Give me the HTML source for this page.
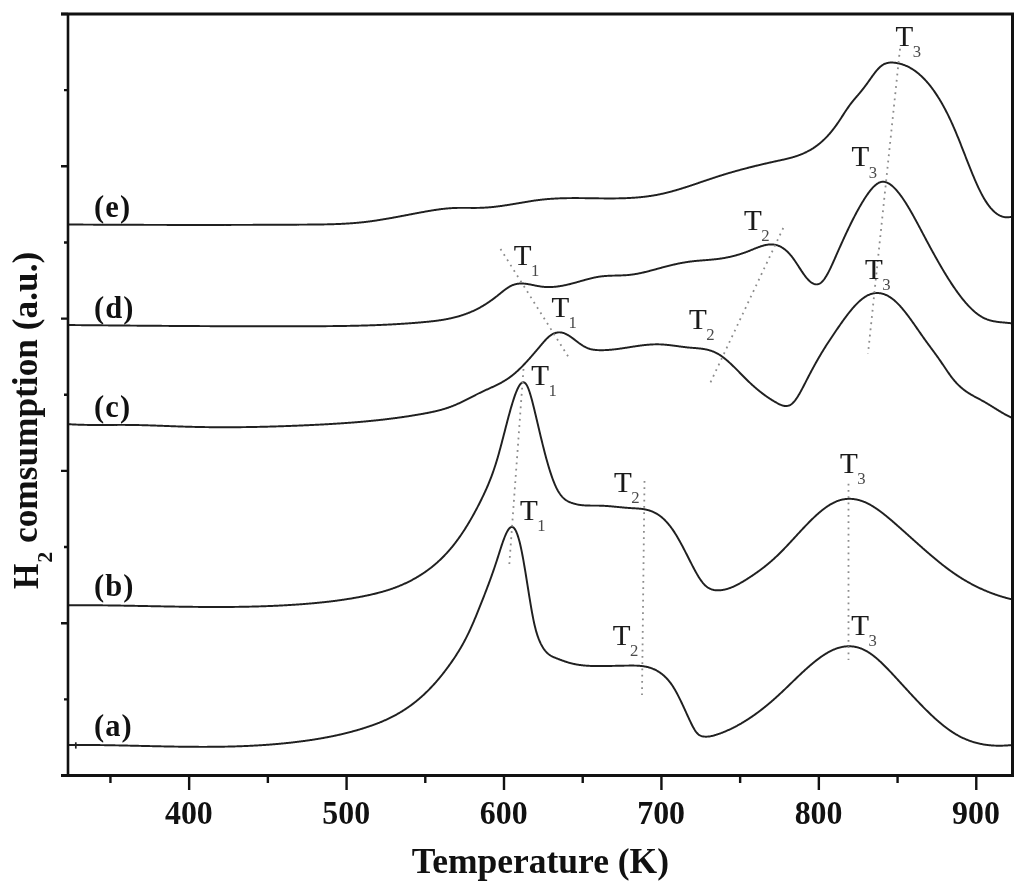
<!DOCTYPE html>
<html><head><meta charset="utf-8"><title>H2 TPR profiles</title>
<style>html,body{margin:0;padding:0;background:#fff;}body{width:1024px;height:892px;overflow:hidden;font-family:"Liberation Serif",serif;}svg{display:block;will-change:transform;}</style>
</head><body>
<svg width="1024" height="892" viewBox="0 0 1024 892">
<rect width="1024" height="892" fill="#fff"/>
<g fill="none" stroke="#202020" stroke-width="1.95" stroke-linejoin="round" stroke-linecap="round">
<path d="M69.00,744.99 L69.50,744.98 L70.00,744.98 L70.50,744.98 L71.00,744.97 L71.50,744.97 L72.00,744.97 L72.50,744.97 L73.00,744.96 L73.50,744.96 L74.00,744.96 L74.50,744.96 L75.00,744.96 L75.50,744.95 L76.00,744.95 L76.50,744.95 L77.00,744.95 L77.50,744.95 L78.00,744.95 L78.50,744.95 L79.00,744.95 L79.50,744.95 L80.00,744.95 L80.50,744.95 L81.00,744.95 L81.50,744.95 L82.00,744.95 L82.50,744.95 L83.00,744.95 L83.50,744.96 L84.00,744.96 L84.50,744.96 L85.00,744.96 L85.50,744.96 L86.00,744.97 L86.50,744.97 L87.00,744.97 L87.50,744.97 L88.00,744.98 L88.50,744.98 L89.00,744.98 L89.50,744.99 L90.00,744.99 L90.50,744.99 L91.00,745.00 L91.50,745.00 L92.00,745.01 L92.50,745.01 L93.00,745.02 L93.50,745.02 L94.00,745.03 L94.50,745.03 L95.00,745.04 L95.50,745.04 L96.00,745.05 L96.50,745.05 L97.00,745.06 L97.50,745.06 L98.00,745.07 L98.50,745.07 L99.00,745.08 L99.50,745.09 L100.00,745.09 L100.50,745.10 L101.00,745.11 L101.50,745.11 L102.00,745.12 L102.50,745.13 L103.00,745.13 L103.50,745.14 L104.00,745.15 L104.50,745.16 L105.00,745.16 L105.50,745.17 L106.00,745.18 L106.50,745.19 L107.00,745.20 L107.50,745.20 L108.00,745.21 L108.50,745.22 L109.00,745.23 L109.50,745.24 L110.00,745.25 L110.50,745.25 L111.00,745.26 L111.50,745.27 L112.00,745.28 L112.50,745.29 L113.00,745.30 L113.50,745.31 L114.00,745.32 L114.50,745.33 L115.00,745.34 L115.50,745.35 L116.00,745.36 L116.50,745.36 L117.00,745.37 L117.50,745.38 L118.00,745.39 L118.50,745.40 L119.00,745.41 L119.50,745.42 L120.00,745.43 L120.50,745.44 L121.00,745.45 L121.50,745.47 L122.00,745.48 L122.50,745.49 L123.00,745.50 L123.50,745.51 L124.00,745.52 L124.50,745.53 L125.00,745.54 L125.50,745.55 L126.00,745.56 L126.50,745.57 L127.00,745.58 L127.50,745.59 L128.00,745.60 L128.50,745.62 L129.00,745.63 L129.50,745.64 L130.00,745.65 L130.50,745.66 L131.00,745.67 L131.50,745.68 L132.00,745.69 L132.50,745.71 L133.00,745.72 L133.50,745.73 L134.00,745.74 L134.50,745.75 L135.00,745.76 L135.50,745.77 L136.00,745.78 L136.50,745.80 L137.00,745.81 L137.50,745.82 L138.00,745.83 L138.50,745.84 L139.00,745.85 L139.50,745.87 L140.00,745.88 L140.50,745.89 L141.00,745.90 L141.50,745.91 L142.00,745.92 L142.50,745.93 L143.00,745.95 L143.50,745.96 L144.00,745.97 L144.50,745.98 L145.00,745.99 L145.50,746.00 L146.00,746.01 L146.50,746.03 L147.00,746.04 L147.50,746.05 L148.00,746.06 L148.50,746.07 L149.00,746.08 L149.50,746.09 L150.00,746.11 L150.50,746.12 L151.00,746.13 L151.50,746.14 L152.00,746.15 L152.50,746.16 L153.00,746.17 L153.50,746.18 L154.00,746.19 L154.50,746.21 L155.00,746.22 L155.50,746.23 L156.00,746.24 L156.50,746.25 L157.00,746.26 L157.50,746.27 L158.00,746.28 L158.50,746.29 L159.00,746.30 L159.50,746.31 L160.00,746.32 L160.50,746.33 L161.00,746.34 L161.50,746.35 L162.00,746.36 L162.50,746.38 L163.00,746.39 L163.50,746.40 L164.00,746.41 L164.50,746.42 L165.00,746.42 L165.50,746.43 L166.00,746.44 L166.50,746.45 L167.00,746.46 L167.50,746.47 L168.00,746.48 L168.50,746.49 L169.00,746.50 L169.50,746.51 L170.00,746.52 L170.50,746.53 L171.00,746.54 L171.50,746.55 L172.00,746.55 L172.50,746.56 L173.00,746.57 L173.50,746.58 L174.00,746.59 L174.50,746.60 L175.00,746.60 L175.50,746.61 L176.00,746.62 L176.50,746.63 L177.00,746.64 L177.50,746.64 L178.00,746.65 L178.50,746.66 L179.00,746.67 L179.50,746.67 L180.00,746.68 L180.50,746.69 L181.00,746.69 L181.50,746.70 L182.00,746.71 L182.50,746.71 L183.00,746.72 L183.50,746.73 L184.00,746.73 L184.50,746.74 L185.00,746.74 L185.50,746.75 L186.00,746.75 L186.50,746.76 L187.00,746.76 L187.50,746.77 L188.00,746.78 L188.50,746.78 L189.00,746.78 L189.50,746.79 L190.00,746.79 L190.50,746.80 L191.00,746.80 L191.50,746.81 L192.00,746.81 L192.50,746.81 L193.00,746.82 L193.50,746.82 L194.00,746.82 L194.50,746.83 L195.00,746.83 L195.50,746.83 L196.00,746.83 L196.50,746.84 L197.00,746.84 L197.50,746.84 L198.00,746.84 L198.50,746.84 L199.00,746.85 L199.50,746.85 L200.00,746.85 L200.50,746.85 L201.00,746.85 L201.50,746.85 L202.00,746.85 L202.50,746.85 L203.00,746.85 L203.50,746.85 L204.00,746.85 L204.50,746.85 L205.00,746.85 L205.50,746.85 L206.00,746.85 L206.50,746.85 L207.00,746.85 L207.50,746.84 L208.00,746.84 L208.50,746.84 L209.00,746.84 L209.50,746.84 L210.00,746.83 L210.50,746.83 L211.00,746.83 L211.50,746.82 L212.00,746.82 L212.50,746.82 L213.00,746.81 L213.50,746.81 L214.00,746.80 L214.50,746.80 L215.00,746.79 L215.50,746.79 L216.00,746.78 L216.50,746.78 L217.00,746.77 L217.50,746.77 L218.00,746.76 L218.50,746.75 L219.00,746.75 L219.50,746.74 L220.00,746.73 L220.50,746.73 L221.00,746.72 L221.50,746.71 L222.00,746.70 L222.50,746.70 L223.00,746.69 L223.50,746.68 L224.00,746.67 L224.50,746.66 L225.00,746.65 L225.50,746.64 L226.00,746.63 L226.50,746.62 L227.00,746.61 L227.50,746.60 L228.00,746.59 L228.50,746.58 L229.00,746.56 L229.50,746.55 L230.00,746.54 L230.50,746.53 L231.00,746.52 L231.50,746.50 L232.00,746.49 L232.50,746.48 L233.00,746.46 L233.50,746.45 L234.00,746.43 L234.50,746.42 L235.00,746.41 L235.50,746.39 L236.00,746.37 L236.50,746.36 L237.00,746.34 L237.50,746.33 L238.00,746.31 L238.50,746.29 L239.00,746.28 L239.50,746.26 L240.00,746.24 L240.50,746.22 L241.00,746.20 L241.50,746.19 L242.00,746.17 L242.50,746.15 L243.00,746.13 L243.50,746.11 L244.00,746.09 L244.50,746.07 L245.00,746.05 L245.50,746.03 L246.00,746.00 L246.50,745.98 L247.00,745.96 L247.50,745.94 L248.00,745.92 L248.50,745.89 L249.00,745.87 L249.50,745.85 L250.00,745.82 L250.50,745.80 L251.00,745.77 L251.50,745.75 L252.00,745.72 L252.50,745.70 L253.00,745.67 L253.50,745.64 L254.00,745.62 L254.50,745.59 L255.00,745.56 L255.50,745.54 L256.00,745.51 L256.50,745.48 L257.00,745.45 L257.50,745.42 L258.00,745.39 L258.50,745.36 L259.00,745.33 L259.50,745.30 L260.00,745.27 L260.50,745.24 L261.00,745.21 L261.50,745.18 L262.00,745.15 L262.50,745.11 L263.00,745.08 L263.50,745.05 L264.00,745.01 L264.50,744.98 L265.00,744.94 L265.50,744.91 L266.00,744.87 L266.50,744.84 L267.00,744.80 L267.50,744.77 L268.00,744.73 L268.50,744.69 L269.00,744.66 L269.50,744.62 L270.00,744.58 L270.50,744.54 L271.00,744.50 L271.50,744.46 L272.00,744.42 L272.50,744.38 L273.00,744.34 L273.50,744.30 L274.00,744.26 L274.50,744.22 L275.00,744.18 L275.50,744.13 L276.00,744.09 L276.50,744.05 L277.00,744.00 L277.50,743.96 L278.00,743.91 L278.50,743.87 L279.00,743.82 L279.50,743.78 L280.00,743.73 L280.50,743.69 L281.00,743.64 L281.50,743.59 L282.00,743.54 L282.50,743.49 L283.00,743.45 L283.50,743.40 L284.00,743.35 L284.50,743.30 L285.00,743.25 L285.50,743.20 L286.00,743.14 L286.50,743.09 L287.00,743.04 L287.50,742.99 L288.00,742.93 L288.50,742.88 L289.00,742.83 L289.50,742.77 L290.00,742.72 L290.50,742.66 L291.00,742.61 L291.50,742.55 L292.00,742.49 L292.50,742.44 L293.00,742.38 L293.50,742.32 L294.00,742.26 L294.50,742.20 L295.00,742.14 L295.50,742.08 L296.00,742.02 L296.50,741.96 L297.00,741.90 L297.50,741.84 L298.00,741.78 L298.50,741.72 L299.00,741.65 L299.50,741.59 L300.00,741.52 L300.50,741.46 L301.00,741.40 L301.50,741.33 L302.00,741.26 L302.50,741.20 L303.00,741.13 L303.50,741.06 L304.00,740.99 L304.50,740.93 L305.00,740.86 L305.50,740.79 L306.00,740.72 L306.50,740.65 L307.00,740.58 L307.50,740.51 L308.00,740.43 L308.50,740.36 L309.00,740.29 L309.50,740.21 L310.00,740.14 L310.50,740.07 L311.00,739.99 L311.50,739.92 L312.00,739.84 L312.50,739.76 L313.00,739.68 L313.50,739.61 L314.00,739.53 L314.50,739.45 L315.00,739.37 L315.50,739.29 L316.00,739.21 L316.50,739.13 L317.00,739.05 L317.50,738.96 L318.00,738.88 L318.50,738.80 L319.00,738.71 L319.50,738.63 L320.00,738.54 L320.50,738.46 L321.00,738.37 L321.50,738.28 L322.00,738.19 L322.50,738.10 L323.00,738.01 L323.50,737.92 L324.00,737.83 L324.50,737.74 L325.00,737.65 L325.50,737.56 L326.00,737.46 L326.50,737.37 L327.00,737.28 L327.50,737.18 L328.00,737.08 L328.50,736.99 L329.00,736.89 L329.50,736.79 L330.00,736.69 L330.50,736.59 L331.00,736.49 L331.50,736.39 L332.00,736.29 L332.50,736.19 L333.00,736.09 L333.50,735.98 L334.00,735.88 L334.50,735.77 L335.00,735.67 L335.50,735.56 L336.00,735.45 L336.50,735.34 L337.00,735.23 L337.50,735.12 L338.00,735.01 L338.50,734.90 L339.00,734.79 L339.50,734.68 L340.00,734.56 L340.50,734.45 L341.00,734.33 L341.50,734.22 L342.00,734.10 L342.50,733.98 L343.00,733.86 L343.50,733.74 L344.00,733.62 L344.50,733.50 L345.00,733.38 L345.50,733.26 L346.00,733.13 L346.50,733.01 L347.00,732.88 L347.50,732.76 L348.00,732.63 L348.50,732.50 L349.00,732.37 L349.50,732.24 L350.00,732.11 L350.50,731.98 L351.00,731.85 L351.50,731.72 L352.00,731.58 L352.50,731.45 L353.00,731.31 L353.50,731.17 L354.00,731.04 L354.50,730.90 L355.00,730.76 L355.50,730.62 L356.00,730.48 L356.50,730.33 L357.00,730.19 L357.50,730.05 L358.00,729.90 L358.50,729.75 L359.00,729.61 L359.50,729.46 L360.00,729.31 L360.50,729.16 L361.00,729.01 L361.50,728.86 L362.00,728.70 L362.50,728.55 L363.00,728.39 L363.50,728.24 L364.00,728.08 L364.50,727.92 L365.00,727.76 L365.50,727.60 L366.00,727.44 L366.50,727.28 L367.00,727.12 L367.50,726.95 L368.00,726.79 L368.50,726.62 L369.00,726.45 L369.50,726.28 L370.00,726.11 L370.50,725.94 L371.00,725.77 L371.50,725.59 L372.00,725.42 L372.50,725.24 L373.00,725.06 L373.50,724.88 L374.00,724.70 L374.50,724.51 L375.00,724.33 L375.50,724.14 L376.00,723.95 L376.50,723.76 L377.00,723.57 L377.50,723.38 L378.00,723.18 L378.50,722.99 L379.00,722.79 L379.50,722.59 L380.00,722.39 L380.50,722.18 L381.00,721.98 L381.50,721.77 L382.00,721.56 L382.50,721.35 L383.00,721.14 L383.50,720.92 L384.00,720.70 L384.50,720.48 L385.00,720.26 L385.50,720.04 L386.00,719.81 L386.50,719.58 L387.00,719.35 L387.50,719.12 L388.00,718.89 L388.50,718.65 L389.00,718.41 L389.50,718.17 L390.00,717.93 L390.50,717.68 L391.00,717.43 L391.50,717.18 L392.00,716.93 L392.50,716.67 L393.00,716.41 L393.50,716.15 L394.00,715.89 L394.50,715.62 L395.00,715.35 L395.50,715.08 L396.00,714.81 L396.50,714.53 L397.00,714.25 L397.50,713.97 L398.00,713.69 L398.50,713.40 L399.00,713.11 L399.50,712.82 L400.00,712.52 L400.50,712.22 L401.00,711.92 L401.50,711.62 L402.00,711.31 L402.50,711.00 L403.00,710.68 L403.50,710.37 L404.00,710.05 L404.50,709.72 L405.00,709.40 L405.50,709.07 L406.00,708.74 L406.50,708.40 L407.00,708.06 L407.50,707.72 L408.00,707.38 L408.50,707.03 L409.00,706.68 L409.50,706.32 L410.00,705.96 L410.50,705.60 L411.00,705.23 L411.50,704.87 L412.00,704.49 L412.50,704.12 L413.00,703.74 L413.50,703.36 L414.00,702.97 L414.50,702.58 L415.00,702.18 L415.50,701.79 L416.00,701.39 L416.50,700.98 L417.00,700.57 L417.50,700.16 L418.00,699.74 L418.50,699.32 L419.00,698.90 L419.50,698.47 L420.00,698.04 L420.50,697.61 L421.00,697.17 L421.50,696.72 L422.00,696.28 L422.50,695.82 L423.00,695.37 L423.50,694.91 L424.00,694.44 L424.50,693.98 L425.00,693.50 L425.50,693.03 L426.00,692.55 L426.50,692.06 L427.00,691.58 L427.50,691.08 L428.00,690.59 L428.50,690.08 L429.00,689.58 L429.50,689.07 L430.00,688.55 L430.50,688.03 L431.00,687.51 L431.50,686.98 L432.00,686.45 L432.50,685.92 L433.00,685.38 L433.50,684.83 L434.00,684.28 L434.50,683.73 L435.00,683.17 L435.50,682.61 L436.00,682.04 L436.50,681.47 L437.00,680.89 L437.50,680.31 L438.00,679.72 L438.50,679.13 L439.00,678.54 L439.50,677.94 L440.00,677.33 L440.50,676.72 L441.00,676.11 L441.50,675.49 L442.00,674.87 L442.50,674.24 L443.00,673.61 L443.50,672.97 L444.00,672.33 L444.50,671.68 L445.00,671.03 L445.50,670.37 L446.00,669.71 L446.50,669.04 L447.00,668.37 L447.50,667.70 L448.00,667.01 L448.50,666.33 L449.00,665.64 L449.50,664.94 L450.00,664.24 L450.50,663.53 L451.00,662.82 L451.50,662.10 L452.00,661.38 L452.50,660.65 L453.00,659.92 L453.50,659.18 L454.00,658.44 L454.50,657.69 L455.00,656.94 L455.50,656.18 L456.00,655.41 L456.50,654.64 L457.00,653.85 L457.50,653.06 L458.00,652.27 L458.50,651.46 L459.00,650.64 L459.50,649.82 L460.00,648.99 L460.50,648.15 L461.00,647.29 L461.50,646.43 L462.00,645.56 L462.50,644.67 L463.00,643.78 L463.50,642.87 L464.00,641.95 L464.50,641.02 L465.00,640.08 L465.50,639.13 L466.00,638.16 L466.50,637.17 L467.00,636.18 L467.50,635.17 L468.00,634.15 L468.50,633.11 L469.00,632.06 L469.50,630.99 L470.00,629.91 L470.50,628.82 L471.00,627.71 L471.50,626.60 L472.00,625.47 L472.50,624.33 L473.00,623.18 L473.50,622.02 L474.00,620.85 L474.50,619.67 L475.00,618.48 L475.50,617.28 L476.00,616.08 L476.50,614.86 L477.00,613.64 L477.50,612.42 L478.00,611.19 L478.50,609.95 L479.00,608.70 L479.50,607.45 L480.00,606.20 L480.50,604.94 L481.00,603.68 L481.50,602.42 L482.00,601.15 L482.50,599.88 L483.00,598.61 L483.50,597.33 L484.00,596.05 L484.50,594.77 L485.00,593.48 L485.50,592.19 L486.00,590.89 L486.50,589.58 L487.00,588.27 L487.50,586.95 L488.00,585.62 L488.50,584.29 L489.00,582.95 L489.50,581.60 L490.00,580.24 L490.50,578.87 L491.00,577.48 L491.50,576.09 L492.00,574.69 L492.50,573.28 L493.00,571.85 L493.50,570.41 L494.00,568.96 L494.50,567.50 L495.00,566.02 L495.50,564.52 L496.00,563.01 L496.50,561.49 L497.00,559.95 L497.50,558.40 L498.00,556.83 L498.50,555.26 L499.00,553.68 L499.50,552.11 L500.00,550.54 L500.50,548.98 L501.00,547.44 L501.50,545.92 L502.00,544.43 L502.50,542.97 L503.00,541.54 L503.50,540.15 L504.00,538.80 L504.50,537.50 L505.00,536.25 L505.50,535.06 L506.00,533.94 L506.50,532.88 L507.00,531.89 L507.50,530.97 L508.00,530.14 L508.50,529.39 L509.00,528.73 L509.50,528.17 L510.00,527.70 L510.50,527.34 L511.00,527.09 L511.50,526.95 L512.00,526.92 L512.50,527.02 L513.00,527.24 L513.50,527.58 L514.00,528.05 L514.50,528.64 L515.00,529.36 L515.50,530.20 L516.00,531.17 L516.50,532.27 L517.00,533.50 L517.50,534.85 L518.00,536.34 L518.50,537.96 L519.00,539.70 L519.50,541.58 L520.00,543.60 L520.50,545.74 L521.00,548.01 L521.50,550.40 L522.00,552.90 L522.50,555.49 L523.00,558.18 L523.50,560.95 L524.00,563.80 L524.50,566.71 L525.00,569.69 L525.50,572.71 L526.00,575.77 L526.50,578.87 L527.00,581.99 L527.50,585.12 L528.00,588.27 L528.50,591.40 L529.00,594.53 L529.50,597.62 L530.00,600.68 L530.50,603.68 L531.00,606.63 L531.50,609.51 L532.00,612.31 L532.50,615.01 L533.00,617.62 L533.50,620.10 L534.00,622.47 L534.50,624.70 L535.00,626.80 L535.50,628.78 L536.00,630.64 L536.50,632.39 L537.00,634.04 L537.50,635.58 L538.00,637.03 L538.50,638.40 L539.00,639.68 L539.50,640.88 L540.00,642.02 L540.50,643.09 L541.00,644.11 L541.50,645.07 L542.00,645.98 L542.50,646.85 L543.00,647.66 L543.50,648.44 L544.00,649.17 L544.50,649.85 L545.00,650.50 L545.50,651.11 L546.00,651.68 L546.50,652.22 L547.00,652.73 L547.50,653.20 L548.00,653.65 L548.50,654.06 L549.00,654.45 L549.50,654.82 L550.00,655.16 L550.50,655.48 L551.00,655.78 L551.50,656.06 L552.00,656.33 L552.50,656.59 L553.00,656.83 L553.50,657.06 L554.00,657.28 L554.50,657.49 L555.00,657.70 L555.50,657.90 L556.00,658.10 L556.50,658.30 L557.00,658.49 L557.50,658.69 L558.00,658.89 L558.50,659.08 L559.00,659.28 L559.50,659.47 L560.00,659.66 L560.50,659.85 L561.00,660.03 L561.50,660.22 L562.00,660.40 L562.50,660.58 L563.00,660.76 L563.50,660.94 L564.00,661.12 L564.50,661.29 L565.00,661.46 L565.50,661.62 L566.00,661.79 L566.50,661.95 L567.00,662.11 L567.50,662.26 L568.00,662.42 L568.50,662.57 L569.00,662.71 L569.50,662.85 L570.00,662.99 L570.50,663.13 L571.00,663.26 L571.50,663.39 L572.00,663.51 L572.50,663.63 L573.00,663.75 L573.50,663.86 L574.00,663.97 L574.50,664.07 L575.00,664.17 L575.50,664.27 L576.00,664.37 L576.50,664.46 L577.00,664.55 L577.50,664.63 L578.00,664.72 L578.50,664.80 L579.00,664.87 L579.50,664.94 L580.00,665.01 L580.50,665.08 L581.00,665.15 L581.50,665.21 L582.00,665.27 L582.50,665.32 L583.00,665.38 L583.50,665.43 L584.00,665.48 L584.50,665.52 L585.00,665.57 L585.50,665.61 L586.00,665.65 L586.50,665.69 L587.00,665.72 L587.50,665.76 L588.00,665.79 L588.50,665.82 L589.00,665.84 L589.50,665.87 L590.00,665.89 L590.50,665.91 L591.00,665.93 L591.50,665.95 L592.00,665.97 L592.50,665.98 L593.00,666.00 L593.50,666.01 L594.00,666.02 L594.50,666.03 L595.00,666.04 L595.50,666.05 L596.00,666.05 L596.50,666.06 L597.00,666.06 L597.50,666.07 L598.00,666.07 L598.50,666.07 L599.00,666.07 L599.50,666.07 L600.00,666.07 L600.50,666.07 L601.00,666.07 L601.50,666.07 L602.00,666.06 L602.50,666.06 L603.00,666.05 L603.50,666.05 L604.00,666.04 L604.50,666.04 L605.00,666.03 L605.50,666.03 L606.00,666.02 L606.50,666.01 L607.00,666.00 L607.50,666.00 L608.00,665.99 L608.50,665.98 L609.00,665.97 L609.50,665.96 L610.00,665.95 L610.50,665.94 L611.00,665.93 L611.50,665.92 L612.00,665.91 L612.50,665.90 L613.00,665.89 L613.50,665.88 L614.00,665.87 L614.50,665.86 L615.00,665.85 L615.50,665.84 L616.00,665.82 L616.50,665.81 L617.00,665.80 L617.50,665.79 L618.00,665.78 L618.50,665.77 L619.00,665.76 L619.50,665.75 L620.00,665.74 L620.50,665.73 L621.00,665.72 L621.50,665.71 L622.00,665.70 L622.50,665.69 L623.00,665.68 L623.50,665.67 L624.00,665.66 L624.50,665.65 L625.00,665.64 L625.50,665.64 L626.00,665.63 L626.50,665.62 L627.00,665.62 L627.50,665.61 L628.00,665.60 L628.50,665.60 L629.00,665.59 L629.50,665.59 L630.00,665.59 L630.50,665.58 L631.00,665.58 L631.50,665.58 L632.00,665.58 L632.50,665.58 L633.00,665.58 L633.50,665.59 L634.00,665.59 L634.50,665.60 L635.00,665.61 L635.50,665.62 L636.00,665.64 L636.50,665.65 L637.00,665.67 L637.50,665.70 L638.00,665.72 L638.50,665.75 L639.00,665.78 L639.50,665.82 L640.00,665.86 L640.50,665.91 L641.00,665.95 L641.50,666.01 L642.00,666.06 L642.50,666.13 L643.00,666.19 L643.50,666.27 L644.00,666.34 L644.50,666.43 L645.00,666.52 L645.50,666.61 L646.00,666.71 L646.50,666.82 L647.00,666.93 L647.50,667.05 L648.00,667.17 L648.50,667.31 L649.00,667.44 L649.50,667.59 L650.00,667.75 L650.50,667.91 L651.00,668.08 L651.50,668.25 L652.00,668.44 L652.50,668.63 L653.00,668.83 L653.50,669.04 L654.00,669.26 L654.50,669.49 L655.00,669.73 L655.50,669.97 L656.00,670.23 L656.50,670.49 L657.00,670.77 L657.50,671.05 L658.00,671.35 L658.50,671.65 L659.00,671.97 L659.50,672.29 L660.00,672.63 L660.50,672.98 L661.00,673.34 L661.50,673.71 L662.00,674.10 L662.50,674.49 L663.00,674.91 L663.50,675.33 L664.00,675.77 L664.50,676.23 L665.00,676.69 L665.50,677.18 L666.00,677.68 L666.50,678.20 L667.00,678.73 L667.50,679.28 L668.00,679.85 L668.50,680.43 L669.00,681.04 L669.50,681.66 L670.00,682.30 L670.50,682.96 L671.00,683.64 L671.50,684.34 L672.00,685.06 L672.50,685.81 L673.00,686.57 L673.50,687.36 L674.00,688.16 L674.50,688.99 L675.00,689.85 L675.50,690.72 L676.00,691.61 L676.50,692.52 L677.00,693.45 L677.50,694.40 L678.00,695.36 L678.50,696.34 L679.00,697.33 L679.50,698.34 L680.00,699.35 L680.50,700.38 L681.00,701.42 L681.50,702.47 L682.00,703.53 L682.50,704.60 L683.00,705.67 L683.50,706.75 L684.00,707.83 L684.50,708.92 L685.00,710.01 L685.50,711.10 L686.00,712.20 L686.50,713.29 L687.00,714.39 L687.50,715.48 L688.00,716.57 L688.50,717.66 L689.00,718.74 L689.50,719.82 L690.00,720.89 L690.50,721.94 L691.00,722.99 L691.50,724.01 L692.00,725.01 L692.50,725.98 L693.00,726.93 L693.50,727.84 L694.00,728.72 L694.50,729.56 L695.00,730.35 L695.50,731.10 L696.00,731.80 L696.50,732.45 L697.00,733.04 L697.50,733.57 L698.00,734.05 L698.50,734.47 L699.00,734.85 L699.50,735.17 L700.00,735.46 L700.50,735.70 L701.00,735.91 L701.50,736.08 L702.00,736.23 L702.50,736.34 L703.00,736.44 L703.50,736.51 L704.00,736.57 L704.50,736.62 L705.00,736.65 L705.50,736.67 L706.00,736.67 L706.50,736.67 L707.00,736.65 L707.50,736.63 L708.00,736.59 L708.50,736.54 L709.00,736.48 L709.50,736.42 L710.00,736.34 L710.50,736.26 L711.00,736.16 L711.50,736.06 L712.00,735.95 L712.50,735.84 L713.00,735.71 L713.50,735.58 L714.00,735.45 L714.50,735.31 L715.00,735.16 L715.50,735.01 L716.00,734.85 L716.50,734.69 L717.00,734.53 L717.50,734.36 L718.00,734.19 L718.50,734.02 L719.00,733.84 L719.50,733.67 L720.00,733.48 L720.50,733.30 L721.00,733.11 L721.50,732.93 L722.00,732.73 L722.50,732.54 L723.00,732.34 L723.50,732.14 L724.00,731.94 L724.50,731.74 L725.00,731.53 L725.50,731.32 L726.00,731.11 L726.50,730.89 L727.00,730.67 L727.50,730.45 L728.00,730.23 L728.50,730.00 L729.00,729.77 L729.50,729.54 L730.00,729.31 L730.50,729.07 L731.00,728.84 L731.50,728.59 L732.00,728.35 L732.50,728.10 L733.00,727.86 L733.50,727.60 L734.00,727.35 L734.50,727.09 L735.00,726.84 L735.50,726.57 L736.00,726.31 L736.50,726.04 L737.00,725.78 L737.50,725.50 L738.00,725.23 L738.50,724.95 L739.00,724.68 L739.50,724.39 L740.00,724.11 L740.50,723.82 L741.00,723.54 L741.50,723.24 L742.00,722.95 L742.50,722.65 L743.00,722.36 L743.50,722.06 L744.00,721.75 L744.50,721.45 L745.00,721.14 L745.50,720.83 L746.00,720.51 L746.50,720.20 L747.00,719.88 L747.50,719.56 L748.00,719.24 L748.50,718.91 L749.00,718.59 L749.50,718.26 L750.00,717.92 L750.50,717.59 L751.00,717.25 L751.50,716.91 L752.00,716.57 L752.50,716.23 L753.00,715.88 L753.50,715.53 L754.00,715.18 L754.50,714.83 L755.00,714.47 L755.50,714.11 L756.00,713.75 L756.50,713.39 L757.00,713.03 L757.50,712.66 L758.00,712.29 L758.50,711.92 L759.00,711.54 L759.50,711.17 L760.00,710.79 L760.50,710.41 L761.00,710.02 L761.50,709.64 L762.00,709.25 L762.50,708.86 L763.00,708.47 L763.50,708.07 L764.00,707.68 L764.50,707.28 L765.00,706.88 L765.50,706.47 L766.00,706.07 L766.50,705.66 L767.00,705.25 L767.50,704.84 L768.00,704.42 L768.50,704.01 L769.00,703.59 L769.50,703.17 L770.00,702.74 L770.50,702.32 L771.00,701.89 L771.50,701.46 L772.00,701.03 L772.50,700.60 L773.00,700.16 L773.50,699.72 L774.00,699.28 L774.50,698.84 L775.00,698.39 L775.50,697.95 L776.00,697.50 L776.50,697.05 L777.00,696.59 L777.50,696.14 L778.00,695.68 L778.50,695.22 L779.00,694.76 L779.50,694.30 L780.00,693.83 L780.50,693.37 L781.00,692.90 L781.50,692.43 L782.00,691.96 L782.50,691.49 L783.00,691.01 L783.50,690.54 L784.00,690.06 L784.50,689.58 L785.00,689.11 L785.50,688.63 L786.00,688.15 L786.50,687.67 L787.00,687.19 L787.50,686.70 L788.00,686.22 L788.50,685.74 L789.00,685.26 L789.50,684.77 L790.00,684.29 L790.50,683.80 L791.00,683.32 L791.50,682.84 L792.00,682.35 L792.50,681.87 L793.00,681.38 L793.50,680.90 L794.00,680.42 L794.50,679.94 L795.00,679.45 L795.50,678.97 L796.00,678.49 L796.50,678.01 L797.00,677.53 L797.50,677.05 L798.00,676.57 L798.50,676.10 L799.00,675.62 L799.50,675.15 L800.00,674.68 L800.50,674.20 L801.00,673.73 L801.50,673.26 L802.00,672.80 L802.50,672.33 L803.00,671.87 L803.50,671.41 L804.00,670.94 L804.50,670.49 L805.00,670.03 L805.50,669.58 L806.00,669.12 L806.50,668.67 L807.00,668.22 L807.50,667.78 L808.00,667.34 L808.50,666.90 L809.00,666.46 L809.50,666.02 L810.00,665.59 L810.50,665.16 L811.00,664.73 L811.50,664.31 L812.00,663.89 L812.50,663.47 L813.00,663.06 L813.50,662.65 L814.00,662.24 L814.50,661.83 L815.00,661.43 L815.50,661.03 L816.00,660.64 L816.50,660.25 L817.00,659.86 L817.50,659.48 L818.00,659.10 L818.50,658.73 L819.00,658.36 L819.50,657.99 L820.00,657.63 L820.50,657.27 L821.00,656.92 L821.50,656.57 L822.00,656.22 L822.50,655.88 L823.00,655.55 L823.50,655.22 L824.00,654.89 L824.50,654.57 L825.00,654.26 L825.50,653.94 L826.00,653.64 L826.50,653.34 L827.00,653.04 L827.50,652.75 L828.00,652.47 L828.50,652.19 L829.00,651.92 L829.50,651.65 L830.00,651.39 L830.50,651.13 L831.00,650.88 L831.50,650.64 L832.00,650.40 L832.50,650.16 L833.00,649.94 L833.50,649.72 L834.00,649.50 L834.50,649.30 L835.00,649.10 L835.50,648.90 L836.00,648.71 L836.50,648.53 L837.00,648.36 L837.50,648.19 L838.00,648.03 L838.50,647.88 L839.00,647.73 L839.50,647.59 L840.00,647.46 L840.50,647.33 L841.00,647.21 L841.50,647.10 L842.00,646.99 L842.50,646.89 L843.00,646.80 L843.50,646.72 L844.00,646.64 L844.50,646.57 L845.00,646.51 L845.50,646.45 L846.00,646.41 L846.50,646.37 L847.00,646.33 L847.50,646.31 L848.00,646.29 L848.50,646.28 L849.00,646.27 L849.50,646.28 L850.00,646.29 L850.50,646.31 L851.00,646.33 L851.50,646.37 L852.00,646.41 L852.50,646.46 L853.00,646.52 L853.50,646.58 L854.00,646.66 L854.50,646.74 L855.00,646.83 L855.50,646.92 L856.00,647.03 L856.50,647.14 L857.00,647.26 L857.50,647.39 L858.00,647.52 L858.50,647.67 L859.00,647.82 L859.50,647.98 L860.00,648.15 L860.50,648.33 L861.00,648.51 L861.50,648.71 L862.00,648.91 L862.50,649.12 L863.00,649.34 L863.50,649.57 L864.00,649.80 L864.50,650.05 L865.00,650.30 L865.50,650.56 L866.00,650.83 L866.50,651.11 L867.00,651.40 L867.50,651.69 L868.00,651.99 L868.50,652.30 L869.00,652.62 L869.50,652.95 L870.00,653.29 L870.50,653.63 L871.00,653.98 L871.50,654.33 L872.00,654.70 L872.50,655.07 L873.00,655.45 L873.50,655.83 L874.00,656.22 L874.50,656.62 L875.00,657.02 L875.50,657.43 L876.00,657.85 L876.50,658.27 L877.00,658.70 L877.50,659.13 L878.00,659.57 L878.50,660.01 L879.00,660.46 L879.50,660.91 L880.00,661.37 L880.50,661.83 L881.00,662.30 L881.50,662.77 L882.00,663.25 L882.50,663.73 L883.00,664.22 L883.50,664.71 L884.00,665.20 L884.50,665.70 L885.00,666.20 L885.50,666.70 L886.00,667.21 L886.50,667.72 L887.00,668.23 L887.50,668.74 L888.00,669.26 L888.50,669.78 L889.00,670.31 L889.50,670.83 L890.00,671.36 L890.50,671.89 L891.00,672.42 L891.50,672.95 L892.00,673.49 L892.50,674.03 L893.00,674.56 L893.50,675.10 L894.00,675.64 L894.50,676.18 L895.00,676.72 L895.50,677.27 L896.00,677.81 L896.50,678.35 L897.00,678.90 L897.50,679.44 L898.00,679.99 L898.50,680.53 L899.00,681.08 L899.50,681.62 L900.00,682.17 L900.50,682.72 L901.00,683.26 L901.50,683.81 L902.00,684.36 L902.50,684.90 L903.00,685.45 L903.50,686.00 L904.00,686.55 L904.50,687.09 L905.00,687.64 L905.50,688.18 L906.00,688.73 L906.50,689.28 L907.00,689.82 L907.50,690.37 L908.00,690.91 L908.50,691.45 L909.00,692.00 L909.50,692.54 L910.00,693.08 L910.50,693.62 L911.00,694.16 L911.50,694.70 L912.00,695.24 L912.50,695.78 L913.00,696.32 L913.50,696.86 L914.00,697.39 L914.50,697.92 L915.00,698.46 L915.50,698.99 L916.00,699.52 L916.50,700.05 L917.00,700.58 L917.50,701.11 L918.00,701.63 L918.50,702.16 L919.00,702.68 L919.50,703.20 L920.00,703.72 L920.50,704.24 L921.00,704.76 L921.50,705.27 L922.00,705.79 L922.50,706.30 L923.00,706.81 L923.50,707.32 L924.00,707.82 L924.50,708.33 L925.00,708.83 L925.50,709.33 L926.00,709.83 L926.50,710.33 L927.00,710.82 L927.50,711.31 L928.00,711.80 L928.50,712.29 L929.00,712.78 L929.50,713.26 L930.00,713.74 L930.50,714.22 L931.00,714.70 L931.50,715.17 L932.00,715.64 L932.50,716.11 L933.00,716.57 L933.50,717.03 L934.00,717.49 L934.50,717.95 L935.00,718.41 L935.50,718.86 L936.00,719.31 L936.50,719.75 L937.00,720.19 L937.50,720.63 L938.00,721.07 L938.50,721.50 L939.00,721.93 L939.50,722.36 L940.00,722.78 L940.50,723.20 L941.00,723.62 L941.50,724.03 L942.00,724.44 L942.50,724.85 L943.00,725.25 L943.50,725.65 L944.00,726.05 L944.50,726.44 L945.00,726.83 L945.50,727.21 L946.00,727.59 L946.50,727.97 L947.00,728.34 L947.50,728.71 L948.00,729.08 L948.50,729.44 L949.00,729.80 L949.50,730.15 L950.00,730.50 L950.50,730.84 L951.00,731.18 L951.50,731.52 L952.00,731.85 L952.50,732.18 L953.00,732.50 L953.50,732.82 L954.00,733.13 L954.50,733.44 L955.00,733.74 L955.50,734.05 L956.00,734.34 L956.50,734.63 L957.00,734.92 L957.50,735.20 L958.00,735.48 L958.50,735.75 L959.00,736.02 L959.50,736.29 L960.00,736.55 L960.50,736.80 L961.00,737.06 L961.50,737.30 L962.00,737.55 L962.50,737.79 L963.00,738.02 L963.50,738.26 L964.00,738.48 L964.50,738.71 L965.00,738.92 L965.50,739.14 L966.00,739.35 L966.50,739.56 L967.00,739.76 L967.50,739.96 L968.00,740.16 L968.50,740.35 L969.00,740.54 L969.50,740.72 L970.00,740.90 L970.50,741.08 L971.00,741.25 L971.50,741.42 L972.00,741.58 L972.50,741.75 L973.00,741.90 L973.50,742.06 L974.00,742.21 L974.50,742.36 L975.00,742.50 L975.50,742.64 L976.00,742.78 L976.50,742.91 L977.00,743.04 L977.50,743.16 L978.00,743.29 L978.50,743.41 L979.00,743.52 L979.50,743.64 L980.00,743.75 L980.50,743.85 L981.00,743.96 L981.50,744.05 L982.00,744.15 L982.50,744.24 L983.00,744.34 L983.50,744.42 L984.00,744.51 L984.50,744.59 L985.00,744.67 L985.50,744.74 L986.00,744.81 L986.50,744.88 L987.00,744.95 L987.50,745.01 L988.00,745.07 L988.50,745.13 L989.00,745.18 L989.50,745.23 L990.00,745.28 L990.50,745.33 L991.00,745.37 L991.50,745.41 L992.00,745.45 L992.50,745.48 L993.00,745.52 L993.50,745.55 L994.00,745.57 L994.50,745.60 L995.00,745.62 L995.50,745.64 L996.00,745.66 L996.50,745.67 L997.00,745.68 L997.50,745.69 L998.00,745.70 L998.50,745.71 L999.00,745.71 L999.50,745.71 L1000.00,745.71 L1000.50,745.70 L1001.00,745.69 L1001.50,745.69 L1002.00,745.67 L1002.50,745.66 L1003.00,745.65 L1003.50,745.63 L1004.00,745.61 L1004.50,745.59 L1005.00,745.56 L1005.50,745.54 L1006.00,745.51 L1006.50,745.48 L1007.00,745.45 L1007.50,745.41 L1008.00,745.38 L1008.50,745.34 L1009.00,745.30 L1009.50,745.26 L1010.00,745.22 L1010.50,745.17 L1011.00,745.12 L1011.40,745.09"/>
<path d="M69.00,605.21 L69.50,605.20 L70.00,605.20 L70.50,605.20 L71.00,605.20 L71.50,605.20 L72.00,605.19 L72.50,605.19 L73.00,605.19 L73.50,605.19 L74.00,605.19 L74.50,605.19 L75.00,605.19 L75.50,605.19 L76.00,605.19 L76.50,605.19 L77.00,605.19 L77.50,605.19 L78.00,605.19 L78.50,605.19 L79.00,605.19 L79.50,605.19 L80.00,605.19 L80.50,605.19 L81.00,605.19 L81.50,605.19 L82.00,605.19 L82.50,605.19 L83.00,605.19 L83.50,605.20 L84.00,605.20 L84.50,605.20 L85.00,605.20 L85.50,605.20 L86.00,605.21 L86.50,605.21 L87.00,605.21 L87.50,605.21 L88.00,605.22 L88.50,605.22 L89.00,605.22 L89.50,605.22 L90.00,605.23 L90.50,605.23 L91.00,605.23 L91.50,605.24 L92.00,605.24 L92.50,605.24 L93.00,605.25 L93.50,605.25 L94.00,605.26 L94.50,605.26 L95.00,605.26 L95.50,605.27 L96.00,605.27 L96.50,605.28 L97.00,605.28 L97.50,605.29 L98.00,605.29 L98.50,605.30 L99.00,605.30 L99.50,605.31 L100.00,605.31 L100.50,605.32 L101.00,605.32 L101.50,605.33 L102.00,605.33 L102.50,605.34 L103.00,605.35 L103.50,605.35 L104.00,605.36 L104.50,605.36 L105.00,605.37 L105.50,605.38 L106.00,605.38 L106.50,605.39 L107.00,605.39 L107.50,605.40 L108.00,605.41 L108.50,605.41 L109.00,605.42 L109.50,605.43 L110.00,605.43 L110.50,605.44 L111.00,605.45 L111.50,605.46 L112.00,605.46 L112.50,605.47 L113.00,605.48 L113.50,605.48 L114.00,605.49 L114.50,605.50 L115.00,605.51 L115.50,605.52 L116.00,605.52 L116.50,605.53 L117.00,605.54 L117.50,605.55 L118.00,605.55 L118.50,605.56 L119.00,605.57 L119.50,605.58 L120.00,605.59 L120.50,605.59 L121.00,605.60 L121.50,605.61 L122.00,605.62 L122.50,605.63 L123.00,605.64 L123.50,605.65 L124.00,605.65 L124.50,605.66 L125.00,605.67 L125.50,605.68 L126.00,605.69 L126.50,605.70 L127.00,605.71 L127.50,605.72 L128.00,605.72 L128.50,605.73 L129.00,605.74 L129.50,605.75 L130.00,605.76 L130.50,605.77 L131.00,605.78 L131.50,605.79 L132.00,605.80 L132.50,605.81 L133.00,605.82 L133.50,605.82 L134.00,605.83 L134.50,605.84 L135.00,605.85 L135.50,605.86 L136.00,605.87 L136.50,605.88 L137.00,605.89 L137.50,605.90 L138.00,605.91 L138.50,605.92 L139.00,605.93 L139.50,605.94 L140.00,605.95 L140.50,605.96 L141.00,605.97 L141.50,605.98 L142.00,605.99 L142.50,606.00 L143.00,606.01 L143.50,606.02 L144.00,606.02 L144.50,606.03 L145.00,606.04 L145.50,606.05 L146.00,606.06 L146.50,606.07 L147.00,606.08 L147.50,606.09 L148.00,606.10 L148.50,606.11 L149.00,606.12 L149.50,606.13 L150.00,606.14 L150.50,606.15 L151.00,606.16 L151.50,606.17 L152.00,606.18 L152.50,606.19 L153.00,606.20 L153.50,606.21 L154.00,606.22 L154.50,606.23 L155.00,606.24 L155.50,606.25 L156.00,606.26 L156.50,606.27 L157.00,606.28 L157.50,606.28 L158.00,606.29 L158.50,606.30 L159.00,606.31 L159.50,606.32 L160.00,606.33 L160.50,606.34 L161.00,606.35 L161.50,606.36 L162.00,606.37 L162.50,606.38 L163.00,606.39 L163.50,606.40 L164.00,606.41 L164.50,606.42 L165.00,606.42 L165.50,606.43 L166.00,606.44 L166.50,606.45 L167.00,606.46 L167.50,606.47 L168.00,606.48 L168.50,606.49 L169.00,606.50 L169.50,606.50 L170.00,606.51 L170.50,606.52 L171.00,606.53 L171.50,606.54 L172.00,606.55 L172.50,606.56 L173.00,606.56 L173.50,606.57 L174.00,606.58 L174.50,606.59 L175.00,606.60 L175.50,606.61 L176.00,606.61 L176.50,606.62 L177.00,606.63 L177.50,606.64 L178.00,606.64 L178.50,606.65 L179.00,606.66 L179.50,606.67 L180.00,606.68 L180.50,606.68 L181.00,606.69 L181.50,606.70 L182.00,606.71 L182.50,606.71 L183.00,606.72 L183.50,606.73 L184.00,606.73 L184.50,606.74 L185.00,606.75 L185.50,606.75 L186.00,606.76 L186.50,606.77 L187.00,606.77 L187.50,606.78 L188.00,606.79 L188.50,606.79 L189.00,606.80 L189.50,606.81 L190.00,606.81 L190.50,606.82 L191.00,606.82 L191.50,606.83 L192.00,606.84 L192.50,606.84 L193.00,606.85 L193.50,606.85 L194.00,606.86 L194.50,606.86 L195.00,606.87 L195.50,606.87 L196.00,606.88 L196.50,606.88 L197.00,606.89 L197.50,606.89 L198.00,606.90 L198.50,606.90 L199.00,606.91 L199.50,606.91 L200.00,606.91 L200.50,606.92 L201.00,606.92 L201.50,606.93 L202.00,606.93 L202.50,606.93 L203.00,606.94 L203.50,606.94 L204.00,606.94 L204.50,606.95 L205.00,606.95 L205.50,606.95 L206.00,606.96 L206.50,606.96 L207.00,606.96 L207.50,606.96 L208.00,606.97 L208.50,606.97 L209.00,606.97 L209.50,606.97 L210.00,606.98 L210.50,606.98 L211.00,606.98 L211.50,606.98 L212.00,606.98 L212.50,606.98 L213.00,606.98 L213.50,606.99 L214.00,606.99 L214.50,606.99 L215.00,606.99 L215.50,606.99 L216.00,606.99 L216.50,606.99 L217.00,606.99 L217.50,606.99 L218.00,606.99 L218.50,606.99 L219.00,606.99 L219.50,606.99 L220.00,606.99 L220.50,606.99 L221.00,606.98 L221.50,606.98 L222.00,606.98 L222.50,606.98 L223.00,606.98 L223.50,606.98 L224.00,606.98 L224.50,606.97 L225.00,606.97 L225.50,606.97 L226.00,606.97 L226.50,606.96 L227.00,606.96 L227.50,606.96 L228.00,606.95 L228.50,606.95 L229.00,606.95 L229.50,606.94 L230.00,606.94 L230.50,606.94 L231.00,606.93 L231.50,606.93 L232.00,606.92 L232.50,606.92 L233.00,606.91 L233.50,606.91 L234.00,606.90 L234.50,606.90 L235.00,606.89 L235.50,606.89 L236.00,606.88 L236.50,606.87 L237.00,606.87 L237.50,606.86 L238.00,606.85 L238.50,606.85 L239.00,606.84 L239.50,606.83 L240.00,606.83 L240.50,606.82 L241.00,606.81 L241.50,606.80 L242.00,606.80 L242.50,606.79 L243.00,606.78 L243.50,606.77 L244.00,606.76 L244.50,606.75 L245.00,606.74 L245.50,606.73 L246.00,606.72 L246.50,606.71 L247.00,606.70 L247.50,606.69 L248.00,606.68 L248.50,606.67 L249.00,606.66 L249.50,606.65 L250.00,606.64 L250.50,606.63 L251.00,606.62 L251.50,606.61 L252.00,606.59 L252.50,606.58 L253.00,606.57 L253.50,606.56 L254.00,606.54 L254.50,606.53 L255.00,606.52 L255.50,606.50 L256.00,606.49 L256.50,606.48 L257.00,606.46 L257.50,606.45 L258.00,606.43 L258.50,606.42 L259.00,606.40 L259.50,606.39 L260.00,606.37 L260.50,606.36 L261.00,606.34 L261.50,606.32 L262.00,606.31 L262.50,606.29 L263.00,606.27 L263.50,606.26 L264.00,606.24 L264.50,606.22 L265.00,606.20 L265.50,606.19 L266.00,606.17 L266.50,606.15 L267.00,606.13 L267.50,606.11 L268.00,606.09 L268.50,606.07 L269.00,606.05 L269.50,606.03 L270.00,606.01 L270.50,605.99 L271.00,605.97 L271.50,605.95 L272.00,605.93 L272.50,605.91 L273.00,605.89 L273.50,605.87 L274.00,605.84 L274.50,605.82 L275.00,605.80 L275.50,605.78 L276.00,605.75 L276.50,605.73 L277.00,605.71 L277.50,605.68 L278.00,605.66 L278.50,605.63 L279.00,605.61 L279.50,605.58 L280.00,605.56 L280.50,605.53 L281.00,605.51 L281.50,605.48 L282.00,605.45 L282.50,605.43 L283.00,605.40 L283.50,605.37 L284.00,605.35 L284.50,605.32 L285.00,605.29 L285.50,605.26 L286.00,605.23 L286.50,605.21 L287.00,605.18 L287.50,605.15 L288.00,605.12 L288.50,605.09 L289.00,605.06 L289.50,605.03 L290.00,605.00 L290.50,604.97 L291.00,604.93 L291.50,604.90 L292.00,604.87 L292.50,604.84 L293.00,604.81 L293.50,604.77 L294.00,604.74 L294.50,604.71 L295.00,604.67 L295.50,604.64 L296.00,604.61 L296.50,604.57 L297.00,604.54 L297.50,604.50 L298.00,604.47 L298.50,604.43 L299.00,604.40 L299.50,604.36 L300.00,604.32 L300.50,604.29 L301.00,604.25 L301.50,604.21 L302.00,604.17 L302.50,604.13 L303.00,604.10 L303.50,604.06 L304.00,604.02 L304.50,603.98 L305.00,603.94 L305.50,603.90 L306.00,603.86 L306.50,603.82 L307.00,603.78 L307.50,603.74 L308.00,603.70 L308.50,603.65 L309.00,603.61 L309.50,603.57 L310.00,603.53 L310.50,603.48 L311.00,603.44 L311.50,603.39 L312.00,603.35 L312.50,603.31 L313.00,603.26 L313.50,603.22 L314.00,603.17 L314.50,603.12 L315.00,603.08 L315.50,603.03 L316.00,602.98 L316.50,602.93 L317.00,602.89 L317.50,602.84 L318.00,602.79 L318.50,602.74 L319.00,602.69 L319.50,602.64 L320.00,602.59 L320.50,602.54 L321.00,602.49 L321.50,602.44 L322.00,602.38 L322.50,602.33 L323.00,602.28 L323.50,602.22 L324.00,602.17 L324.50,602.12 L325.00,602.06 L325.50,602.01 L326.00,601.95 L326.50,601.89 L327.00,601.84 L327.50,601.78 L328.00,601.72 L328.50,601.66 L329.00,601.60 L329.50,601.55 L330.00,601.49 L330.50,601.43 L331.00,601.37 L331.50,601.30 L332.00,601.24 L332.50,601.18 L333.00,601.12 L333.50,601.06 L334.00,600.99 L334.50,600.93 L335.00,600.86 L335.50,600.80 L336.00,600.73 L336.50,600.67 L337.00,600.60 L337.50,600.53 L338.00,600.47 L338.50,600.40 L339.00,600.33 L339.50,600.26 L340.00,600.19 L340.50,600.12 L341.00,600.05 L341.50,599.98 L342.00,599.90 L342.50,599.83 L343.00,599.76 L343.50,599.68 L344.00,599.61 L344.50,599.53 L345.00,599.46 L345.50,599.38 L346.00,599.31 L346.50,599.23 L347.00,599.15 L347.50,599.07 L348.00,598.99 L348.50,598.91 L349.00,598.83 L349.50,598.75 L350.00,598.67 L350.50,598.59 L351.00,598.50 L351.50,598.42 L352.00,598.34 L352.50,598.25 L353.00,598.17 L353.50,598.08 L354.00,597.99 L354.50,597.91 L355.00,597.82 L355.50,597.73 L356.00,597.64 L356.50,597.55 L357.00,597.46 L357.50,597.37 L358.00,597.27 L358.50,597.18 L359.00,597.09 L359.50,596.99 L360.00,596.90 L360.50,596.80 L361.00,596.71 L361.50,596.61 L362.00,596.51 L362.50,596.42 L363.00,596.32 L363.50,596.22 L364.00,596.12 L364.50,596.01 L365.00,595.91 L365.50,595.81 L366.00,595.71 L366.50,595.60 L367.00,595.50 L367.50,595.39 L368.00,595.28 L368.50,595.18 L369.00,595.07 L369.50,594.96 L370.00,594.85 L370.50,594.74 L371.00,594.62 L371.50,594.51 L372.00,594.40 L372.50,594.28 L373.00,594.16 L373.50,594.05 L374.00,593.93 L374.50,593.81 L375.00,593.69 L375.50,593.56 L376.00,593.44 L376.50,593.32 L377.00,593.19 L377.50,593.06 L378.00,592.93 L378.50,592.80 L379.00,592.67 L379.50,592.54 L380.00,592.41 L380.50,592.27 L381.00,592.13 L381.50,592.00 L382.00,591.86 L382.50,591.71 L383.00,591.57 L383.50,591.43 L384.00,591.28 L384.50,591.13 L385.00,590.99 L385.50,590.84 L386.00,590.68 L386.50,590.53 L387.00,590.37 L387.50,590.22 L388.00,590.06 L388.50,589.90 L389.00,589.74 L389.50,589.57 L390.00,589.41 L390.50,589.24 L391.00,589.07 L391.50,588.90 L392.00,588.72 L392.50,588.55 L393.00,588.37 L393.50,588.19 L394.00,588.01 L394.50,587.83 L395.00,587.64 L395.50,587.46 L396.00,587.27 L396.50,587.08 L397.00,586.88 L397.50,586.69 L398.00,586.49 L398.50,586.29 L399.00,586.09 L399.50,585.89 L400.00,585.68 L400.50,585.47 L401.00,585.26 L401.50,585.05 L402.00,584.83 L402.50,584.62 L403.00,584.40 L403.50,584.17 L404.00,583.95 L404.50,583.72 L405.00,583.49 L405.50,583.26 L406.00,583.03 L406.50,582.79 L407.00,582.55 L407.50,582.31 L408.00,582.07 L408.50,581.82 L409.00,581.57 L409.50,581.32 L410.00,581.06 L410.50,580.81 L411.00,580.54 L411.50,580.28 L412.00,580.02 L412.50,579.75 L413.00,579.48 L413.50,579.20 L414.00,578.93 L414.50,578.65 L415.00,578.37 L415.50,578.08 L416.00,577.79 L416.50,577.50 L417.00,577.21 L417.50,576.91 L418.00,576.61 L418.50,576.31 L419.00,576.00 L419.50,575.69 L420.00,575.38 L420.50,575.07 L421.00,574.75 L421.50,574.43 L422.00,574.10 L422.50,573.78 L423.00,573.45 L423.50,573.11 L424.00,572.78 L424.50,572.44 L425.00,572.09 L425.50,571.74 L426.00,571.39 L426.50,571.04 L427.00,570.68 L427.50,570.32 L428.00,569.96 L428.50,569.59 L429.00,569.21 L429.50,568.84 L430.00,568.46 L430.50,568.07 L431.00,567.69 L431.50,567.29 L432.00,566.90 L432.50,566.50 L433.00,566.09 L433.50,565.68 L434.00,565.27 L434.50,564.85 L435.00,564.43 L435.50,564.00 L436.00,563.57 L436.50,563.13 L437.00,562.69 L437.50,562.25 L438.00,561.79 L438.50,561.34 L439.00,560.88 L439.50,560.41 L440.00,559.94 L440.50,559.47 L441.00,558.99 L441.50,558.50 L442.00,558.01 L442.50,557.52 L443.00,557.01 L443.50,556.51 L444.00,555.99 L444.50,555.48 L445.00,554.95 L445.50,554.42 L446.00,553.89 L446.50,553.35 L447.00,552.80 L447.50,552.25 L448.00,551.69 L448.50,551.13 L449.00,550.56 L449.50,549.98 L450.00,549.40 L450.50,548.81 L451.00,548.22 L451.50,547.62 L452.00,547.01 L452.50,546.40 L453.00,545.78 L453.50,545.15 L454.00,544.52 L454.50,543.88 L455.00,543.23 L455.50,542.58 L456.00,541.92 L456.50,541.25 L457.00,540.58 L457.50,539.90 L458.00,539.22 L458.50,538.52 L459.00,537.82 L459.50,537.12 L460.00,536.41 L460.50,535.69 L461.00,534.96 L461.50,534.23 L462.00,533.49 L462.50,532.74 L463.00,531.99 L463.50,531.23 L464.00,530.46 L464.50,529.69 L465.00,528.91 L465.50,528.12 L466.00,527.33 L466.50,526.53 L467.00,525.72 L467.50,524.90 L468.00,524.08 L468.50,523.25 L469.00,522.42 L469.50,521.57 L470.00,520.72 L470.50,519.87 L471.00,519.00 L471.50,518.13 L472.00,517.26 L472.50,516.37 L473.00,515.48 L473.50,514.58 L474.00,513.67 L474.50,512.76 L475.00,511.84 L475.50,510.91 L476.00,509.97 L476.50,509.03 L477.00,508.08 L477.50,507.13 L478.00,506.16 L478.50,505.19 L479.00,504.21 L479.50,503.23 L480.00,502.23 L480.50,501.23 L481.00,500.22 L481.50,499.21 L482.00,498.19 L482.50,497.15 L483.00,496.12 L483.50,495.07 L484.00,494.01 L484.50,492.94 L485.00,491.86 L485.50,490.77 L486.00,489.66 L486.50,488.53 L487.00,487.39 L487.50,486.24 L488.00,485.07 L488.50,483.87 L489.00,482.66 L489.50,481.43 L490.00,480.18 L490.50,478.90 L491.00,477.60 L491.50,476.28 L492.00,474.93 L492.50,473.55 L493.00,472.15 L493.50,470.72 L494.00,469.26 L494.50,467.77 L495.00,466.25 L495.50,464.70 L496.00,463.12 L496.50,461.50 L497.00,459.85 L497.50,458.16 L498.00,456.44 L498.50,454.69 L499.00,452.91 L499.50,451.11 L500.00,449.28 L500.50,447.43 L501.00,445.56 L501.50,443.67 L502.00,441.77 L502.50,439.86 L503.00,437.94 L503.50,436.01 L504.00,434.08 L504.50,432.15 L505.00,430.21 L505.50,428.28 L506.00,426.35 L506.50,424.43 L507.00,422.52 L507.50,420.62 L508.00,418.73 L508.50,416.86 L509.00,415.01 L509.50,413.19 L510.00,411.38 L510.50,409.60 L511.00,407.85 L511.50,406.13 L512.00,404.44 L512.50,402.79 L513.00,401.18 L513.50,399.61 L514.00,398.09 L514.50,396.61 L515.00,395.19 L515.50,393.82 L516.00,392.52 L516.50,391.27 L517.00,390.09 L517.50,388.98 L518.00,387.95 L518.50,386.99 L519.00,386.11 L519.50,385.31 L520.00,384.60 L520.50,383.98 L521.00,383.45 L521.50,383.02 L522.00,382.69 L522.50,382.46 L523.00,382.34 L523.50,382.33 L524.00,382.43 L524.50,382.65 L525.00,382.99 L525.50,383.46 L526.00,384.05 L526.50,384.77 L527.00,385.63 L527.50,386.62 L528.00,387.74 L528.50,388.98 L529.00,390.33 L529.50,391.79 L530.00,393.35 L530.50,394.99 L531.00,396.71 L531.50,398.51 L532.00,400.37 L532.50,402.28 L533.00,404.24 L533.50,406.24 L534.00,408.27 L534.50,410.32 L535.00,412.40 L535.50,414.49 L536.00,416.59 L536.50,418.70 L537.00,420.83 L537.50,422.95 L538.00,425.08 L538.50,427.21 L539.00,429.34 L539.50,431.45 L540.00,433.56 L540.50,435.66 L541.00,437.74 L541.50,439.80 L542.00,441.85 L542.50,443.87 L543.00,445.88 L543.50,447.86 L544.00,449.81 L544.50,451.75 L545.00,453.65 L545.50,455.53 L546.00,457.39 L546.50,459.21 L547.00,461.00 L547.50,462.77 L548.00,464.50 L548.50,466.20 L549.00,467.87 L549.50,469.50 L550.00,471.09 L550.50,472.65 L551.00,474.17 L551.50,475.65 L552.00,477.09 L552.50,478.49 L553.00,479.85 L553.50,481.16 L554.00,482.43 L554.50,483.65 L555.00,484.83 L555.50,485.96 L556.00,487.04 L556.50,488.07 L557.00,489.06 L557.50,489.99 L558.00,490.89 L558.50,491.73 L559.00,492.54 L559.50,493.30 L560.00,494.03 L560.50,494.71 L561.00,495.36 L561.50,495.97 L562.00,496.55 L562.50,497.10 L563.00,497.61 L563.50,498.09 L564.00,498.55 L564.50,498.97 L565.00,499.37 L565.50,499.75 L566.00,500.10 L566.50,500.43 L567.00,500.74 L567.50,501.03 L568.00,501.31 L568.50,501.56 L569.00,501.80 L569.50,502.03 L570.00,502.25 L570.50,502.45 L571.00,502.65 L571.50,502.83 L572.00,503.01 L572.50,503.18 L573.00,503.35 L573.50,503.50 L574.00,503.65 L574.50,503.79 L575.00,503.92 L575.50,504.05 L576.00,504.17 L576.50,504.29 L577.00,504.39 L577.50,504.50 L578.00,504.59 L578.50,504.68 L579.00,504.77 L579.50,504.85 L580.00,504.92 L580.50,504.99 L581.00,505.05 L581.50,505.11 L582.00,505.17 L582.50,505.22 L583.00,505.27 L583.50,505.31 L584.00,505.35 L584.50,505.39 L585.00,505.42 L585.50,505.45 L586.00,505.47 L586.50,505.50 L587.00,505.52 L587.50,505.53 L588.00,505.55 L588.50,505.56 L589.00,505.57 L589.50,505.58 L590.00,505.59 L590.50,505.60 L591.00,505.60 L591.50,505.61 L592.00,505.61 L592.50,505.61 L593.00,505.61 L593.50,505.61 L594.00,505.61 L594.50,505.61 L595.00,505.61 L595.50,505.62 L596.00,505.62 L596.50,505.62 L597.00,505.62 L597.50,505.63 L598.00,505.63 L598.50,505.64 L599.00,505.65 L599.50,505.66 L600.00,505.67 L600.50,505.68 L601.00,505.70 L601.50,505.71 L602.00,505.73 L602.50,505.76 L603.00,505.78 L603.50,505.80 L604.00,505.83 L604.50,505.86 L605.00,505.89 L605.50,505.92 L606.00,505.95 L606.50,505.98 L607.00,506.02 L607.50,506.06 L608.00,506.09 L608.50,506.13 L609.00,506.17 L609.50,506.21 L610.00,506.25 L610.50,506.30 L611.00,506.34 L611.50,506.38 L612.00,506.43 L612.50,506.47 L613.00,506.52 L613.50,506.57 L614.00,506.61 L614.50,506.66 L615.00,506.71 L615.50,506.76 L616.00,506.81 L616.50,506.86 L617.00,506.90 L617.50,506.95 L618.00,507.00 L618.50,507.05 L619.00,507.10 L619.50,507.15 L620.00,507.20 L620.50,507.25 L621.00,507.29 L621.50,507.34 L622.00,507.39 L622.50,507.44 L623.00,507.48 L623.50,507.53 L624.00,507.57 L624.50,507.62 L625.00,507.66 L625.50,507.70 L626.00,507.74 L626.50,507.79 L627.00,507.83 L627.50,507.86 L628.00,507.90 L628.50,507.94 L629.00,507.97 L629.50,508.01 L630.00,508.04 L630.50,508.07 L631.00,508.10 L631.50,508.13 L632.00,508.16 L632.50,508.19 L633.00,508.21 L633.50,508.24 L634.00,508.27 L634.50,508.30 L635.00,508.33 L635.50,508.36 L636.00,508.39 L636.50,508.42 L637.00,508.45 L637.50,508.49 L638.00,508.53 L638.50,508.57 L639.00,508.61 L639.50,508.66 L640.00,508.71 L640.50,508.76 L641.00,508.82 L641.50,508.88 L642.00,508.94 L642.50,509.01 L643.00,509.08 L643.50,509.16 L644.00,509.24 L644.50,509.33 L645.00,509.42 L645.50,509.52 L646.00,509.63 L646.50,509.74 L647.00,509.86 L647.50,509.98 L648.00,510.11 L648.50,510.25 L649.00,510.39 L649.50,510.55 L650.00,510.71 L650.50,510.88 L651.00,511.05 L651.50,511.24 L652.00,511.43 L652.50,511.64 L653.00,511.85 L653.50,512.07 L654.00,512.30 L654.50,512.55 L655.00,512.80 L655.50,513.06 L656.00,513.33 L656.50,513.62 L657.00,513.91 L657.50,514.22 L658.00,514.54 L658.50,514.87 L659.00,515.21 L659.50,515.56 L660.00,515.93 L660.50,516.31 L661.00,516.70 L661.50,517.11 L662.00,517.52 L662.50,517.95 L663.00,518.40 L663.50,518.85 L664.00,519.32 L664.50,519.80 L665.00,520.30 L665.50,520.81 L666.00,521.33 L666.50,521.87 L667.00,522.42 L667.50,522.98 L668.00,523.56 L668.50,524.15 L669.00,524.76 L669.50,525.38 L670.00,526.02 L670.50,526.67 L671.00,527.33 L671.50,528.01 L672.00,528.70 L672.50,529.41 L673.00,530.13 L673.50,530.87 L674.00,531.62 L674.50,532.39 L675.00,533.17 L675.50,533.97 L676.00,534.78 L676.50,535.60 L677.00,536.44 L677.50,537.28 L678.00,538.14 L678.50,539.01 L679.00,539.90 L679.50,540.79 L680.00,541.69 L680.50,542.60 L681.00,543.52 L681.50,544.44 L682.00,545.38 L682.50,546.32 L683.00,547.27 L683.50,548.22 L684.00,549.18 L684.50,550.15 L685.00,551.12 L685.50,552.09 L686.00,553.07 L686.50,554.05 L687.00,555.03 L687.50,556.02 L688.00,557.00 L688.50,557.99 L689.00,558.98 L689.50,559.97 L690.00,560.96 L690.50,561.94 L691.00,562.93 L691.50,563.90 L692.00,564.88 L692.50,565.85 L693.00,566.81 L693.50,567.76 L694.00,568.71 L694.50,569.64 L695.00,570.56 L695.50,571.47 L696.00,572.37 L696.50,573.26 L697.00,574.13 L697.50,574.98 L698.00,575.82 L698.50,576.64 L699.00,577.44 L699.50,578.22 L700.00,578.98 L700.50,579.72 L701.00,580.43 L701.50,581.12 L702.00,581.79 L702.50,582.43 L703.00,583.04 L703.50,583.62 L704.00,584.18 L704.50,584.71 L705.00,585.20 L705.50,585.67 L706.00,586.11 L706.50,586.53 L707.00,586.91 L707.50,587.28 L708.00,587.62 L708.50,587.93 L709.00,588.22 L709.50,588.49 L710.00,588.74 L710.50,588.96 L711.00,589.17 L711.50,589.35 L712.00,589.52 L712.50,589.67 L713.00,589.80 L713.50,589.92 L714.00,590.02 L714.50,590.10 L715.00,590.17 L715.50,590.23 L716.00,590.28 L716.50,590.31 L717.00,590.33 L717.50,590.34 L718.00,590.34 L718.50,590.34 L719.00,590.32 L719.50,590.29 L720.00,590.26 L720.50,590.22 L721.00,590.17 L721.50,590.11 L722.00,590.04 L722.50,589.97 L723.00,589.89 L723.50,589.80 L724.00,589.70 L724.50,589.59 L725.00,589.48 L725.50,589.36 L726.00,589.23 L726.50,589.10 L727.00,588.96 L727.50,588.81 L728.00,588.65 L728.50,588.49 L729.00,588.33 L729.50,588.15 L730.00,587.97 L730.50,587.79 L731.00,587.59 L731.50,587.40 L732.00,587.19 L732.50,586.99 L733.00,586.77 L733.50,586.55 L734.00,586.33 L734.50,586.10 L735.00,585.86 L735.50,585.62 L736.00,585.38 L736.50,585.13 L737.00,584.88 L737.50,584.62 L738.00,584.36 L738.50,584.09 L739.00,583.82 L739.50,583.55 L740.00,583.27 L740.50,582.99 L741.00,582.71 L741.50,582.42 L742.00,582.13 L742.50,581.84 L743.00,581.54 L743.50,581.24 L744.00,580.94 L744.50,580.63 L745.00,580.33 L745.50,580.02 L746.00,579.70 L746.50,579.39 L747.00,579.07 L747.50,578.76 L748.00,578.44 L748.50,578.11 L749.00,577.79 L749.50,577.47 L750.00,577.14 L750.50,576.81 L751.00,576.48 L751.50,576.15 L752.00,575.82 L752.50,575.48 L753.00,575.14 L753.50,574.80 L754.00,574.46 L754.50,574.12 L755.00,573.77 L755.50,573.42 L756.00,573.07 L756.50,572.72 L757.00,572.37 L757.50,572.01 L758.00,571.65 L758.50,571.29 L759.00,570.92 L759.50,570.56 L760.00,570.19 L760.50,569.82 L761.00,569.44 L761.50,569.07 L762.00,568.69 L762.50,568.31 L763.00,567.92 L763.50,567.54 L764.00,567.15 L764.50,566.75 L765.00,566.36 L765.50,565.96 L766.00,565.56 L766.50,565.16 L767.00,564.75 L767.50,564.34 L768.00,563.93 L768.50,563.51 L769.00,563.09 L769.50,562.67 L770.00,562.24 L770.50,561.81 L771.00,561.38 L771.50,560.95 L772.00,560.51 L772.50,560.07 L773.00,559.62 L773.50,559.17 L774.00,558.72 L774.50,558.26 L775.00,557.80 L775.50,557.34 L776.00,556.87 L776.50,556.40 L777.00,555.93 L777.50,555.45 L778.00,554.97 L778.50,554.49 L779.00,554.00 L779.50,553.51 L780.00,553.01 L780.50,552.52 L781.00,552.01 L781.50,551.51 L782.00,551.00 L782.50,550.50 L783.00,549.98 L783.50,549.47 L784.00,548.95 L784.50,548.43 L785.00,547.91 L785.50,547.39 L786.00,546.86 L786.50,546.34 L787.00,545.81 L787.50,545.28 L788.00,544.74 L788.50,544.21 L789.00,543.68 L789.50,543.14 L790.00,542.60 L790.50,542.06 L791.00,541.52 L791.50,540.98 L792.00,540.44 L792.50,539.90 L793.00,539.36 L793.50,538.81 L794.00,538.27 L794.50,537.73 L795.00,537.18 L795.50,536.64 L796.00,536.09 L796.50,535.55 L797.00,535.01 L797.50,534.46 L798.00,533.92 L798.50,533.38 L799.00,532.84 L799.50,532.29 L800.00,531.75 L800.50,531.22 L801.00,530.68 L801.50,530.14 L802.00,529.60 L802.50,529.07 L803.00,528.54 L803.50,528.00 L804.00,527.47 L804.50,526.95 L805.00,526.42 L805.50,525.90 L806.00,525.37 L806.50,524.85 L807.00,524.34 L807.50,523.82 L808.00,523.31 L808.50,522.80 L809.00,522.29 L809.50,521.78 L810.00,521.28 L810.50,520.78 L811.00,520.28 L811.50,519.79 L812.00,519.30 L812.50,518.82 L813.00,518.33 L813.50,517.85 L814.00,517.38 L814.50,516.90 L815.00,516.44 L815.50,515.97 L816.00,515.51 L816.50,515.06 L817.00,514.60 L817.50,514.16 L818.00,513.71 L818.50,513.28 L819.00,512.84 L819.50,512.41 L820.00,511.99 L820.50,511.57 L821.00,511.16 L821.50,510.75 L822.00,510.34 L822.50,509.95 L823.00,509.55 L823.50,509.17 L824.00,508.78 L824.50,508.41 L825.00,508.04 L825.50,507.68 L826.00,507.32 L826.50,506.97 L827.00,506.62 L827.50,506.28 L828.00,505.95 L828.50,505.63 L829.00,505.31 L829.50,504.99 L830.00,504.69 L830.50,504.39 L831.00,504.10 L831.50,503.82 L832.00,503.54 L832.50,503.27 L833.00,503.01 L833.50,502.75 L834.00,502.51 L834.50,502.27 L835.00,502.04 L835.50,501.82 L836.00,501.60 L836.50,501.40 L837.00,501.20 L837.50,501.01 L838.00,500.83 L838.50,500.65 L839.00,500.49 L839.50,500.33 L840.00,500.18 L840.50,500.04 L841.00,499.90 L841.50,499.78 L842.00,499.66 L842.50,499.55 L843.00,499.45 L843.50,499.35 L844.00,499.27 L844.50,499.19 L845.00,499.12 L845.50,499.05 L846.00,499.00 L846.50,498.95 L847.00,498.91 L847.50,498.87 L848.00,498.85 L848.50,498.83 L849.00,498.82 L849.50,498.82 L850.00,498.82 L850.50,498.83 L851.00,498.85 L851.50,498.88 L852.00,498.91 L852.50,498.95 L853.00,499.00 L853.50,499.05 L854.00,499.11 L854.50,499.18 L855.00,499.26 L855.50,499.34 L856.00,499.43 L856.50,499.53 L857.00,499.63 L857.50,499.75 L858.00,499.86 L858.50,499.99 L859.00,500.12 L859.50,500.26 L860.00,500.40 L860.50,500.56 L861.00,500.72 L861.50,500.88 L862.00,501.05 L862.50,501.23 L863.00,501.42 L863.50,501.61 L864.00,501.81 L864.50,502.01 L865.00,502.22 L865.50,502.44 L866.00,502.67 L866.50,502.90 L867.00,503.13 L867.50,503.38 L868.00,503.63 L868.50,503.88 L869.00,504.14 L869.50,504.41 L870.00,504.68 L870.50,504.96 L871.00,505.24 L871.50,505.53 L872.00,505.83 L872.50,506.13 L873.00,506.43 L873.50,506.74 L874.00,507.06 L874.50,507.38 L875.00,507.70 L875.50,508.03 L876.00,508.36 L876.50,508.70 L877.00,509.04 L877.50,509.39 L878.00,509.74 L878.50,510.10 L879.00,510.46 L879.50,510.82 L880.00,511.19 L880.50,511.56 L881.00,511.93 L881.50,512.31 L882.00,512.69 L882.50,513.07 L883.00,513.46 L883.50,513.85 L884.00,514.24 L884.50,514.64 L885.00,515.04 L885.50,515.44 L886.00,515.85 L886.50,516.25 L887.00,516.66 L887.50,517.08 L888.00,517.49 L888.50,517.91 L889.00,518.33 L889.50,518.75 L890.00,519.17 L890.50,519.59 L891.00,520.02 L891.50,520.45 L892.00,520.87 L892.50,521.30 L893.00,521.74 L893.50,522.17 L894.00,522.60 L894.50,523.04 L895.00,523.47 L895.50,523.91 L896.00,524.35 L896.50,524.79 L897.00,525.23 L897.50,525.67 L898.00,526.11 L898.50,526.55 L899.00,526.99 L899.50,527.43 L900.00,527.87 L900.50,528.32 L901.00,528.76 L901.50,529.21 L902.00,529.65 L902.50,530.10 L903.00,530.54 L903.50,530.99 L904.00,531.43 L904.50,531.88 L905.00,532.33 L905.50,532.78 L906.00,533.22 L906.50,533.67 L907.00,534.12 L907.50,534.57 L908.00,535.02 L908.50,535.46 L909.00,535.91 L909.50,536.36 L910.00,536.81 L910.50,537.26 L911.00,537.71 L911.50,538.16 L912.00,538.61 L912.50,539.05 L913.00,539.50 L913.50,539.95 L914.00,540.40 L914.50,540.85 L915.00,541.29 L915.50,541.74 L916.00,542.19 L916.50,542.64 L917.00,543.08 L917.50,543.53 L918.00,543.97 L918.50,544.42 L919.00,544.86 L919.50,545.31 L920.00,545.75 L920.50,546.20 L921.00,546.64 L921.50,547.08 L922.00,547.52 L922.50,547.96 L923.00,548.41 L923.50,548.84 L924.00,549.28 L924.50,549.72 L925.00,550.16 L925.50,550.60 L926.00,551.03 L926.50,551.47 L927.00,551.90 L927.50,552.34 L928.00,552.77 L928.50,553.20 L929.00,553.63 L929.50,554.06 L930.00,554.49 L930.50,554.91 L931.00,555.34 L931.50,555.77 L932.00,556.19 L932.50,556.61 L933.00,557.03 L933.50,557.45 L934.00,557.87 L934.50,558.29 L935.00,558.71 L935.50,559.12 L936.00,559.54 L936.50,559.95 L937.00,560.36 L937.50,560.77 L938.00,561.18 L938.50,561.59 L939.00,561.99 L939.50,562.39 L940.00,562.80 L940.50,563.20 L941.00,563.60 L941.50,563.99 L942.00,564.39 L942.50,564.78 L943.00,565.17 L943.50,565.57 L944.00,565.95 L944.50,566.34 L945.00,566.73 L945.50,567.11 L946.00,567.49 L946.50,567.87 L947.00,568.25 L947.50,568.62 L948.00,568.99 L948.50,569.37 L949.00,569.74 L949.50,570.10 L950.00,570.47 L950.50,570.83 L951.00,571.19 L951.50,571.55 L952.00,571.91 L952.50,572.26 L953.00,572.61 L953.50,572.96 L954.00,573.31 L954.50,573.65 L955.00,574.00 L955.50,574.34 L956.00,574.67 L956.50,575.01 L957.00,575.34 L957.50,575.67 L958.00,576.00 L958.50,576.33 L959.00,576.65 L959.50,576.97 L960.00,577.29 L960.50,577.61 L961.00,577.93 L961.50,578.24 L962.00,578.55 L962.50,578.86 L963.00,579.16 L963.50,579.47 L964.00,579.77 L964.50,580.07 L965.00,580.37 L965.50,580.66 L966.00,580.95 L966.50,581.24 L967.00,581.53 L967.50,581.82 L968.00,582.10 L968.50,582.38 L969.00,582.66 L969.50,582.94 L970.00,583.22 L970.50,583.49 L971.00,583.76 L971.50,584.03 L972.00,584.30 L972.50,584.56 L973.00,584.82 L973.50,585.08 L974.00,585.34 L974.50,585.60 L975.00,585.85 L975.50,586.10 L976.00,586.35 L976.50,586.60 L977.00,586.85 L977.50,587.09 L978.00,587.33 L978.50,587.57 L979.00,587.81 L979.50,588.05 L980.00,588.28 L980.50,588.51 L981.00,588.74 L981.50,588.97 L982.00,589.20 L982.50,589.42 L983.00,589.64 L983.50,589.86 L984.00,590.08 L984.50,590.30 L985.00,590.51 L985.50,590.72 L986.00,590.93 L986.50,591.14 L987.00,591.35 L987.50,591.55 L988.00,591.75 L988.50,591.96 L989.00,592.15 L989.50,592.35 L990.00,592.55 L990.50,592.74 L991.00,592.93 L991.50,593.12 L992.00,593.31 L992.50,593.49 L993.00,593.68 L993.50,593.86 L994.00,594.04 L994.50,594.22 L995.00,594.39 L995.50,594.57 L996.00,594.74 L996.50,594.91 L997.00,595.08 L997.50,595.25 L998.00,595.41 L998.50,595.58 L999.00,595.74 L999.50,595.90 L1000.00,596.06 L1000.50,596.22 L1001.00,596.37 L1001.50,596.53 L1002.00,596.68 L1002.50,596.83 L1003.00,596.98 L1003.50,597.12 L1004.00,597.27 L1004.50,597.41 L1005.00,597.55 L1005.50,597.69 L1006.00,597.83 L1006.50,597.97 L1007.00,598.10 L1007.50,598.24 L1008.00,598.37 L1008.50,598.50 L1009.00,598.63 L1009.50,598.75 L1010.00,598.88 L1010.50,599.00 L1011.00,599.12 L1011.40,599.22"/>
<path d="M69.00,424.22 L69.50,424.25 L70.00,424.28 L70.50,424.31 L71.00,424.34 L71.50,424.37 L72.00,424.40 L72.50,424.42 L73.00,424.45 L73.50,424.47 L74.00,424.50 L74.50,424.52 L75.00,424.54 L75.50,424.57 L76.00,424.59 L76.50,424.61 L77.00,424.63 L77.50,424.65 L78.00,424.67 L78.50,424.68 L79.00,424.70 L79.50,424.72 L80.00,424.73 L80.50,424.75 L81.00,424.76 L81.50,424.78 L82.00,424.79 L82.50,424.80 L83.00,424.82 L83.50,424.83 L84.00,424.84 L84.50,424.85 L85.00,424.86 L85.50,424.87 L86.00,424.88 L86.50,424.89 L87.00,424.90 L87.50,424.90 L88.00,424.91 L88.50,424.92 L89.00,424.92 L89.50,424.93 L90.00,424.93 L90.50,424.94 L91.00,424.94 L91.50,424.95 L92.00,424.95 L92.50,424.96 L93.00,424.96 L93.50,424.96 L94.00,424.96 L94.50,424.97 L95.00,424.97 L95.50,424.97 L96.00,424.97 L96.50,424.97 L97.00,424.97 L97.50,424.97 L98.00,424.97 L98.50,424.97 L99.00,424.97 L99.50,424.97 L100.00,424.97 L100.50,424.97 L101.00,424.97 L101.50,424.97 L102.00,424.97 L102.50,424.97 L103.00,424.96 L103.50,424.96 L104.00,424.96 L104.50,424.96 L105.00,424.96 L105.50,424.95 L106.00,424.95 L106.50,424.95 L107.00,424.95 L107.50,424.94 L108.00,424.94 L108.50,424.94 L109.00,424.94 L109.50,424.93 L110.00,424.93 L110.50,424.93 L111.00,424.92 L111.50,424.92 L112.00,424.92 L112.50,424.92 L113.00,424.91 L113.50,424.91 L114.00,424.91 L114.50,424.91 L115.00,424.90 L115.50,424.90 L116.00,424.90 L116.50,424.90 L117.00,424.90 L117.50,424.89 L118.00,424.89 L118.50,424.89 L119.00,424.89 L119.50,424.89 L120.00,424.89 L120.50,424.89 L121.00,424.89 L121.50,424.89 L122.00,424.89 L122.50,424.89 L123.00,424.89 L123.50,424.89 L124.00,424.89 L124.50,424.89 L125.00,424.90 L125.50,424.90 L126.00,424.90 L126.50,424.90 L127.00,424.91 L127.50,424.91 L128.00,424.92 L128.50,424.92 L129.00,424.93 L129.50,424.93 L130.00,424.94 L130.50,424.94 L131.00,424.95 L131.50,424.95 L132.00,424.96 L132.50,424.97 L133.00,424.98 L133.50,424.98 L134.00,424.99 L134.50,425.00 L135.00,425.01 L135.50,425.02 L136.00,425.03 L136.50,425.04 L137.00,425.05 L137.50,425.06 L138.00,425.07 L138.50,425.08 L139.00,425.09 L139.50,425.10 L140.00,425.12 L140.50,425.13 L141.00,425.14 L141.50,425.15 L142.00,425.17 L142.50,425.18 L143.00,425.19 L143.50,425.21 L144.00,425.22 L144.50,425.23 L145.00,425.25 L145.50,425.26 L146.00,425.28 L146.50,425.29 L147.00,425.31 L147.50,425.32 L148.00,425.34 L148.50,425.35 L149.00,425.37 L149.50,425.39 L150.00,425.40 L150.50,425.42 L151.00,425.43 L151.50,425.45 L152.00,425.47 L152.50,425.48 L153.00,425.50 L153.50,425.52 L154.00,425.54 L154.50,425.55 L155.00,425.57 L155.50,425.59 L156.00,425.61 L156.50,425.62 L157.00,425.64 L157.50,425.66 L158.00,425.68 L158.50,425.70 L159.00,425.71 L159.50,425.73 L160.00,425.75 L160.50,425.77 L161.00,425.79 L161.50,425.81 L162.00,425.83 L162.50,425.84 L163.00,425.86 L163.50,425.88 L164.00,425.90 L164.50,425.92 L165.00,425.94 L165.50,425.96 L166.00,425.98 L166.50,425.99 L167.00,426.01 L167.50,426.03 L168.00,426.05 L168.50,426.07 L169.00,426.09 L169.50,426.11 L170.00,426.13 L170.50,426.14 L171.00,426.16 L171.50,426.18 L172.00,426.20 L172.50,426.22 L173.00,426.24 L173.50,426.26 L174.00,426.27 L174.50,426.29 L175.00,426.31 L175.50,426.33 L176.00,426.35 L176.50,426.36 L177.00,426.38 L177.50,426.40 L178.00,426.42 L178.50,426.43 L179.00,426.45 L179.50,426.47 L180.00,426.49 L180.50,426.50 L181.00,426.52 L181.50,426.54 L182.00,426.55 L182.50,426.57 L183.00,426.58 L183.50,426.60 L184.00,426.62 L184.50,426.63 L185.00,426.65 L185.50,426.66 L186.00,426.68 L186.50,426.69 L187.00,426.71 L187.50,426.72 L188.00,426.74 L188.50,426.75 L189.00,426.76 L189.50,426.78 L190.00,426.79 L190.50,426.80 L191.00,426.82 L191.50,426.83 L192.00,426.84 L192.50,426.85 L193.00,426.87 L193.50,426.88 L194.00,426.89 L194.50,426.90 L195.00,426.91 L195.50,426.92 L196.00,426.94 L196.50,426.95 L197.00,426.96 L197.50,426.97 L198.00,426.98 L198.50,426.99 L199.00,427.00 L199.50,427.01 L200.00,427.02 L200.50,427.03 L201.00,427.03 L201.50,427.04 L202.00,427.05 L202.50,427.06 L203.00,427.07 L203.50,427.08 L204.00,427.08 L204.50,427.09 L205.00,427.10 L205.50,427.11 L206.00,427.11 L206.50,427.12 L207.00,427.13 L207.50,427.13 L208.00,427.14 L208.50,427.15 L209.00,427.15 L209.50,427.16 L210.00,427.16 L210.50,427.17 L211.00,427.17 L211.50,427.18 L212.00,427.18 L212.50,427.19 L213.00,427.19 L213.50,427.20 L214.00,427.20 L214.50,427.20 L215.00,427.21 L215.50,427.21 L216.00,427.21 L216.50,427.22 L217.00,427.22 L217.50,427.22 L218.00,427.23 L218.50,427.23 L219.00,427.23 L219.50,427.23 L220.00,427.23 L220.50,427.24 L221.00,427.24 L221.50,427.24 L222.00,427.24 L222.50,427.24 L223.00,427.24 L223.50,427.24 L224.00,427.24 L224.50,427.24 L225.00,427.24 L225.50,427.24 L226.00,427.24 L226.50,427.24 L227.00,427.24 L227.50,427.24 L228.00,427.24 L228.50,427.24 L229.00,427.24 L229.50,427.24 L230.00,427.23 L230.50,427.23 L231.00,427.23 L231.50,427.23 L232.00,427.23 L232.50,427.22 L233.00,427.22 L233.50,427.22 L234.00,427.22 L234.50,427.21 L235.00,427.21 L235.50,427.21 L236.00,427.20 L236.50,427.20 L237.00,427.19 L237.50,427.19 L238.00,427.19 L238.50,427.18 L239.00,427.18 L239.50,427.17 L240.00,427.17 L240.50,427.16 L241.00,427.16 L241.50,427.15 L242.00,427.15 L242.50,427.14 L243.00,427.13 L243.50,427.13 L244.00,427.12 L244.50,427.12 L245.00,427.11 L245.50,427.10 L246.00,427.10 L246.50,427.09 L247.00,427.08 L247.50,427.07 L248.00,427.07 L248.50,427.06 L249.00,427.05 L249.50,427.04 L250.00,427.03 L250.50,427.03 L251.00,427.02 L251.50,427.01 L252.00,427.00 L252.50,426.99 L253.00,426.98 L253.50,426.97 L254.00,426.97 L254.50,426.96 L255.00,426.95 L255.50,426.94 L256.00,426.93 L256.50,426.92 L257.00,426.91 L257.50,426.90 L258.00,426.89 L258.50,426.87 L259.00,426.86 L259.50,426.85 L260.00,426.84 L260.50,426.83 L261.00,426.82 L261.50,426.81 L262.00,426.80 L262.50,426.79 L263.00,426.77 L263.50,426.76 L264.00,426.75 L264.50,426.74 L265.00,426.72 L265.50,426.71 L266.00,426.70 L266.50,426.69 L267.00,426.67 L267.50,426.66 L268.00,426.65 L268.50,426.63 L269.00,426.62 L269.50,426.61 L270.00,426.59 L270.50,426.58 L271.00,426.56 L271.50,426.55 L272.00,426.54 L272.50,426.52 L273.00,426.51 L273.50,426.49 L274.00,426.48 L274.50,426.46 L275.00,426.45 L275.50,426.43 L276.00,426.42 L276.50,426.40 L277.00,426.39 L277.50,426.37 L278.00,426.35 L278.50,426.34 L279.00,426.32 L279.50,426.31 L280.00,426.29 L280.50,426.27 L281.00,426.26 L281.50,426.24 L282.00,426.22 L282.50,426.21 L283.00,426.19 L283.50,426.17 L284.00,426.15 L284.50,426.14 L285.00,426.12 L285.50,426.10 L286.00,426.08 L286.50,426.06 L287.00,426.05 L287.50,426.03 L288.00,426.01 L288.50,425.99 L289.00,425.97 L289.50,425.95 L290.00,425.94 L290.50,425.92 L291.00,425.90 L291.50,425.88 L292.00,425.86 L292.50,425.84 L293.00,425.82 L293.50,425.80 L294.00,425.78 L294.50,425.76 L295.00,425.74 L295.50,425.72 L296.00,425.70 L296.50,425.68 L297.00,425.66 L297.50,425.64 L298.00,425.62 L298.50,425.60 L299.00,425.58 L299.50,425.56 L300.00,425.54 L300.50,425.51 L301.00,425.49 L301.50,425.47 L302.00,425.45 L302.50,425.43 L303.00,425.41 L303.50,425.39 L304.00,425.36 L304.50,425.34 L305.00,425.32 L305.50,425.30 L306.00,425.28 L306.50,425.25 L307.00,425.23 L307.50,425.21 L308.00,425.18 L308.50,425.16 L309.00,425.14 L309.50,425.12 L310.00,425.09 L310.50,425.07 L311.00,425.05 L311.50,425.02 L312.00,425.00 L312.50,424.97 L313.00,424.95 L313.50,424.93 L314.00,424.90 L314.50,424.88 L315.00,424.85 L315.50,424.83 L316.00,424.80 L316.50,424.78 L317.00,424.75 L317.50,424.73 L318.00,424.70 L318.50,424.68 L319.00,424.65 L319.50,424.63 L320.00,424.60 L320.50,424.58 L321.00,424.55 L321.50,424.52 L322.00,424.50 L322.50,424.47 L323.00,424.44 L323.50,424.42 L324.00,424.39 L324.50,424.36 L325.00,424.33 L325.50,424.31 L326.00,424.28 L326.50,424.25 L327.00,424.22 L327.50,424.19 L328.00,424.17 L328.50,424.14 L329.00,424.11 L329.50,424.08 L330.00,424.05 L330.50,424.02 L331.00,423.99 L331.50,423.96 L332.00,423.93 L332.50,423.90 L333.00,423.87 L333.50,423.84 L334.00,423.81 L334.50,423.78 L335.00,423.75 L335.50,423.72 L336.00,423.69 L336.50,423.65 L337.00,423.62 L337.50,423.59 L338.00,423.56 L338.50,423.53 L339.00,423.49 L339.50,423.46 L340.00,423.43 L340.50,423.39 L341.00,423.36 L341.50,423.33 L342.00,423.29 L342.50,423.26 L343.00,423.22 L343.50,423.19 L344.00,423.15 L344.50,423.12 L345.00,423.08 L345.50,423.05 L346.00,423.01 L346.50,422.98 L347.00,422.94 L347.50,422.90 L348.00,422.87 L348.50,422.83 L349.00,422.79 L349.50,422.75 L350.00,422.72 L350.50,422.68 L351.00,422.64 L351.50,422.60 L352.00,422.56 L352.50,422.53 L353.00,422.49 L353.50,422.45 L354.00,422.41 L354.50,422.37 L355.00,422.33 L355.50,422.29 L356.00,422.25 L356.50,422.20 L357.00,422.16 L357.50,422.12 L358.00,422.08 L358.50,422.04 L359.00,422.00 L359.50,421.95 L360.00,421.91 L360.50,421.87 L361.00,421.82 L361.50,421.78 L362.00,421.74 L362.50,421.69 L363.00,421.65 L363.50,421.60 L364.00,421.56 L364.50,421.51 L365.00,421.47 L365.50,421.42 L366.00,421.37 L366.50,421.33 L367.00,421.28 L367.50,421.23 L368.00,421.18 L368.50,421.14 L369.00,421.09 L369.50,421.04 L370.00,420.99 L370.50,420.94 L371.00,420.89 L371.50,420.84 L372.00,420.79 L372.50,420.74 L373.00,420.69 L373.50,420.64 L374.00,420.59 L374.50,420.54 L375.00,420.49 L375.50,420.43 L376.00,420.38 L376.50,420.33 L377.00,420.28 L377.50,420.22 L378.00,420.17 L378.50,420.11 L379.00,420.06 L379.50,420.00 L380.00,419.95 L380.50,419.89 L381.00,419.84 L381.50,419.78 L382.00,419.73 L382.50,419.67 L383.00,419.61 L383.50,419.55 L384.00,419.50 L384.50,419.44 L385.00,419.38 L385.50,419.32 L386.00,419.26 L386.50,419.20 L387.00,419.14 L387.50,419.08 L388.00,419.02 L388.50,418.96 L389.00,418.90 L389.50,418.83 L390.00,418.77 L390.50,418.71 L391.00,418.65 L391.50,418.58 L392.00,418.52 L392.50,418.45 L393.00,418.39 L393.50,418.32 L394.00,418.26 L394.50,418.19 L395.00,418.13 L395.50,418.06 L396.00,417.99 L396.50,417.93 L397.00,417.86 L397.50,417.79 L398.00,417.72 L398.50,417.65 L399.00,417.58 L399.50,417.51 L400.00,417.44 L400.50,417.37 L401.00,417.30 L401.50,417.23 L402.00,417.16 L402.50,417.09 L403.00,417.02 L403.50,416.94 L404.00,416.87 L404.50,416.80 L405.00,416.72 L405.50,416.65 L406.00,416.57 L406.50,416.50 L407.00,416.42 L407.50,416.34 L408.00,416.27 L408.50,416.19 L409.00,416.11 L409.50,416.03 L410.00,415.96 L410.50,415.88 L411.00,415.80 L411.50,415.72 L412.00,415.64 L412.50,415.56 L413.00,415.48 L413.50,415.40 L414.00,415.31 L414.50,415.23 L415.00,415.15 L415.50,415.06 L416.00,414.98 L416.50,414.90 L417.00,414.81 L417.50,414.73 L418.00,414.64 L418.50,414.56 L419.00,414.47 L419.50,414.38 L420.00,414.29 L420.50,414.21 L421.00,414.12 L421.50,414.03 L422.00,413.94 L422.50,413.85 L423.00,413.76 L423.50,413.67 L424.00,413.58 L424.50,413.49 L425.00,413.39 L425.50,413.30 L426.00,413.21 L426.50,413.11 L427.00,413.02 L427.50,412.92 L428.00,412.82 L428.50,412.73 L429.00,412.63 L429.50,412.53 L430.00,412.43 L430.50,412.32 L431.00,412.22 L431.50,412.12 L432.00,412.01 L432.50,411.90 L433.00,411.79 L433.50,411.68 L434.00,411.57 L434.50,411.46 L435.00,411.35 L435.50,411.23 L436.00,411.11 L436.50,411.00 L437.00,410.88 L437.50,410.75 L438.00,410.63 L438.50,410.50 L439.00,410.38 L439.50,410.25 L440.00,410.11 L440.50,409.98 L441.00,409.85 L441.50,409.71 L442.00,409.57 L442.50,409.43 L443.00,409.28 L443.50,409.14 L444.00,408.99 L444.50,408.84 L445.00,408.68 L445.50,408.53 L446.00,408.37 L446.50,408.21 L447.00,408.04 L447.50,407.88 L448.00,407.71 L448.50,407.54 L449.00,407.36 L449.50,407.19 L450.00,407.01 L450.50,406.82 L451.00,406.64 L451.50,406.45 L452.00,406.26 L452.50,406.06 L453.00,405.86 L453.50,405.66 L454.00,405.46 L454.50,405.25 L455.00,405.04 L455.50,404.83 L456.00,404.61 L456.50,404.40 L457.00,404.17 L457.50,403.95 L458.00,403.73 L458.50,403.50 L459.00,403.27 L459.50,403.04 L460.00,402.80 L460.50,402.57 L461.00,402.33 L461.50,402.09 L462.00,401.85 L462.50,401.60 L463.00,401.36 L463.50,401.11 L464.00,400.87 L464.50,400.62 L465.00,400.37 L465.50,400.12 L466.00,399.87 L466.50,399.61 L467.00,399.36 L467.50,399.10 L468.00,398.85 L468.50,398.59 L469.00,398.34 L469.50,398.08 L470.00,397.83 L470.50,397.57 L471.00,397.31 L471.50,397.05 L472.00,396.80 L472.50,396.54 L473.00,396.28 L473.50,396.03 L474.00,395.77 L474.50,395.52 L475.00,395.26 L475.50,395.01 L476.00,394.75 L476.50,394.50 L477.00,394.25 L477.50,394.00 L478.00,393.75 L478.50,393.50 L479.00,393.25 L479.50,393.01 L480.00,392.76 L480.50,392.52 L481.00,392.28 L481.50,392.04 L482.00,391.80 L482.50,391.56 L483.00,391.33 L483.50,391.10 L484.00,390.87 L484.50,390.64 L485.00,390.41 L485.50,390.18 L486.00,389.95 L486.50,389.73 L487.00,389.50 L487.50,389.27 L488.00,389.05 L488.50,388.82 L489.00,388.60 L489.50,388.37 L490.00,388.15 L490.50,387.92 L491.00,387.69 L491.50,387.47 L492.00,387.24 L492.50,387.01 L493.00,386.78 L493.50,386.54 L494.00,386.31 L494.50,386.07 L495.00,385.84 L495.50,385.60 L496.00,385.36 L496.50,385.11 L497.00,384.87 L497.50,384.62 L498.00,384.37 L498.50,384.11 L499.00,383.85 L499.50,383.59 L500.00,383.33 L500.50,383.06 L501.00,382.79 L501.50,382.52 L502.00,382.24 L502.50,381.96 L503.00,381.67 L503.50,381.38 L504.00,381.08 L504.50,380.78 L505.00,380.48 L505.50,380.17 L506.00,379.85 L506.50,379.53 L507.00,379.21 L507.50,378.88 L508.00,378.54 L508.50,378.20 L509.00,377.85 L509.50,377.50 L510.00,377.14 L510.50,376.77 L511.00,376.39 L511.50,376.01 L512.00,375.63 L512.50,375.23 L513.00,374.83 L513.50,374.42 L514.00,374.01 L514.50,373.59 L515.00,373.16 L515.50,372.73 L516.00,372.29 L516.50,371.84 L517.00,371.39 L517.50,370.94 L518.00,370.47 L518.50,370.00 L519.00,369.53 L519.50,369.05 L520.00,368.57 L520.50,368.08 L521.00,367.58 L521.50,367.08 L522.00,366.58 L522.50,366.07 L523.00,365.56 L523.50,365.04 L524.00,364.52 L524.50,364.00 L525.00,363.47 L525.50,362.93 L526.00,362.40 L526.50,361.86 L527.00,361.31 L527.50,360.76 L528.00,360.21 L528.50,359.66 L529.00,359.10 L529.50,358.54 L530.00,357.98 L530.50,357.41 L531.00,356.85 L531.50,356.28 L532.00,355.70 L532.50,355.13 L533.00,354.55 L533.50,353.97 L534.00,353.39 L534.50,352.81 L535.00,352.23 L535.50,351.64 L536.00,351.06 L536.50,350.47 L537.00,349.88 L537.50,349.29 L538.00,348.70 L538.50,348.11 L539.00,347.52 L539.50,346.92 L540.00,346.33 L540.50,345.74 L541.00,345.14 L541.50,344.55 L542.00,343.96 L542.50,343.37 L543.00,342.79 L543.50,342.21 L544.00,341.63 L544.50,341.07 L545.00,340.52 L545.50,339.97 L546.00,339.44 L546.50,338.92 L547.00,338.42 L547.50,337.93 L548.00,337.47 L548.50,337.02 L549.00,336.59 L549.50,336.18 L550.00,335.80 L550.50,335.44 L551.00,335.09 L551.50,334.77 L552.00,334.47 L552.50,334.20 L553.00,333.94 L553.50,333.70 L554.00,333.48 L554.50,333.28 L555.00,333.11 L555.50,332.95 L556.00,332.81 L556.50,332.69 L557.00,332.59 L557.50,332.50 L558.00,332.44 L558.50,332.40 L559.00,332.37 L559.50,332.36 L560.00,332.38 L560.50,332.41 L561.00,332.46 L561.50,332.53 L562.00,332.62 L562.50,332.73 L563.00,332.86 L563.50,333.00 L564.00,333.17 L564.50,333.35 L565.00,333.56 L565.50,333.78 L566.00,334.01 L566.50,334.26 L567.00,334.53 L567.50,334.81 L568.00,335.10 L568.50,335.41 L569.00,335.72 L569.50,336.05 L570.00,336.38 L570.50,336.72 L571.00,337.07 L571.50,337.42 L572.00,337.79 L572.50,338.15 L573.00,338.52 L573.50,338.89 L574.00,339.27 L574.50,339.65 L575.00,340.03 L575.50,340.41 L576.00,340.79 L576.50,341.17 L577.00,341.55 L577.50,341.93 L578.00,342.30 L578.50,342.68 L579.00,343.04 L579.50,343.41 L580.00,343.77 L580.50,344.12 L581.00,344.47 L581.50,344.81 L582.00,345.14 L582.50,345.46 L583.00,345.78 L583.50,346.08 L584.00,346.38 L584.50,346.66 L585.00,346.93 L585.50,347.19 L586.00,347.44 L586.50,347.67 L587.00,347.89 L587.50,348.10 L588.00,348.29 L588.50,348.47 L589.00,348.64 L589.50,348.80 L590.00,348.95 L590.50,349.08 L591.00,349.21 L591.50,349.33 L592.00,349.44 L592.50,349.53 L593.00,349.62 L593.50,349.71 L594.00,349.78 L594.50,349.84 L595.00,349.90 L595.50,349.96 L596.00,350.00 L596.50,350.04 L597.00,350.07 L597.50,350.10 L598.00,350.13 L598.50,350.15 L599.00,350.16 L599.50,350.17 L600.00,350.18 L600.50,350.19 L601.00,350.19 L601.50,350.19 L602.00,350.18 L602.50,350.18 L603.00,350.17 L603.50,350.16 L604.00,350.14 L604.50,350.13 L605.00,350.11 L605.50,350.09 L606.00,350.06 L606.50,350.04 L607.00,350.01 L607.50,349.98 L608.00,349.95 L608.50,349.91 L609.00,349.88 L609.50,349.84 L610.00,349.80 L610.50,349.75 L611.00,349.71 L611.50,349.66 L612.00,349.61 L612.50,349.56 L613.00,349.51 L613.50,349.46 L614.00,349.40 L614.50,349.35 L615.00,349.29 L615.50,349.23 L616.00,349.17 L616.50,349.11 L617.00,349.04 L617.50,348.98 L618.00,348.91 L618.50,348.85 L619.00,348.78 L619.50,348.71 L620.00,348.64 L620.50,348.57 L621.00,348.50 L621.50,348.43 L622.00,348.35 L622.50,348.28 L623.00,348.20 L623.50,348.13 L624.00,348.05 L624.50,347.98 L625.00,347.90 L625.50,347.82 L626.00,347.75 L626.50,347.67 L627.00,347.59 L627.50,347.51 L628.00,347.43 L628.50,347.36 L629.00,347.28 L629.50,347.20 L630.00,347.12 L630.50,347.04 L631.00,346.96 L631.50,346.88 L632.00,346.81 L632.50,346.73 L633.00,346.65 L633.50,346.57 L634.00,346.50 L634.50,346.42 L635.00,346.35 L635.50,346.27 L636.00,346.20 L636.50,346.12 L637.00,346.05 L637.50,345.98 L638.00,345.91 L638.50,345.84 L639.00,345.77 L639.50,345.70 L640.00,345.63 L640.50,345.57 L641.00,345.50 L641.50,345.44 L642.00,345.38 L642.50,345.31 L643.00,345.25 L643.50,345.20 L644.00,345.14 L644.50,345.08 L645.00,345.03 L645.50,344.98 L646.00,344.93 L646.50,344.88 L647.00,344.83 L647.50,344.78 L648.00,344.74 L648.50,344.70 L649.00,344.66 L649.50,344.62 L650.00,344.59 L650.50,344.55 L651.00,344.52 L651.50,344.49 L652.00,344.46 L652.50,344.44 L653.00,344.42 L653.50,344.40 L654.00,344.38 L654.50,344.37 L655.00,344.35 L655.50,344.34 L656.00,344.34 L656.50,344.33 L657.00,344.33 L657.50,344.33 L658.00,344.33 L658.50,344.34 L659.00,344.35 L659.50,344.36 L660.00,344.38 L660.50,344.40 L661.00,344.42 L661.50,344.44 L662.00,344.47 L662.50,344.50 L663.00,344.53 L663.50,344.56 L664.00,344.60 L664.50,344.64 L665.00,344.68 L665.50,344.72 L666.00,344.77 L666.50,344.81 L667.00,344.86 L667.50,344.91 L668.00,344.96 L668.50,345.02 L669.00,345.07 L669.50,345.13 L670.00,345.19 L670.50,345.24 L671.00,345.30 L671.50,345.36 L672.00,345.43 L672.50,345.49 L673.00,345.55 L673.50,345.62 L674.00,345.68 L674.50,345.75 L675.00,345.81 L675.50,345.88 L676.00,345.95 L676.50,346.02 L677.00,346.08 L677.50,346.15 L678.00,346.22 L678.50,346.29 L679.00,346.35 L679.50,346.42 L680.00,346.49 L680.50,346.55 L681.00,346.62 L681.50,346.69 L682.00,346.75 L682.50,346.82 L683.00,346.88 L683.50,346.94 L684.00,347.00 L684.50,347.07 L685.00,347.13 L685.50,347.18 L686.00,347.24 L686.50,347.30 L687.00,347.35 L687.50,347.41 L688.00,347.46 L688.50,347.51 L689.00,347.55 L689.50,347.60 L690.00,347.65 L690.50,347.69 L691.00,347.73 L691.50,347.77 L692.00,347.81 L692.50,347.85 L693.00,347.89 L693.50,347.93 L694.00,347.97 L694.50,348.01 L695.00,348.05 L695.50,348.09 L696.00,348.13 L696.50,348.18 L697.00,348.22 L697.50,348.26 L698.00,348.31 L698.50,348.36 L699.00,348.41 L699.50,348.46 L700.00,348.52 L700.50,348.58 L701.00,348.64 L701.50,348.70 L702.00,348.77 L702.50,348.84 L703.00,348.92 L703.50,348.99 L704.00,349.08 L704.50,349.16 L705.00,349.26 L705.50,349.35 L706.00,349.45 L706.50,349.56 L707.00,349.67 L707.50,349.79 L708.00,349.91 L708.50,350.04 L709.00,350.17 L709.50,350.32 L710.00,350.46 L710.50,350.62 L711.00,350.78 L711.50,350.95 L712.00,351.12 L712.50,351.31 L713.00,351.50 L713.50,351.70 L714.00,351.91 L714.50,352.12 L715.00,352.35 L715.50,352.58 L716.00,352.82 L716.50,353.07 L717.00,353.33 L717.50,353.61 L718.00,353.89 L718.50,354.18 L719.00,354.48 L719.50,354.79 L720.00,355.10 L720.50,355.43 L721.00,355.77 L721.50,356.12 L722.00,356.47 L722.50,356.83 L723.00,357.20 L723.50,357.58 L724.00,357.97 L724.50,358.36 L725.00,358.76 L725.50,359.17 L726.00,359.58 L726.50,360.00 L727.00,360.43 L727.50,360.86 L728.00,361.30 L728.50,361.74 L729.00,362.19 L729.50,362.64 L730.00,363.10 L730.50,363.57 L731.00,364.03 L731.50,364.51 L732.00,364.98 L732.50,365.46 L733.00,365.94 L733.50,366.43 L734.00,366.92 L734.50,367.41 L735.00,367.91 L735.50,368.41 L736.00,368.91 L736.50,369.41 L737.00,369.91 L737.50,370.42 L738.00,370.92 L738.50,371.43 L739.00,371.94 L739.50,372.45 L740.00,372.95 L740.50,373.46 L741.00,373.97 L741.50,374.48 L742.00,374.99 L742.50,375.50 L743.00,376.00 L743.50,376.51 L744.00,377.01 L744.50,377.52 L745.00,378.02 L745.50,378.51 L746.00,379.01 L746.50,379.50 L747.00,379.99 L747.50,380.48 L748.00,380.97 L748.50,381.45 L749.00,381.93 L749.50,382.40 L750.00,382.87 L750.50,383.34 L751.00,383.80 L751.50,384.26 L752.00,384.72 L752.50,385.17 L753.00,385.62 L753.50,386.07 L754.00,386.51 L754.50,386.95 L755.00,387.39 L755.50,387.82 L756.00,388.25 L756.50,388.67 L757.00,389.10 L757.50,389.51 L758.00,389.93 L758.50,390.34 L759.00,390.75 L759.50,391.15 L760.00,391.55 L760.50,391.95 L761.00,392.34 L761.50,392.73 L762.00,393.12 L762.50,393.50 L763.00,393.88 L763.50,394.25 L764.00,394.62 L764.50,394.99 L765.00,395.36 L765.50,395.72 L766.00,396.07 L766.50,396.43 L767.00,396.78 L767.50,397.12 L768.00,397.46 L768.50,397.80 L769.00,398.14 L769.50,398.47 L770.00,398.79 L770.50,399.12 L771.00,399.44 L771.50,399.75 L772.00,400.06 L772.50,400.37 L773.00,400.68 L773.50,400.98 L774.00,401.27 L774.50,401.57 L775.00,401.86 L775.50,402.14 L776.00,402.42 L776.50,402.70 L777.00,402.98 L777.50,403.25 L778.00,403.51 L778.50,403.77 L779.00,404.02 L779.50,404.26 L780.00,404.50 L780.50,404.72 L781.00,404.92 L781.50,405.12 L782.00,405.30 L782.50,405.46 L783.00,405.60 L783.50,405.73 L784.00,405.83 L784.50,405.92 L785.00,405.98 L785.50,406.01 L786.00,406.02 L786.50,406.01 L787.00,405.96 L787.50,405.89 L788.00,405.79 L788.50,405.65 L789.00,405.48 L789.50,405.28 L790.00,405.04 L790.50,404.77 L791.00,404.46 L791.50,404.10 L792.00,403.71 L792.50,403.28 L793.00,402.80 L793.50,402.29 L794.00,401.74 L794.50,401.15 L795.00,400.53 L795.50,399.88 L796.00,399.19 L796.50,398.48 L797.00,397.74 L797.50,396.97 L798.00,396.18 L798.50,395.36 L799.00,394.52 L799.50,393.66 L800.00,392.79 L800.50,391.89 L801.00,390.98 L801.50,390.06 L802.00,389.12 L802.50,388.17 L803.00,387.21 L803.50,386.25 L804.00,385.28 L804.50,384.30 L805.00,383.32 L805.50,382.34 L806.00,381.36 L806.50,380.38 L807.00,379.40 L807.50,378.43 L808.00,377.46 L808.50,376.49 L809.00,375.53 L809.50,374.58 L810.00,373.63 L810.50,372.68 L811.00,371.74 L811.50,370.80 L812.00,369.87 L812.50,368.94 L813.00,368.02 L813.50,367.10 L814.00,366.19 L814.50,365.28 L815.00,364.38 L815.50,363.48 L816.00,362.59 L816.50,361.70 L817.00,360.82 L817.50,359.94 L818.00,359.07 L818.50,358.21 L819.00,357.34 L819.50,356.49 L820.00,355.64 L820.50,354.79 L821.00,353.95 L821.50,353.12 L822.00,352.29 L822.50,351.47 L823.00,350.65 L823.50,349.84 L824.00,349.03 L824.50,348.23 L825.00,347.43 L825.50,346.64 L826.00,345.85 L826.50,345.06 L827.00,344.28 L827.50,343.51 L828.00,342.74 L828.50,341.97 L829.00,341.20 L829.50,340.44 L830.00,339.68 L830.50,338.93 L831.00,338.17 L831.50,337.42 L832.00,336.68 L832.50,335.93 L833.00,335.19 L833.50,334.45 L834.00,333.71 L834.50,332.97 L835.00,332.24 L835.50,331.50 L836.00,330.77 L836.50,330.04 L837.00,329.31 L837.50,328.58 L838.00,327.86 L838.50,327.13 L839.00,326.41 L839.50,325.69 L840.00,324.97 L840.50,324.26 L841.00,323.55 L841.50,322.84 L842.00,322.13 L842.50,321.43 L843.00,320.74 L843.50,320.04 L844.00,319.35 L844.50,318.67 L845.00,317.99 L845.50,317.31 L846.00,316.64 L846.50,315.98 L847.00,315.32 L847.50,314.66 L848.00,314.02 L848.50,313.37 L849.00,312.74 L849.50,312.11 L850.00,311.49 L850.50,310.87 L851.00,310.26 L851.50,309.66 L852.00,309.07 L852.50,308.48 L853.00,307.90 L853.50,307.33 L854.00,306.77 L854.50,306.22 L855.00,305.67 L855.50,305.14 L856.00,304.61 L856.50,304.09 L857.00,303.58 L857.50,303.09 L858.00,302.60 L858.50,302.12 L859.00,301.65 L859.50,301.19 L860.00,300.75 L860.50,300.31 L861.00,299.89 L861.50,299.48 L862.00,299.07 L862.50,298.69 L863.00,298.31 L863.50,297.94 L864.00,297.59 L864.50,297.25 L865.00,296.92 L865.50,296.61 L866.00,296.31 L866.50,296.02 L867.00,295.74 L867.50,295.48 L868.00,295.23 L868.50,295.00 L869.00,294.78 L869.50,294.57 L870.00,294.38 L870.50,294.19 L871.00,294.03 L871.50,293.87 L872.00,293.73 L872.50,293.60 L873.00,293.48 L873.50,293.38 L874.00,293.29 L874.50,293.21 L875.00,293.15 L875.50,293.10 L876.00,293.06 L876.50,293.04 L877.00,293.02 L877.50,293.03 L878.00,293.04 L878.50,293.07 L879.00,293.10 L879.50,293.16 L880.00,293.22 L880.50,293.30 L881.00,293.39 L881.50,293.49 L882.00,293.61 L882.50,293.74 L883.00,293.88 L883.50,294.03 L884.00,294.20 L884.50,294.37 L885.00,294.57 L885.50,294.77 L886.00,294.99 L886.50,295.21 L887.00,295.45 L887.50,295.71 L888.00,295.97 L888.50,296.25 L889.00,296.54 L889.50,296.84 L890.00,297.16 L890.50,297.48 L891.00,297.82 L891.50,298.17 L892.00,298.54 L892.50,298.91 L893.00,299.30 L893.50,299.70 L894.00,300.11 L894.50,300.54 L895.00,300.97 L895.50,301.42 L896.00,301.88 L896.50,302.35 L897.00,302.83 L897.50,303.33 L898.00,303.83 L898.50,304.34 L899.00,304.87 L899.50,305.40 L900.00,305.95 L900.50,306.50 L901.00,307.06 L901.50,307.64 L902.00,308.22 L902.50,308.80 L903.00,309.40 L903.50,310.01 L904.00,310.62 L904.50,311.24 L905.00,311.86 L905.50,312.50 L906.00,313.14 L906.50,313.78 L907.00,314.44 L907.50,315.09 L908.00,315.76 L908.50,316.43 L909.00,317.10 L909.50,317.78 L910.00,318.46 L910.50,319.15 L911.00,319.84 L911.50,320.54 L912.00,321.23 L912.50,321.94 L913.00,322.64 L913.50,323.35 L914.00,324.06 L914.50,324.77 L915.00,325.48 L915.50,326.20 L916.00,326.92 L916.50,327.64 L917.00,328.35 L917.50,329.07 L918.00,329.79 L918.50,330.51 L919.00,331.23 L919.50,331.95 L920.00,332.67 L920.50,333.39 L921.00,334.11 L921.50,334.82 L922.00,335.54 L922.50,336.25 L923.00,336.96 L923.50,337.67 L924.00,338.37 L924.50,339.07 L925.00,339.77 L925.50,340.47 L926.00,341.16 L926.50,341.85 L927.00,342.53 L927.50,343.22 L928.00,343.90 L928.50,344.58 L929.00,345.26 L929.50,345.93 L930.00,346.61 L930.50,347.29 L931.00,347.96 L931.50,348.64 L932.00,349.31 L932.50,349.99 L933.00,350.67 L933.50,351.35 L934.00,352.03 L934.50,352.71 L935.00,353.39 L935.50,354.08 L936.00,354.77 L936.50,355.46 L937.00,356.16 L937.50,356.85 L938.00,357.56 L938.50,358.26 L939.00,358.97 L939.50,359.69 L940.00,360.41 L940.50,361.14 L941.00,361.87 L941.50,362.60 L942.00,363.34 L942.50,364.08 L943.00,364.82 L943.50,365.57 L944.00,366.31 L944.50,367.05 L945.00,367.80 L945.50,368.54 L946.00,369.28 L946.50,370.01 L947.00,370.75 L947.50,371.47 L948.00,372.20 L948.50,372.91 L949.00,373.62 L949.50,374.33 L950.00,375.02 L950.50,375.71 L951.00,376.39 L951.50,377.06 L952.00,377.72 L952.50,378.36 L953.00,379.00 L953.50,379.62 L954.00,380.23 L954.50,380.83 L955.00,381.41 L955.50,381.98 L956.00,382.53 L956.50,383.08 L957.00,383.61 L957.50,384.12 L958.00,384.63 L958.50,385.12 L959.00,385.61 L959.50,386.08 L960.00,386.54 L960.50,386.99 L961.00,387.43 L961.50,387.86 L962.00,388.28 L962.50,388.69 L963.00,389.10 L963.50,389.49 L964.00,389.88 L964.50,390.25 L965.00,390.62 L965.50,390.98 L966.00,391.34 L966.50,391.69 L967.00,392.03 L967.50,392.36 L968.00,392.69 L968.50,393.01 L969.00,393.33 L969.50,393.64 L970.00,393.95 L970.50,394.25 L971.00,394.55 L971.50,394.84 L972.00,395.13 L972.50,395.41 L973.00,395.70 L973.50,395.98 L974.00,396.25 L974.50,396.53 L975.00,396.80 L975.50,397.07 L976.00,397.34 L976.50,397.61 L977.00,397.87 L977.50,398.14 L978.00,398.41 L978.50,398.67 L979.00,398.94 L979.50,399.20 L980.00,399.47 L980.50,399.74 L981.00,400.01 L981.50,400.28 L982.00,400.55 L982.50,400.83 L983.00,401.11 L983.50,401.39 L984.00,401.67 L984.50,401.96 L985.00,402.24 L985.50,402.53 L986.00,402.83 L986.50,403.12 L987.00,403.42 L987.50,403.72 L988.00,404.02 L988.50,404.32 L989.00,404.62 L989.50,404.93 L990.00,405.23 L990.50,405.54 L991.00,405.85 L991.50,406.16 L992.00,406.47 L992.50,406.77 L993.00,407.09 L993.50,407.40 L994.00,407.71 L994.50,408.02 L995.00,408.33 L995.50,408.64 L996.00,408.95 L996.50,409.26 L997.00,409.57 L997.50,409.87 L998.00,410.18 L998.50,410.49 L999.00,410.79 L999.50,411.10 L1000.00,411.40 L1000.50,411.70 L1001.00,412.00 L1001.50,412.30 L1002.00,412.60 L1002.50,412.89 L1003.00,413.18 L1003.50,413.47 L1004.00,413.76 L1004.50,414.05 L1005.00,414.33 L1005.50,414.61 L1006.00,414.89 L1006.50,415.16 L1007.00,415.43 L1007.50,415.70 L1008.00,415.97 L1008.50,416.23 L1009.00,416.49 L1009.50,416.74 L1010.00,416.99 L1010.50,417.24 L1011.00,417.48 L1011.50,417.72 L1011.70,417.81"/>
<path d="M69.00,325.04 L69.50,325.04 L70.00,325.05 L70.50,325.05 L71.00,325.05 L71.50,325.06 L72.00,325.06 L72.50,325.07 L73.00,325.07 L73.50,325.08 L74.00,325.08 L74.50,325.09 L75.00,325.09 L75.50,325.10 L76.00,325.10 L76.50,325.11 L77.00,325.11 L77.50,325.12 L78.00,325.12 L78.50,325.13 L79.00,325.13 L79.50,325.13 L80.00,325.14 L80.50,325.14 L81.00,325.15 L81.50,325.15 L82.00,325.16 L82.50,325.16 L83.00,325.17 L83.50,325.17 L84.00,325.18 L84.50,325.18 L85.00,325.19 L85.50,325.19 L86.00,325.20 L86.50,325.20 L87.00,325.20 L87.50,325.21 L88.00,325.21 L88.50,325.22 L89.00,325.22 L89.50,325.23 L90.00,325.23 L90.50,325.24 L91.00,325.24 L91.50,325.25 L92.00,325.25 L92.50,325.26 L93.00,325.26 L93.50,325.27 L94.00,325.27 L94.50,325.27 L95.00,325.28 L95.50,325.28 L96.00,325.29 L96.50,325.29 L97.00,325.30 L97.50,325.30 L98.00,325.31 L98.50,325.31 L99.00,325.32 L99.50,325.32 L100.00,325.33 L100.50,325.33 L101.00,325.33 L101.50,325.34 L102.00,325.34 L102.50,325.35 L103.00,325.35 L103.50,325.36 L104.00,325.36 L104.50,325.37 L105.00,325.37 L105.50,325.38 L106.00,325.38 L106.50,325.38 L107.00,325.39 L107.50,325.39 L108.00,325.40 L108.50,325.40 L109.00,325.41 L109.50,325.41 L110.00,325.42 L110.50,325.42 L111.00,325.43 L111.50,325.43 L112.00,325.43 L112.50,325.44 L113.00,325.44 L113.50,325.45 L114.00,325.45 L114.50,325.46 L115.00,325.46 L115.50,325.47 L116.00,325.47 L116.50,325.47 L117.00,325.48 L117.50,325.48 L118.00,325.49 L118.50,325.49 L119.00,325.50 L119.50,325.50 L120.00,325.51 L120.50,325.51 L121.00,325.51 L121.50,325.52 L122.00,325.52 L122.50,325.53 L123.00,325.53 L123.50,325.54 L124.00,325.54 L124.50,325.54 L125.00,325.55 L125.50,325.55 L126.00,325.56 L126.50,325.56 L127.00,325.57 L127.50,325.57 L128.00,325.57 L128.50,325.58 L129.00,325.58 L129.50,325.59 L130.00,325.59 L130.50,325.60 L131.00,325.60 L131.50,325.60 L132.00,325.61 L132.50,325.61 L133.00,325.62 L133.50,325.62 L134.00,325.63 L134.50,325.63 L135.00,325.63 L135.50,325.64 L136.00,325.64 L136.50,325.65 L137.00,325.65 L137.50,325.66 L138.00,325.66 L138.50,325.66 L139.00,325.67 L139.50,325.67 L140.00,325.68 L140.50,325.68 L141.00,325.68 L141.50,325.69 L142.00,325.69 L142.50,325.70 L143.00,325.70 L143.50,325.70 L144.00,325.71 L144.50,325.71 L145.00,325.72 L145.50,325.72 L146.00,325.72 L146.50,325.73 L147.00,325.73 L147.50,325.74 L148.00,325.74 L148.50,325.74 L149.00,325.75 L149.50,325.75 L150.00,325.76 L150.50,325.76 L151.00,325.76 L151.50,325.77 L152.00,325.77 L152.50,325.78 L153.00,325.78 L153.50,325.78 L154.00,325.79 L154.50,325.79 L155.00,325.80 L155.50,325.80 L156.00,325.80 L156.50,325.81 L157.00,325.81 L157.50,325.81 L158.00,325.82 L158.50,325.82 L159.00,325.83 L159.50,325.83 L160.00,325.83 L160.50,325.84 L161.00,325.84 L161.50,325.84 L162.00,325.85 L162.50,325.85 L163.00,325.86 L163.50,325.86 L164.00,325.86 L164.50,325.87 L165.00,325.87 L165.50,325.87 L166.00,325.88 L166.50,325.88 L167.00,325.89 L167.50,325.89 L168.00,325.89 L168.50,325.90 L169.00,325.90 L169.50,325.90 L170.00,325.91 L170.50,325.91 L171.00,325.91 L171.50,325.92 L172.00,325.92 L172.50,325.92 L173.00,325.93 L173.50,325.93 L174.00,325.93 L174.50,325.94 L175.00,325.94 L175.50,325.94 L176.00,325.95 L176.50,325.95 L177.00,325.95 L177.50,325.96 L178.00,325.96 L178.50,325.96 L179.00,325.97 L179.50,325.97 L180.00,325.97 L180.50,325.98 L181.00,325.98 L181.50,325.98 L182.00,325.99 L182.50,325.99 L183.00,325.99 L183.50,326.00 L184.00,326.00 L184.50,326.00 L185.00,326.01 L185.50,326.01 L186.00,326.01 L186.50,326.02 L187.00,326.02 L187.50,326.02 L188.00,326.03 L188.50,326.03 L189.00,326.03 L189.50,326.04 L190.00,326.04 L190.50,326.04 L191.00,326.04 L191.50,326.05 L192.00,326.05 L192.50,326.05 L193.00,326.06 L193.50,326.06 L194.00,326.06 L194.50,326.07 L195.00,326.07 L195.50,326.07 L196.00,326.07 L196.50,326.08 L197.00,326.08 L197.50,326.08 L198.00,326.09 L198.50,326.09 L199.00,326.09 L199.50,326.09 L200.00,326.10 L200.50,326.10 L201.00,326.10 L201.50,326.10 L202.00,326.11 L202.50,326.11 L203.00,326.11 L203.50,326.12 L204.00,326.12 L204.50,326.12 L205.00,326.12 L205.50,326.13 L206.00,326.13 L206.50,326.13 L207.00,326.13 L207.50,326.14 L208.00,326.14 L208.50,326.14 L209.00,326.14 L209.50,326.15 L210.00,326.15 L210.50,326.15 L211.00,326.15 L211.50,326.16 L212.00,326.16 L212.50,326.16 L213.00,326.16 L213.50,326.16 L214.00,326.17 L214.50,326.17 L215.00,326.17 L215.50,326.17 L216.00,326.18 L216.50,326.18 L217.00,326.18 L217.50,326.18 L218.00,326.19 L218.50,326.19 L219.00,326.19 L219.50,326.19 L220.00,326.19 L220.50,326.20 L221.00,326.20 L221.50,326.20 L222.00,326.20 L222.50,326.20 L223.00,326.21 L223.50,326.21 L224.00,326.21 L224.50,326.21 L225.00,326.21 L225.50,326.22 L226.00,326.22 L226.50,326.22 L227.00,326.22 L227.50,326.22 L228.00,326.23 L228.50,326.23 L229.00,326.23 L229.50,326.23 L230.00,326.23 L230.50,326.23 L231.00,326.24 L231.50,326.24 L232.00,326.24 L232.50,326.24 L233.00,326.24 L233.50,326.24 L234.00,326.25 L234.50,326.25 L235.00,326.25 L235.50,326.25 L236.00,326.25 L236.50,326.25 L237.00,326.26 L237.50,326.26 L238.00,326.26 L238.50,326.26 L239.00,326.26 L239.50,326.26 L240.00,326.26 L240.50,326.27 L241.00,326.27 L241.50,326.27 L242.00,326.27 L242.50,326.27 L243.00,326.27 L243.50,326.27 L244.00,326.27 L244.50,326.28 L245.00,326.28 L245.50,326.28 L246.00,326.28 L246.50,326.28 L247.00,326.28 L247.50,326.28 L248.00,326.28 L248.50,326.29 L249.00,326.29 L249.50,326.29 L250.00,326.29 L250.50,326.29 L251.00,326.29 L251.50,326.29 L252.00,326.29 L252.50,326.29 L253.00,326.29 L253.50,326.29 L254.00,326.30 L254.50,326.30 L255.00,326.30 L255.50,326.30 L256.00,326.30 L256.50,326.30 L257.00,326.30 L257.50,326.30 L258.00,326.30 L258.50,326.30 L259.00,326.30 L259.50,326.30 L260.00,326.30 L260.50,326.30 L261.00,326.31 L261.50,326.31 L262.00,326.31 L262.50,326.31 L263.00,326.31 L263.50,326.31 L264.00,326.31 L264.50,326.31 L265.00,326.31 L265.50,326.31 L266.00,326.31 L266.50,326.31 L267.00,326.31 L267.50,326.31 L268.00,326.31 L268.50,326.31 L269.00,326.31 L269.50,326.31 L270.00,326.31 L270.50,326.31 L271.00,326.31 L271.50,326.31 L272.00,326.31 L272.50,326.31 L273.00,326.31 L273.50,326.31 L274.00,326.31 L274.50,326.31 L275.00,326.31 L275.50,326.31 L276.00,326.31 L276.50,326.31 L277.00,326.31 L277.50,326.31 L278.00,326.31 L278.50,326.31 L279.00,326.31 L279.50,326.31 L280.00,326.31 L280.50,326.31 L281.00,326.31 L281.50,326.31 L282.00,326.31 L282.50,326.31 L283.00,326.31 L283.50,326.31 L284.00,326.31 L284.50,326.31 L285.00,326.31 L285.50,326.30 L286.00,326.30 L286.50,326.30 L287.00,326.30 L287.50,326.30 L288.00,326.30 L288.50,326.30 L289.00,326.30 L289.50,326.30 L290.00,326.30 L290.50,326.30 L291.00,326.30 L291.50,326.30 L292.00,326.29 L292.50,326.29 L293.00,326.29 L293.50,326.29 L294.00,326.29 L294.50,326.29 L295.00,326.29 L295.50,326.29 L296.00,326.29 L296.50,326.29 L297.00,326.28 L297.50,326.28 L298.00,326.28 L298.50,326.28 L299.00,326.28 L299.50,326.28 L300.00,326.28 L300.50,326.28 L301.00,326.27 L301.50,326.27 L302.00,326.27 L302.50,326.27 L303.00,326.27 L303.50,326.27 L304.00,326.27 L304.50,326.26 L305.00,326.26 L305.50,326.26 L306.00,326.26 L306.50,326.26 L307.00,326.26 L307.50,326.25 L308.00,326.25 L308.50,326.25 L309.00,326.25 L309.50,326.25 L310.00,326.25 L310.50,326.24 L311.00,326.24 L311.50,326.24 L312.00,326.24 L312.50,326.24 L313.00,326.23 L313.50,326.23 L314.00,326.23 L314.50,326.23 L315.00,326.22 L315.50,326.22 L316.00,326.22 L316.50,326.22 L317.00,326.21 L317.50,326.21 L318.00,326.21 L318.50,326.21 L319.00,326.20 L319.50,326.20 L320.00,326.20 L320.50,326.19 L321.00,326.19 L321.50,326.19 L322.00,326.18 L322.50,326.18 L323.00,326.18 L323.50,326.17 L324.00,326.17 L324.50,326.17 L325.00,326.16 L325.50,326.16 L326.00,326.16 L326.50,326.15 L327.00,326.15 L327.50,326.14 L328.00,326.14 L328.50,326.14 L329.00,326.13 L329.50,326.13 L330.00,326.12 L330.50,326.12 L331.00,326.11 L331.50,326.11 L332.00,326.10 L332.50,326.10 L333.00,326.09 L333.50,326.09 L334.00,326.08 L334.50,326.08 L335.00,326.07 L335.50,326.07 L336.00,326.06 L336.50,326.05 L337.00,326.05 L337.50,326.04 L338.00,326.04 L338.50,326.03 L339.00,326.02 L339.50,326.02 L340.00,326.01 L340.50,326.00 L341.00,326.00 L341.50,325.99 L342.00,325.98 L342.50,325.97 L343.00,325.97 L343.50,325.96 L344.00,325.95 L344.50,325.94 L345.00,325.94 L345.50,325.93 L346.00,325.92 L346.50,325.91 L347.00,325.90 L347.50,325.89 L348.00,325.89 L348.50,325.88 L349.00,325.87 L349.50,325.86 L350.00,325.85 L350.50,325.84 L351.00,325.83 L351.50,325.82 L352.00,325.81 L352.50,325.80 L353.00,325.79 L353.50,325.78 L354.00,325.77 L354.50,325.76 L355.00,325.75 L355.50,325.74 L356.00,325.72 L356.50,325.71 L357.00,325.70 L357.50,325.69 L358.00,325.68 L358.50,325.67 L359.00,325.65 L359.50,325.64 L360.00,325.63 L360.50,325.62 L361.00,325.60 L361.50,325.59 L362.00,325.58 L362.50,325.56 L363.00,325.55 L363.50,325.54 L364.00,325.52 L364.50,325.51 L365.00,325.49 L365.50,325.48 L366.00,325.46 L366.50,325.45 L367.00,325.43 L367.50,325.42 L368.00,325.40 L368.50,325.39 L369.00,325.37 L369.50,325.35 L370.00,325.34 L370.50,325.32 L371.00,325.30 L371.50,325.29 L372.00,325.27 L372.50,325.25 L373.00,325.24 L373.50,325.22 L374.00,325.20 L374.50,325.18 L375.00,325.16 L375.50,325.14 L376.00,325.12 L376.50,325.11 L377.00,325.09 L377.50,325.07 L378.00,325.05 L378.50,325.03 L379.00,325.01 L379.50,324.99 L380.00,324.97 L380.50,324.94 L381.00,324.92 L381.50,324.90 L382.00,324.88 L382.50,324.86 L383.00,324.84 L383.50,324.81 L384.00,324.79 L384.50,324.77 L385.00,324.75 L385.50,324.72 L386.00,324.70 L386.50,324.68 L387.00,324.65 L387.50,324.63 L388.00,324.60 L388.50,324.58 L389.00,324.55 L389.50,324.53 L390.00,324.50 L390.50,324.48 L391.00,324.45 L391.50,324.42 L392.00,324.40 L392.50,324.37 L393.00,324.34 L393.50,324.32 L394.00,324.29 L394.50,324.26 L395.00,324.23 L395.50,324.20 L396.00,324.18 L396.50,324.15 L397.00,324.12 L397.50,324.09 L398.00,324.06 L398.50,324.03 L399.00,324.00 L399.50,323.97 L400.00,323.94 L400.50,323.90 L401.00,323.87 L401.50,323.84 L402.00,323.81 L402.50,323.78 L403.00,323.74 L403.50,323.71 L404.00,323.68 L404.50,323.64 L405.00,323.61 L405.50,323.58 L406.00,323.54 L406.50,323.51 L407.00,323.47 L407.50,323.44 L408.00,323.40 L408.50,323.37 L409.00,323.33 L409.50,323.29 L410.00,323.26 L410.50,323.22 L411.00,323.18 L411.50,323.14 L412.00,323.11 L412.50,323.07 L413.00,323.03 L413.50,322.99 L414.00,322.95 L414.50,322.91 L415.00,322.87 L415.50,322.83 L416.00,322.79 L416.50,322.75 L417.00,322.71 L417.50,322.67 L418.00,322.62 L418.50,322.58 L419.00,322.54 L419.50,322.50 L420.00,322.45 L420.50,322.41 L421.00,322.36 L421.50,322.32 L422.00,322.28 L422.50,322.23 L423.00,322.18 L423.50,322.14 L424.00,322.09 L424.50,322.05 L425.00,322.00 L425.50,321.95 L426.00,321.90 L426.50,321.86 L427.00,321.81 L427.50,321.76 L428.00,321.71 L428.50,321.66 L429.00,321.60 L429.50,321.55 L430.00,321.50 L430.50,321.45 L431.00,321.39 L431.50,321.34 L432.00,321.28 L432.50,321.22 L433.00,321.17 L433.50,321.11 L434.00,321.05 L434.50,320.99 L435.00,320.92 L435.50,320.86 L436.00,320.80 L436.50,320.73 L437.00,320.67 L437.50,320.60 L438.00,320.53 L438.50,320.46 L439.00,320.39 L439.50,320.32 L440.00,320.24 L440.50,320.17 L441.00,320.09 L441.50,320.02 L442.00,319.94 L442.50,319.86 L443.00,319.77 L443.50,319.69 L444.00,319.60 L444.50,319.52 L445.00,319.43 L445.50,319.34 L446.00,319.25 L446.50,319.15 L447.00,319.06 L447.50,318.96 L448.00,318.86 L448.50,318.76 L449.00,318.66 L449.50,318.56 L450.00,318.45 L450.50,318.34 L451.00,318.23 L451.50,318.12 L452.00,318.01 L452.50,317.89 L453.00,317.78 L453.50,317.66 L454.00,317.53 L454.50,317.41 L455.00,317.28 L455.50,317.15 L456.00,317.02 L456.50,316.89 L457.00,316.75 L457.50,316.62 L458.00,316.48 L458.50,316.33 L459.00,316.19 L459.50,316.04 L460.00,315.89 L460.50,315.74 L461.00,315.58 L461.50,315.42 L462.00,315.26 L462.50,315.10 L463.00,314.94 L463.50,314.77 L464.00,314.60 L464.50,314.42 L465.00,314.25 L465.50,314.07 L466.00,313.89 L466.50,313.70 L467.00,313.51 L467.50,313.32 L468.00,313.13 L468.50,312.93 L469.00,312.73 L469.50,312.53 L470.00,312.32 L470.50,312.12 L471.00,311.90 L471.50,311.69 L472.00,311.47 L472.50,311.25 L473.00,311.02 L473.50,310.80 L474.00,310.56 L474.50,310.33 L475.00,310.09 L475.50,309.85 L476.00,309.60 L476.50,309.36 L477.00,309.10 L477.50,308.85 L478.00,308.59 L478.50,308.33 L479.00,308.06 L479.50,307.79 L480.00,307.52 L480.50,307.24 L481.00,306.96 L481.50,306.68 L482.00,306.39 L482.50,306.10 L483.00,305.80 L483.50,305.50 L484.00,305.20 L484.50,304.89 L485.00,304.58 L485.50,304.27 L486.00,303.95 L486.50,303.63 L487.00,303.30 L487.50,302.97 L488.00,302.64 L488.50,302.30 L489.00,301.96 L489.50,301.62 L490.00,301.27 L490.50,300.92 L491.00,300.57 L491.50,300.21 L492.00,299.85 L492.50,299.49 L493.00,299.12 L493.50,298.75 L494.00,298.37 L494.50,297.99 L495.00,297.61 L495.50,297.23 L496.00,296.84 L496.50,296.45 L497.00,296.05 L497.50,295.66 L498.00,295.25 L498.50,294.85 L499.00,294.45 L499.50,294.04 L500.00,293.64 L500.50,293.23 L501.00,292.83 L501.50,292.42 L502.00,292.02 L502.50,291.63 L503.00,291.23 L503.50,290.84 L504.00,290.46 L504.50,290.08 L505.00,289.70 L505.50,289.33 L506.00,288.97 L506.50,288.62 L507.00,288.27 L507.50,287.94 L508.00,287.61 L508.50,287.29 L509.00,286.99 L509.50,286.69 L510.00,286.41 L510.50,286.14 L511.00,285.88 L511.50,285.64 L512.00,285.41 L512.50,285.20 L513.00,285.00 L513.50,284.81 L514.00,284.64 L514.50,284.48 L515.00,284.34 L515.50,284.20 L516.00,284.09 L516.50,283.98 L517.00,283.88 L517.50,283.80 L518.00,283.73 L518.50,283.67 L519.00,283.61 L519.50,283.57 L520.00,283.54 L520.50,283.52 L521.00,283.51 L521.50,283.51 L522.00,283.51 L522.50,283.52 L523.00,283.54 L523.50,283.57 L524.00,283.61 L524.50,283.65 L525.00,283.70 L525.50,283.75 L526.00,283.81 L526.50,283.88 L527.00,283.95 L527.50,284.02 L528.00,284.10 L528.50,284.18 L529.00,284.27 L529.50,284.36 L530.00,284.45 L530.50,284.55 L531.00,284.65 L531.50,284.75 L532.00,284.85 L532.50,284.95 L533.00,285.06 L533.50,285.16 L534.00,285.27 L534.50,285.37 L535.00,285.47 L535.50,285.58 L536.00,285.68 L536.50,285.78 L537.00,285.88 L537.50,285.97 L538.00,286.07 L538.50,286.16 L539.00,286.25 L539.50,286.33 L540.00,286.41 L540.50,286.49 L541.00,286.56 L541.50,286.62 L542.00,286.69 L542.50,286.74 L543.00,286.79 L543.50,286.84 L544.00,286.88 L544.50,286.92 L545.00,286.96 L545.50,286.99 L546.00,287.01 L546.50,287.03 L547.00,287.05 L547.50,287.06 L548.00,287.07 L548.50,287.07 L549.00,287.07 L549.50,287.06 L550.00,287.05 L550.50,287.04 L551.00,287.02 L551.50,287.00 L552.00,286.98 L552.50,286.95 L553.00,286.92 L553.50,286.88 L554.00,286.85 L554.50,286.80 L555.00,286.76 L555.50,286.71 L556.00,286.66 L556.50,286.60 L557.00,286.54 L557.50,286.48 L558.00,286.41 L558.50,286.34 L559.00,286.27 L559.50,286.20 L560.00,286.12 L560.50,286.04 L561.00,285.96 L561.50,285.87 L562.00,285.78 L562.50,285.69 L563.00,285.60 L563.50,285.50 L564.00,285.41 L564.50,285.30 L565.00,285.20 L565.50,285.10 L566.00,284.99 L566.50,284.88 L567.00,284.77 L567.50,284.65 L568.00,284.54 L568.50,284.42 L569.00,284.30 L569.50,284.18 L570.00,284.05 L570.50,283.93 L571.00,283.80 L571.50,283.67 L572.00,283.54 L572.50,283.41 L573.00,283.28 L573.50,283.14 L574.00,283.01 L574.50,282.87 L575.00,282.73 L575.50,282.60 L576.00,282.46 L576.50,282.32 L577.00,282.18 L577.50,282.03 L578.00,281.89 L578.50,281.75 L579.00,281.61 L579.50,281.47 L580.00,281.32 L580.50,281.18 L581.00,281.04 L581.50,280.90 L582.00,280.75 L582.50,280.61 L583.00,280.47 L583.50,280.33 L584.00,280.19 L584.50,280.05 L585.00,279.91 L585.50,279.78 L586.00,279.64 L586.50,279.50 L587.00,279.37 L587.50,279.24 L588.00,279.10 L588.50,278.97 L589.00,278.85 L589.50,278.72 L590.00,278.59 L590.50,278.47 L591.00,278.35 L591.50,278.23 L592.00,278.11 L592.50,277.99 L593.00,277.88 L593.50,277.77 L594.00,277.66 L594.50,277.56 L595.00,277.45 L595.50,277.35 L596.00,277.25 L596.50,277.16 L597.00,277.07 L597.50,276.98 L598.00,276.89 L598.50,276.81 L599.00,276.73 L599.50,276.65 L600.00,276.58 L600.50,276.51 L601.00,276.45 L601.50,276.38 L602.00,276.33 L602.50,276.27 L603.00,276.22 L603.50,276.17 L604.00,276.12 L604.50,276.08 L605.00,276.04 L605.50,276.00 L606.00,275.96 L606.50,275.93 L607.00,275.90 L607.50,275.87 L608.00,275.84 L608.50,275.81 L609.00,275.79 L609.50,275.76 L610.00,275.74 L610.50,275.72 L611.00,275.70 L611.50,275.69 L612.00,275.67 L612.50,275.65 L613.00,275.64 L613.50,275.62 L614.00,275.61 L614.50,275.60 L615.00,275.58 L615.50,275.57 L616.00,275.56 L616.50,275.55 L617.00,275.54 L617.50,275.52 L618.00,275.51 L618.50,275.50 L619.00,275.48 L619.50,275.47 L620.00,275.45 L620.50,275.44 L621.00,275.42 L621.50,275.40 L622.00,275.38 L622.50,275.36 L623.00,275.34 L623.50,275.32 L624.00,275.29 L624.50,275.27 L625.00,275.24 L625.50,275.21 L626.00,275.18 L626.50,275.14 L627.00,275.10 L627.50,275.07 L628.00,275.02 L628.50,274.98 L629.00,274.93 L629.50,274.88 L630.00,274.83 L630.50,274.77 L631.00,274.71 L631.50,274.65 L632.00,274.59 L632.50,274.52 L633.00,274.45 L633.50,274.37 L634.00,274.30 L634.50,274.22 L635.00,274.14 L635.50,274.06 L636.00,273.97 L636.50,273.88 L637.00,273.79 L637.50,273.70 L638.00,273.60 L638.50,273.51 L639.00,273.41 L639.50,273.30 L640.00,273.20 L640.50,273.10 L641.00,272.99 L641.50,272.88 L642.00,272.77 L642.50,272.66 L643.00,272.54 L643.50,272.43 L644.00,272.31 L644.50,272.19 L645.00,272.07 L645.50,271.95 L646.00,271.83 L646.50,271.70 L647.00,271.58 L647.50,271.45 L648.00,271.32 L648.50,271.20 L649.00,271.07 L649.50,270.94 L650.00,270.81 L650.50,270.67 L651.00,270.54 L651.50,270.41 L652.00,270.27 L652.50,270.14 L653.00,270.01 L653.50,269.87 L654.00,269.74 L654.50,269.60 L655.00,269.46 L655.50,269.33 L656.00,269.19 L656.50,269.05 L657.00,268.92 L657.50,268.78 L658.00,268.65 L658.50,268.51 L659.00,268.37 L659.50,268.24 L660.00,268.10 L660.50,267.97 L661.00,267.83 L661.50,267.70 L662.00,267.56 L662.50,267.43 L663.00,267.30 L663.50,267.17 L664.00,267.03 L664.50,266.90 L665.00,266.77 L665.50,266.64 L666.00,266.51 L666.50,266.38 L667.00,266.25 L667.50,266.13 L668.00,266.00 L668.50,265.87 L669.00,265.75 L669.50,265.62 L670.00,265.50 L670.50,265.38 L671.00,265.26 L671.50,265.14 L672.00,265.02 L672.50,264.90 L673.00,264.78 L673.50,264.66 L674.00,264.55 L674.50,264.43 L675.00,264.32 L675.50,264.21 L676.00,264.10 L676.50,263.99 L677.00,263.88 L677.50,263.77 L678.00,263.66 L678.50,263.56 L679.00,263.46 L679.50,263.36 L680.00,263.25 L680.50,263.16 L681.00,263.06 L681.50,262.96 L682.00,262.87 L682.50,262.78 L683.00,262.68 L683.50,262.60 L684.00,262.51 L684.50,262.42 L685.00,262.34 L685.50,262.25 L686.00,262.17 L686.50,262.09 L687.00,262.02 L687.50,261.94 L688.00,261.87 L688.50,261.80 L689.00,261.73 L689.50,261.66 L690.00,261.59 L690.50,261.53 L691.00,261.47 L691.50,261.41 L692.00,261.35 L692.50,261.29 L693.00,261.24 L693.50,261.18 L694.00,261.13 L694.50,261.08 L695.00,261.03 L695.50,260.98 L696.00,260.93 L696.50,260.88 L697.00,260.84 L697.50,260.79 L698.00,260.75 L698.50,260.70 L699.00,260.66 L699.50,260.62 L700.00,260.58 L700.50,260.54 L701.00,260.50 L701.50,260.46 L702.00,260.42 L702.50,260.38 L703.00,260.34 L703.50,260.30 L704.00,260.26 L704.50,260.22 L705.00,260.18 L705.50,260.14 L706.00,260.10 L706.50,260.07 L707.00,260.03 L707.50,259.99 L708.00,259.94 L708.50,259.90 L709.00,259.86 L709.50,259.82 L710.00,259.78 L710.50,259.73 L711.00,259.69 L711.50,259.64 L712.00,259.59 L712.50,259.55 L713.00,259.50 L713.50,259.45 L714.00,259.40 L714.50,259.34 L715.00,259.29 L715.50,259.24 L716.00,259.18 L716.50,259.12 L717.00,259.06 L717.50,259.00 L718.00,258.93 L718.50,258.87 L719.00,258.80 L719.50,258.73 L720.00,258.66 L720.50,258.59 L721.00,258.52 L721.50,258.44 L722.00,258.36 L722.50,258.28 L723.00,258.20 L723.50,258.11 L724.00,258.03 L724.50,257.94 L725.00,257.85 L725.50,257.76 L726.00,257.66 L726.50,257.57 L727.00,257.47 L727.50,257.37 L728.00,257.27 L728.50,257.16 L729.00,257.06 L729.50,256.95 L730.00,256.84 L730.50,256.72 L731.00,256.61 L731.50,256.49 L732.00,256.37 L732.50,256.25 L733.00,256.13 L733.50,256.00 L734.00,255.88 L734.50,255.75 L735.00,255.61 L735.50,255.48 L736.00,255.34 L736.50,255.20 L737.00,255.06 L737.50,254.92 L738.00,254.77 L738.50,254.63 L739.00,254.48 L739.50,254.32 L740.00,254.17 L740.50,254.01 L741.00,253.85 L741.50,253.69 L742.00,253.53 L742.50,253.36 L743.00,253.19 L743.50,253.02 L744.00,252.84 L744.50,252.67 L745.00,252.49 L745.50,252.31 L746.00,252.12 L746.50,251.94 L747.00,251.75 L747.50,251.56 L748.00,251.36 L748.50,251.17 L749.00,250.97 L749.50,250.77 L750.00,250.57 L750.50,250.36 L751.00,250.16 L751.50,249.95 L752.00,249.75 L752.50,249.54 L753.00,249.34 L753.50,249.13 L754.00,248.93 L754.50,248.72 L755.00,248.52 L755.50,248.32 L756.00,248.12 L756.50,247.92 L757.00,247.73 L757.50,247.54 L758.00,247.35 L758.50,247.16 L759.00,246.98 L759.50,246.80 L760.00,246.63 L760.50,246.46 L761.00,246.29 L761.50,246.13 L762.00,245.98 L762.50,245.83 L763.00,245.69 L763.50,245.55 L764.00,245.42 L764.50,245.30 L765.00,245.18 L765.50,245.07 L766.00,244.97 L766.50,244.88 L767.00,244.79 L767.50,244.72 L768.00,244.65 L768.50,244.59 L769.00,244.54 L769.50,244.50 L770.00,244.48 L770.50,244.46 L771.00,244.45 L771.50,244.45 L772.00,244.46 L772.50,244.49 L773.00,244.53 L773.50,244.58 L774.00,244.64 L774.50,244.71 L775.00,244.80 L775.50,244.90 L776.00,245.01 L776.50,245.14 L777.00,245.28 L777.50,245.44 L778.00,245.61 L778.50,245.79 L779.00,245.99 L779.50,246.21 L780.00,246.44 L780.50,246.68 L781.00,246.95 L781.50,247.22 L782.00,247.51 L782.50,247.82 L783.00,248.14 L783.50,248.48 L784.00,248.84 L784.50,249.21 L785.00,249.60 L785.50,250.01 L786.00,250.43 L786.50,250.87 L787.00,251.33 L787.50,251.80 L788.00,252.29 L788.50,252.80 L789.00,253.33 L789.50,253.87 L790.00,254.43 L790.50,255.02 L791.00,255.61 L791.50,256.23 L792.00,256.87 L792.50,257.52 L793.00,258.19 L793.50,258.88 L794.00,259.58 L794.50,260.30 L795.00,261.02 L795.50,261.76 L796.00,262.51 L796.50,263.26 L797.00,264.02 L797.50,264.79 L798.00,265.56 L798.50,266.33 L799.00,267.10 L799.50,267.87 L800.00,268.64 L800.50,269.40 L801.00,270.16 L801.50,270.92 L802.00,271.66 L802.50,272.40 L803.00,273.13 L803.50,273.84 L804.00,274.54 L804.50,275.23 L805.00,275.90 L805.50,276.56 L806.00,277.19 L806.50,277.81 L807.00,278.40 L807.50,278.97 L808.00,279.52 L808.50,280.04 L809.00,280.54 L809.50,281.01 L810.00,281.46 L810.50,281.87 L811.00,282.26 L811.50,282.62 L812.00,282.95 L812.50,283.24 L813.00,283.50 L813.50,283.74 L814.00,283.93 L814.50,284.09 L815.00,284.22 L815.50,284.31 L816.00,284.37 L816.50,284.38 L817.00,284.36 L817.50,284.29 L818.00,284.19 L818.50,284.04 L819.00,283.85 L819.50,283.62 L820.00,283.35 L820.50,283.03 L821.00,282.66 L821.50,282.25 L822.00,281.79 L822.50,281.28 L823.00,280.73 L823.50,280.13 L824.00,279.49 L824.50,278.81 L825.00,278.08 L825.50,277.32 L826.00,276.53 L826.50,275.70 L827.00,274.84 L827.50,273.95 L828.00,273.03 L828.50,272.08 L829.00,271.11 L829.50,270.11 L830.00,269.09 L830.50,268.06 L831.00,267.00 L831.50,265.93 L832.00,264.85 L832.50,263.75 L833.00,262.64 L833.50,261.52 L834.00,260.40 L834.50,259.27 L835.00,258.13 L835.50,257.00 L836.00,255.86 L836.50,254.73 L837.00,253.60 L837.50,252.47 L838.00,251.34 L838.50,250.21 L839.00,249.09 L839.50,247.97 L840.00,246.85 L840.50,245.74 L841.00,244.62 L841.50,243.52 L842.00,242.41 L842.50,241.31 L843.00,240.21 L843.50,239.12 L844.00,238.03 L844.50,236.94 L845.00,235.86 L845.50,234.78 L846.00,233.71 L846.50,232.65 L847.00,231.58 L847.50,230.53 L848.00,229.48 L848.50,228.43 L849.00,227.39 L849.50,226.35 L850.00,225.33 L850.50,224.30 L851.00,223.29 L851.50,222.28 L852.00,221.28 L852.50,220.28 L853.00,219.29 L853.50,218.31 L854.00,217.33 L854.50,216.36 L855.00,215.40 L855.50,214.45 L856.00,213.51 L856.50,212.57 L857.00,211.64 L857.50,210.72 L858.00,209.81 L858.50,208.91 L859.00,208.01 L859.50,207.13 L860.00,206.25 L860.50,205.39 L861.00,204.53 L861.50,203.68 L862.00,202.85 L862.50,202.02 L863.00,201.20 L863.50,200.39 L864.00,199.60 L864.50,198.81 L865.00,198.03 L865.50,197.27 L866.00,196.51 L866.50,195.77 L867.00,195.04 L867.50,194.32 L868.00,193.62 L868.50,192.93 L869.00,192.25 L869.50,191.59 L870.00,190.94 L870.50,190.31 L871.00,189.70 L871.50,189.10 L872.00,188.53 L872.50,187.97 L873.00,187.43 L873.50,186.91 L874.00,186.41 L874.50,185.94 L875.00,185.48 L875.50,185.05 L876.00,184.65 L876.50,184.26 L877.00,183.91 L877.50,183.57 L878.00,183.27 L878.50,182.99 L879.00,182.73 L879.50,182.51 L880.00,182.31 L880.50,182.14 L881.00,182.01 L881.50,181.90 L882.00,181.82 L882.50,181.78 L883.00,181.76 L883.50,181.77 L884.00,181.81 L884.50,181.87 L885.00,181.97 L885.50,182.08 L886.00,182.23 L886.50,182.40 L887.00,182.59 L887.50,182.81 L888.00,183.05 L888.50,183.32 L889.00,183.60 L889.50,183.91 L890.00,184.24 L890.50,184.60 L891.00,184.97 L891.50,185.36 L892.00,185.77 L892.50,186.20 L893.00,186.65 L893.50,187.11 L894.00,187.59 L894.50,188.09 L895.00,188.61 L895.50,189.14 L896.00,189.68 L896.50,190.24 L897.00,190.82 L897.50,191.41 L898.00,192.01 L898.50,192.63 L899.00,193.26 L899.50,193.90 L900.00,194.56 L900.50,195.23 L901.00,195.91 L901.50,196.60 L902.00,197.31 L902.50,198.02 L903.00,198.75 L903.50,199.49 L904.00,200.24 L904.50,201.00 L905.00,201.77 L905.50,202.55 L906.00,203.34 L906.50,204.14 L907.00,204.94 L907.50,205.76 L908.00,206.59 L908.50,207.42 L909.00,208.26 L909.50,209.11 L910.00,209.96 L910.50,210.82 L911.00,211.69 L911.50,212.57 L912.00,213.45 L912.50,214.34 L913.00,215.23 L913.50,216.13 L914.00,217.03 L914.50,217.94 L915.00,218.85 L915.50,219.77 L916.00,220.69 L916.50,221.61 L917.00,222.54 L917.50,223.47 L918.00,224.40 L918.50,225.34 L919.00,226.28 L919.50,227.22 L920.00,228.16 L920.50,229.10 L921.00,230.05 L921.50,230.99 L922.00,231.94 L922.50,232.88 L923.00,233.83 L923.50,234.77 L924.00,235.71 L924.50,236.66 L925.00,237.60 L925.50,238.54 L926.00,239.48 L926.50,240.42 L927.00,241.35 L927.50,242.29 L928.00,243.22 L928.50,244.15 L929.00,245.08 L929.50,246.01 L930.00,246.93 L930.50,247.85 L931.00,248.77 L931.50,249.69 L932.00,250.60 L932.50,251.52 L933.00,252.43 L933.50,253.33 L934.00,254.24 L934.50,255.14 L935.00,256.04 L935.50,256.93 L936.00,257.83 L936.50,258.72 L937.00,259.60 L937.50,260.49 L938.00,261.37 L938.50,262.24 L939.00,263.12 L939.50,263.99 L940.00,264.85 L940.50,265.72 L941.00,266.57 L941.50,267.43 L942.00,268.28 L942.50,269.13 L943.00,269.97 L943.50,270.81 L944.00,271.64 L944.50,272.47 L945.00,273.30 L945.50,274.12 L946.00,274.94 L946.50,275.75 L947.00,276.56 L947.50,277.36 L948.00,278.16 L948.50,278.95 L949.00,279.74 L949.50,280.53 L950.00,281.31 L950.50,282.08 L951.00,282.85 L951.50,283.61 L952.00,284.37 L952.50,285.12 L953.00,285.87 L953.50,286.61 L954.00,287.34 L954.50,288.07 L955.00,288.80 L955.50,289.51 L956.00,290.23 L956.50,290.93 L957.00,291.63 L957.50,292.32 L958.00,293.01 L958.50,293.69 L959.00,294.37 L959.50,295.03 L960.00,295.70 L960.50,296.35 L961.00,297.00 L961.50,297.64 L962.00,298.27 L962.50,298.90 L963.00,299.52 L963.50,300.13 L964.00,300.74 L964.50,301.33 L965.00,301.92 L965.50,302.51 L966.00,303.08 L966.50,303.65 L967.00,304.21 L967.50,304.76 L968.00,305.31 L968.50,305.84 L969.00,306.37 L969.50,306.89 L970.00,307.40 L970.50,307.91 L971.00,308.40 L971.50,308.89 L972.00,309.37 L972.50,309.84 L973.00,310.30 L973.50,310.75 L974.00,311.19 L974.50,311.63 L975.00,312.05 L975.50,312.47 L976.00,312.87 L976.50,313.27 L977.00,313.66 L977.50,314.04 L978.00,314.41 L978.50,314.77 L979.00,315.12 L979.50,315.46 L980.00,315.79 L980.50,316.11 L981.00,316.42 L981.50,316.72 L982.00,317.01 L982.50,317.29 L983.00,317.56 L983.50,317.82 L984.00,318.07 L984.50,318.31 L985.00,318.54 L985.50,318.76 L986.00,318.97 L986.50,319.17 L987.00,319.37 L987.50,319.55 L988.00,319.73 L988.50,319.90 L989.00,320.06 L989.50,320.21 L990.00,320.36 L990.50,320.50 L991.00,320.63 L991.50,320.76 L992.00,320.88 L992.50,320.99 L993.00,321.10 L993.50,321.20 L994.00,321.30 L994.50,321.40 L995.00,321.48 L995.50,321.57 L996.00,321.65 L996.50,321.72 L997.00,321.79 L997.50,321.86 L998.00,321.93 L998.50,321.99 L999.00,322.05 L999.50,322.10 L1000.00,322.16 L1000.50,322.21 L1001.00,322.26 L1001.50,322.31 L1002.00,322.35 L1002.50,322.40 L1003.00,322.45 L1003.50,322.49 L1004.00,322.53 L1004.50,322.58 L1005.00,322.62 L1005.50,322.67 L1006.00,322.71 L1006.50,322.76 L1007.00,322.81 L1007.50,322.86 L1008.00,322.91 L1008.50,322.96 L1009.00,323.01 L1009.50,323.07 L1010.00,323.13 L1010.50,323.19 L1011.00,323.26 L1011.50,323.33 L1011.70,323.35"/>
<path d="M69.00,224.51 L69.50,224.52 L70.00,224.52 L70.50,224.52 L71.00,224.53 L71.50,224.53 L72.00,224.53 L72.50,224.53 L73.00,224.54 L73.50,224.54 L74.00,224.54 L74.50,224.55 L75.00,224.55 L75.50,224.55 L76.00,224.56 L76.50,224.56 L77.00,224.56 L77.50,224.56 L78.00,224.57 L78.50,224.57 L79.00,224.57 L79.50,224.57 L80.00,224.58 L80.50,224.58 L81.00,224.58 L81.50,224.59 L82.00,224.59 L82.50,224.59 L83.00,224.59 L83.50,224.60 L84.00,224.60 L84.50,224.60 L85.00,224.60 L85.50,224.61 L86.00,224.61 L86.50,224.61 L87.00,224.62 L87.50,224.62 L88.00,224.62 L88.50,224.62 L89.00,224.63 L89.50,224.63 L90.00,224.63 L90.50,224.63 L91.00,224.64 L91.50,224.64 L92.00,224.64 L92.50,224.64 L93.00,224.65 L93.50,224.65 L94.00,224.65 L94.50,224.65 L95.00,224.66 L95.50,224.66 L96.00,224.66 L96.50,224.66 L97.00,224.67 L97.50,224.67 L98.00,224.67 L98.50,224.67 L99.00,224.68 L99.50,224.68 L100.00,224.68 L100.50,224.68 L101.00,224.69 L101.50,224.69 L102.00,224.69 L102.50,224.69 L103.00,224.69 L103.50,224.70 L104.00,224.70 L104.50,224.70 L105.00,224.70 L105.50,224.71 L106.00,224.71 L106.50,224.71 L107.00,224.71 L107.50,224.71 L108.00,224.72 L108.50,224.72 L109.00,224.72 L109.50,224.72 L110.00,224.73 L110.50,224.73 L111.00,224.73 L111.50,224.73 L112.00,224.73 L112.50,224.74 L113.00,224.74 L113.50,224.74 L114.00,224.74 L114.50,224.74 L115.00,224.75 L115.50,224.75 L116.00,224.75 L116.50,224.75 L117.00,224.75 L117.50,224.76 L118.00,224.76 L118.50,224.76 L119.00,224.76 L119.50,224.76 L120.00,224.77 L120.50,224.77 L121.00,224.77 L121.50,224.77 L122.00,224.77 L122.50,224.78 L123.00,224.78 L123.50,224.78 L124.00,224.78 L124.50,224.78 L125.00,224.78 L125.50,224.79 L126.00,224.79 L126.50,224.79 L127.00,224.79 L127.50,224.79 L128.00,224.80 L128.50,224.80 L129.00,224.80 L129.50,224.80 L130.00,224.80 L130.50,224.80 L131.00,224.81 L131.50,224.81 L132.00,224.81 L132.50,224.81 L133.00,224.81 L133.50,224.81 L134.00,224.82 L134.50,224.82 L135.00,224.82 L135.50,224.82 L136.00,224.82 L136.50,224.82 L137.00,224.82 L137.50,224.83 L138.00,224.83 L138.50,224.83 L139.00,224.83 L139.50,224.83 L140.00,224.83 L140.50,224.84 L141.00,224.84 L141.50,224.84 L142.00,224.84 L142.50,224.84 L143.00,224.84 L143.50,224.84 L144.00,224.85 L144.50,224.85 L145.00,224.85 L145.50,224.85 L146.00,224.85 L146.50,224.85 L147.00,224.85 L147.50,224.85 L148.00,224.86 L148.50,224.86 L149.00,224.86 L149.50,224.86 L150.00,224.86 L150.50,224.86 L151.00,224.86 L151.50,224.86 L152.00,224.87 L152.50,224.87 L153.00,224.87 L153.50,224.87 L154.00,224.87 L154.50,224.87 L155.00,224.87 L155.50,224.87 L156.00,224.87 L156.50,224.88 L157.00,224.88 L157.50,224.88 L158.00,224.88 L158.50,224.88 L159.00,224.88 L159.50,224.88 L160.00,224.88 L160.50,224.88 L161.00,224.89 L161.50,224.89 L162.00,224.89 L162.50,224.89 L163.00,224.89 L163.50,224.89 L164.00,224.89 L164.50,224.89 L165.00,224.89 L165.50,224.89 L166.00,224.89 L166.50,224.90 L167.00,224.90 L167.50,224.90 L168.00,224.90 L168.50,224.90 L169.00,224.90 L169.50,224.90 L170.00,224.90 L170.50,224.90 L171.00,224.90 L171.50,224.90 L172.00,224.90 L172.50,224.90 L173.00,224.90 L173.50,224.91 L174.00,224.91 L174.50,224.91 L175.00,224.91 L175.50,224.91 L176.00,224.91 L176.50,224.91 L177.00,224.91 L177.50,224.91 L178.00,224.91 L178.50,224.91 L179.00,224.91 L179.50,224.91 L180.00,224.91 L180.50,224.91 L181.00,224.91 L181.50,224.91 L182.00,224.91 L182.50,224.92 L183.00,224.92 L183.50,224.92 L184.00,224.92 L184.50,224.92 L185.00,224.92 L185.50,224.92 L186.00,224.92 L186.50,224.92 L187.00,224.92 L187.50,224.92 L188.00,224.92 L188.50,224.92 L189.00,224.92 L189.50,224.92 L190.00,224.92 L190.50,224.92 L191.00,224.92 L191.50,224.92 L192.00,224.92 L192.50,224.92 L193.00,224.92 L193.50,224.92 L194.00,224.92 L194.50,224.92 L195.00,224.92 L195.50,224.92 L196.00,224.92 L196.50,224.92 L197.00,224.92 L197.50,224.92 L198.00,224.92 L198.50,224.92 L199.00,224.92 L199.50,224.92 L200.00,224.92 L200.50,224.92 L201.00,224.92 L201.50,224.92 L202.00,224.92 L202.50,224.92 L203.00,224.92 L203.50,224.92 L204.00,224.92 L204.50,224.92 L205.00,224.92 L205.50,224.92 L206.00,224.92 L206.50,224.92 L207.00,224.92 L207.50,224.92 L208.00,224.92 L208.50,224.92 L209.00,224.92 L209.50,224.92 L210.00,224.92 L210.50,224.92 L211.00,224.92 L211.50,224.92 L212.00,224.92 L212.50,224.92 L213.00,224.92 L213.50,224.92 L214.00,224.92 L214.50,224.92 L215.00,224.92 L215.50,224.92 L216.00,224.91 L216.50,224.91 L217.00,224.91 L217.50,224.91 L218.00,224.91 L218.50,224.91 L219.00,224.91 L219.50,224.91 L220.00,224.91 L220.50,224.91 L221.00,224.91 L221.50,224.91 L222.00,224.91 L222.50,224.91 L223.00,224.91 L223.50,224.91 L224.00,224.91 L224.50,224.91 L225.00,224.90 L225.50,224.90 L226.00,224.90 L226.50,224.90 L227.00,224.90 L227.50,224.90 L228.00,224.90 L228.50,224.90 L229.00,224.90 L229.50,224.90 L230.00,224.90 L230.50,224.90 L231.00,224.90 L231.50,224.89 L232.00,224.89 L232.50,224.89 L233.00,224.89 L233.50,224.89 L234.00,224.89 L234.50,224.89 L235.00,224.89 L235.50,224.89 L236.00,224.89 L236.50,224.89 L237.00,224.88 L237.50,224.88 L238.00,224.88 L238.50,224.88 L239.00,224.88 L239.50,224.88 L240.00,224.88 L240.50,224.88 L241.00,224.88 L241.50,224.87 L242.00,224.87 L242.50,224.87 L243.00,224.87 L243.50,224.87 L244.00,224.87 L244.50,224.87 L245.00,224.87 L245.50,224.86 L246.00,224.86 L246.50,224.86 L247.00,224.86 L247.50,224.86 L248.00,224.86 L248.50,224.86 L249.00,224.86 L249.50,224.85 L250.00,224.85 L250.50,224.85 L251.00,224.85 L251.50,224.85 L252.00,224.85 L252.50,224.85 L253.00,224.84 L253.50,224.84 L254.00,224.84 L254.50,224.84 L255.00,224.84 L255.50,224.84 L256.00,224.83 L256.50,224.83 L257.00,224.83 L257.50,224.83 L258.00,224.83 L258.50,224.83 L259.00,224.82 L259.50,224.82 L260.00,224.82 L260.50,224.82 L261.00,224.82 L261.50,224.82 L262.00,224.81 L262.50,224.81 L263.00,224.81 L263.50,224.81 L264.00,224.81 L264.50,224.81 L265.00,224.80 L265.50,224.80 L266.00,224.80 L266.50,224.80 L267.00,224.80 L267.50,224.79 L268.00,224.79 L268.50,224.79 L269.00,224.79 L269.50,224.79 L270.00,224.78 L270.50,224.78 L271.00,224.78 L271.50,224.78 L272.00,224.78 L272.50,224.77 L273.00,224.77 L273.50,224.77 L274.00,224.77 L274.50,224.77 L275.00,224.76 L275.50,224.76 L276.00,224.76 L276.50,224.76 L277.00,224.76 L277.50,224.75 L278.00,224.75 L278.50,224.75 L279.00,224.75 L279.50,224.74 L280.00,224.74 L280.50,224.74 L281.00,224.74 L281.50,224.74 L282.00,224.73 L282.50,224.73 L283.00,224.73 L283.50,224.73 L284.00,224.72 L284.50,224.72 L285.00,224.72 L285.50,224.72 L286.00,224.71 L286.50,224.71 L287.00,224.71 L287.50,224.71 L288.00,224.70 L288.50,224.70 L289.00,224.70 L289.50,224.70 L290.00,224.69 L290.50,224.69 L291.00,224.69 L291.50,224.69 L292.00,224.68 L292.50,224.68 L293.00,224.68 L293.50,224.67 L294.00,224.67 L294.50,224.67 L295.00,224.67 L295.50,224.66 L296.00,224.66 L296.50,224.66 L297.00,224.66 L297.50,224.65 L298.00,224.65 L298.50,224.65 L299.00,224.64 L299.50,224.64 L300.00,224.64 L300.50,224.64 L301.00,224.63 L301.50,224.63 L302.00,224.63 L302.50,224.62 L303.00,224.62 L303.50,224.62 L304.00,224.61 L304.50,224.61 L305.00,224.61 L305.50,224.61 L306.00,224.60 L306.50,224.60 L307.00,224.60 L307.50,224.59 L308.00,224.59 L308.50,224.59 L309.00,224.58 L309.50,224.58 L310.00,224.58 L310.50,224.57 L311.00,224.57 L311.50,224.56 L312.00,224.56 L312.50,224.56 L313.00,224.55 L313.50,224.55 L314.00,224.54 L314.50,224.54 L315.00,224.53 L315.50,224.53 L316.00,224.52 L316.50,224.52 L317.00,224.51 L317.50,224.51 L318.00,224.50 L318.50,224.50 L319.00,224.49 L319.50,224.48 L320.00,224.48 L320.50,224.47 L321.00,224.46 L321.50,224.45 L322.00,224.45 L322.50,224.44 L323.00,224.43 L323.50,224.42 L324.00,224.41 L324.50,224.40 L325.00,224.39 L325.50,224.38 L326.00,224.37 L326.50,224.36 L327.00,224.35 L327.50,224.34 L328.00,224.33 L328.50,224.32 L329.00,224.31 L329.50,224.29 L330.00,224.28 L330.50,224.27 L331.00,224.25 L331.50,224.24 L332.00,224.23 L332.50,224.21 L333.00,224.20 L333.50,224.18 L334.00,224.16 L334.50,224.15 L335.00,224.13 L335.50,224.11 L336.00,224.09 L336.50,224.08 L337.00,224.06 L337.50,224.04 L338.00,224.02 L338.50,224.00 L339.00,223.98 L339.50,223.95 L340.00,223.93 L340.50,223.91 L341.00,223.89 L341.50,223.86 L342.00,223.84 L342.50,223.81 L343.00,223.79 L343.50,223.76 L344.00,223.74 L344.50,223.71 L345.00,223.68 L345.50,223.65 L346.00,223.62 L346.50,223.59 L347.00,223.56 L347.50,223.53 L348.00,223.50 L348.50,223.47 L349.00,223.44 L349.50,223.40 L350.00,223.37 L350.50,223.33 L351.00,223.30 L351.50,223.26 L352.00,223.23 L352.50,223.19 L353.00,223.15 L353.50,223.11 L354.00,223.07 L354.50,223.03 L355.00,222.99 L355.50,222.95 L356.00,222.90 L356.50,222.86 L357.00,222.82 L357.50,222.77 L358.00,222.73 L358.50,222.68 L359.00,222.63 L359.50,222.58 L360.00,222.53 L360.50,222.48 L361.00,222.43 L361.50,222.38 L362.00,222.33 L362.50,222.28 L363.00,222.22 L363.50,222.17 L364.00,222.11 L364.50,222.05 L365.00,221.99 L365.50,221.94 L366.00,221.88 L366.50,221.82 L367.00,221.76 L367.50,221.69 L368.00,221.63 L368.50,221.57 L369.00,221.50 L369.50,221.44 L370.00,221.37 L370.50,221.30 L371.00,221.24 L371.50,221.17 L372.00,221.10 L372.50,221.03 L373.00,220.96 L373.50,220.89 L374.00,220.82 L374.50,220.74 L375.00,220.67 L375.50,220.60 L376.00,220.52 L376.50,220.45 L377.00,220.37 L377.50,220.29 L378.00,220.22 L378.50,220.14 L379.00,220.06 L379.50,219.98 L380.00,219.90 L380.50,219.82 L381.00,219.74 L381.50,219.66 L382.00,219.58 L382.50,219.50 L383.00,219.41 L383.50,219.33 L384.00,219.25 L384.50,219.16 L385.00,219.08 L385.50,218.99 L386.00,218.91 L386.50,218.82 L387.00,218.73 L387.50,218.65 L388.00,218.56 L388.50,218.47 L389.00,218.38 L389.50,218.30 L390.00,218.21 L390.50,218.12 L391.00,218.03 L391.50,217.94 L392.00,217.85 L392.50,217.76 L393.00,217.67 L393.50,217.58 L394.00,217.48 L394.50,217.39 L395.00,217.30 L395.50,217.21 L396.00,217.11 L396.50,217.02 L397.00,216.93 L397.50,216.84 L398.00,216.74 L398.50,216.65 L399.00,216.55 L399.50,216.46 L400.00,216.37 L400.50,216.27 L401.00,216.18 L401.50,216.08 L402.00,215.99 L402.50,215.89 L403.00,215.80 L403.50,215.70 L404.00,215.61 L404.50,215.51 L405.00,215.42 L405.50,215.32 L406.00,215.23 L406.50,215.13 L407.00,215.03 L407.50,214.94 L408.00,214.84 L408.50,214.75 L409.00,214.65 L409.50,214.56 L410.00,214.46 L410.50,214.37 L411.00,214.27 L411.50,214.17 L412.00,214.08 L412.50,213.98 L413.00,213.89 L413.50,213.79 L414.00,213.70 L414.50,213.60 L415.00,213.51 L415.50,213.41 L416.00,213.32 L416.50,213.23 L417.00,213.13 L417.50,213.04 L418.00,212.94 L418.50,212.85 L419.00,212.76 L419.50,212.66 L420.00,212.57 L420.50,212.48 L421.00,212.39 L421.50,212.29 L422.00,212.20 L422.50,212.11 L423.00,212.02 L423.50,211.93 L424.00,211.84 L424.50,211.75 L425.00,211.66 L425.50,211.57 L426.00,211.48 L426.50,211.39 L427.00,211.30 L427.50,211.22 L428.00,211.13 L428.50,211.04 L429.00,210.96 L429.50,210.87 L430.00,210.79 L430.50,210.70 L431.00,210.62 L431.50,210.54 L432.00,210.46 L432.50,210.37 L433.00,210.29 L433.50,210.22 L434.00,210.14 L434.50,210.06 L435.00,209.98 L435.50,209.91 L436.00,209.83 L436.50,209.76 L437.00,209.69 L437.50,209.61 L438.00,209.54 L438.50,209.47 L439.00,209.41 L439.50,209.34 L440.00,209.27 L440.50,209.21 L441.00,209.14 L441.50,209.08 L442.00,209.02 L442.50,208.96 L443.00,208.90 L443.50,208.85 L444.00,208.79 L444.50,208.74 L445.00,208.68 L445.50,208.63 L446.00,208.58 L446.50,208.53 L447.00,208.49 L447.50,208.44 L448.00,208.40 L448.50,208.36 L449.00,208.32 L449.50,208.28 L450.00,208.24 L450.50,208.21 L451.00,208.17 L451.50,208.14 L452.00,208.11 L452.50,208.08 L453.00,208.06 L453.50,208.03 L454.00,208.01 L454.50,207.99 L455.00,207.97 L455.50,207.95 L456.00,207.94 L456.50,207.93 L457.00,207.91 L457.50,207.90 L458.00,207.89 L458.50,207.88 L459.00,207.88 L459.50,207.87 L460.00,207.86 L460.50,207.86 L461.00,207.86 L461.50,207.85 L462.00,207.85 L462.50,207.85 L463.00,207.85 L463.50,207.85 L464.00,207.86 L464.50,207.86 L465.00,207.86 L465.50,207.86 L466.00,207.87 L466.50,207.87 L467.00,207.87 L467.50,207.88 L468.00,207.88 L468.50,207.88 L469.00,207.89 L469.50,207.89 L470.00,207.89 L470.50,207.90 L471.00,207.90 L471.50,207.90 L472.00,207.91 L472.50,207.91 L473.00,207.91 L473.50,207.91 L474.00,207.91 L474.50,207.91 L475.00,207.91 L475.50,207.91 L476.00,207.90 L476.50,207.90 L477.00,207.89 L477.50,207.89 L478.00,207.88 L478.50,207.87 L479.00,207.86 L479.50,207.85 L480.00,207.84 L480.50,207.82 L481.00,207.81 L481.50,207.79 L482.00,207.77 L482.50,207.75 L483.00,207.73 L483.50,207.71 L484.00,207.68 L484.50,207.65 L485.00,207.62 L485.50,207.59 L486.00,207.56 L486.50,207.53 L487.00,207.49 L487.50,207.46 L488.00,207.42 L488.50,207.38 L489.00,207.34 L489.50,207.30 L490.00,207.25 L490.50,207.21 L491.00,207.16 L491.50,207.11 L492.00,207.07 L492.50,207.02 L493.00,206.96 L493.50,206.91 L494.00,206.86 L494.50,206.80 L495.00,206.75 L495.50,206.69 L496.00,206.63 L496.50,206.57 L497.00,206.51 L497.50,206.45 L498.00,206.39 L498.50,206.32 L499.00,206.26 L499.50,206.19 L500.00,206.12 L500.50,206.06 L501.00,205.99 L501.50,205.92 L502.00,205.85 L502.50,205.78 L503.00,205.71 L503.50,205.63 L504.00,205.56 L504.50,205.49 L505.00,205.41 L505.50,205.33 L506.00,205.26 L506.50,205.18 L507.00,205.10 L507.50,205.03 L508.00,204.95 L508.50,204.87 L509.00,204.79 L509.50,204.71 L510.00,204.63 L510.50,204.54 L511.00,204.46 L511.50,204.38 L512.00,204.30 L512.50,204.21 L513.00,204.13 L513.50,204.05 L514.00,203.96 L514.50,203.88 L515.00,203.79 L515.50,203.71 L516.00,203.62 L516.50,203.54 L517.00,203.45 L517.50,203.37 L518.00,203.28 L518.50,203.19 L519.00,203.11 L519.50,203.02 L520.00,202.94 L520.50,202.85 L521.00,202.77 L521.50,202.68 L522.00,202.59 L522.50,202.51 L523.00,202.42 L523.50,202.34 L524.00,202.25 L524.50,202.17 L525.00,202.09 L525.50,202.00 L526.00,201.92 L526.50,201.84 L527.00,201.75 L527.50,201.67 L528.00,201.59 L528.50,201.51 L529.00,201.43 L529.50,201.35 L530.00,201.27 L530.50,201.19 L531.00,201.12 L531.50,201.04 L532.00,200.96 L532.50,200.89 L533.00,200.81 L533.50,200.74 L534.00,200.66 L534.50,200.59 L535.00,200.52 L535.50,200.45 L536.00,200.38 L536.50,200.31 L537.00,200.24 L537.50,200.18 L538.00,200.11 L538.50,200.05 L539.00,199.98 L539.50,199.92 L540.00,199.86 L540.50,199.80 L541.00,199.74 L541.50,199.68 L542.00,199.63 L542.50,199.57 L543.00,199.52 L543.50,199.47 L544.00,199.42 L544.50,199.37 L545.00,199.32 L545.50,199.27 L546.00,199.22 L546.50,199.18 L547.00,199.13 L547.50,199.09 L548.00,199.05 L548.50,199.01 L549.00,198.97 L549.50,198.93 L550.00,198.89 L550.50,198.86 L551.00,198.82 L551.50,198.78 L552.00,198.75 L552.50,198.72 L553.00,198.69 L553.50,198.66 L554.00,198.63 L554.50,198.60 L555.00,198.57 L555.50,198.54 L556.00,198.52 L556.50,198.49 L557.00,198.47 L557.50,198.45 L558.00,198.42 L558.50,198.40 L559.00,198.38 L559.50,198.36 L560.00,198.34 L560.50,198.32 L561.00,198.31 L561.50,198.29 L562.00,198.27 L562.50,198.26 L563.00,198.24 L563.50,198.23 L564.00,198.22 L564.50,198.20 L565.00,198.19 L565.50,198.18 L566.00,198.17 L566.50,198.16 L567.00,198.15 L567.50,198.14 L568.00,198.14 L568.50,198.13 L569.00,198.12 L569.50,198.12 L570.00,198.11 L570.50,198.11 L571.00,198.10 L571.50,198.10 L572.00,198.09 L572.50,198.09 L573.00,198.09 L573.50,198.09 L574.00,198.09 L574.50,198.09 L575.00,198.09 L575.50,198.09 L576.00,198.09 L576.50,198.09 L577.00,198.09 L577.50,198.09 L578.00,198.09 L578.50,198.09 L579.00,198.10 L579.50,198.10 L580.00,198.10 L580.50,198.11 L581.00,198.11 L581.50,198.11 L582.00,198.12 L582.50,198.12 L583.00,198.13 L583.50,198.13 L584.00,198.14 L584.50,198.15 L585.00,198.15 L585.50,198.16 L586.00,198.16 L586.50,198.17 L587.00,198.18 L587.50,198.18 L588.00,198.19 L588.50,198.20 L589.00,198.20 L589.50,198.21 L590.00,198.22 L590.50,198.23 L591.00,198.23 L591.50,198.24 L592.00,198.25 L592.50,198.25 L593.00,198.26 L593.50,198.27 L594.00,198.28 L594.50,198.28 L595.00,198.29 L595.50,198.30 L596.00,198.31 L596.50,198.31 L597.00,198.32 L597.50,198.33 L598.00,198.33 L598.50,198.34 L599.00,198.35 L599.50,198.35 L600.00,198.36 L600.50,198.36 L601.00,198.37 L601.50,198.38 L602.00,198.38 L602.50,198.39 L603.00,198.39 L603.50,198.40 L604.00,198.40 L604.50,198.40 L605.00,198.41 L605.50,198.41 L606.00,198.41 L606.50,198.42 L607.00,198.42 L607.50,198.42 L608.00,198.42 L608.50,198.42 L609.00,198.43 L609.50,198.43 L610.00,198.43 L610.50,198.43 L611.00,198.43 L611.50,198.42 L612.00,198.42 L612.50,198.42 L613.00,198.42 L613.50,198.41 L614.00,198.41 L614.50,198.41 L615.00,198.40 L615.50,198.40 L616.00,198.39 L616.50,198.39 L617.00,198.38 L617.50,198.37 L618.00,198.36 L618.50,198.35 L619.00,198.34 L619.50,198.33 L620.00,198.32 L620.50,198.31 L621.00,198.30 L621.50,198.29 L622.00,198.27 L622.50,198.26 L623.00,198.24 L623.50,198.23 L624.00,198.21 L624.50,198.20 L625.00,198.18 L625.50,198.16 L626.00,198.14 L626.50,198.12 L627.00,198.10 L627.50,198.08 L628.00,198.05 L628.50,198.03 L629.00,198.00 L629.50,197.98 L630.00,197.95 L630.50,197.92 L631.00,197.90 L631.50,197.87 L632.00,197.84 L632.50,197.81 L633.00,197.77 L633.50,197.74 L634.00,197.71 L634.50,197.67 L635.00,197.63 L635.50,197.60 L636.00,197.56 L636.50,197.52 L637.00,197.48 L637.50,197.44 L638.00,197.39 L638.50,197.35 L639.00,197.31 L639.50,197.26 L640.00,197.21 L640.50,197.16 L641.00,197.11 L641.50,197.06 L642.00,197.01 L642.50,196.96 L643.00,196.90 L643.50,196.85 L644.00,196.79 L644.50,196.73 L645.00,196.67 L645.50,196.61 L646.00,196.55 L646.50,196.49 L647.00,196.42 L647.50,196.36 L648.00,196.29 L648.50,196.22 L649.00,196.15 L649.50,196.08 L650.00,196.01 L650.50,195.93 L651.00,195.86 L651.50,195.78 L652.00,195.70 L652.50,195.62 L653.00,195.54 L653.50,195.46 L654.00,195.37 L654.50,195.29 L655.00,195.20 L655.50,195.11 L656.00,195.02 L656.50,194.93 L657.00,194.84 L657.50,194.74 L658.00,194.64 L658.50,194.55 L659.00,194.45 L659.50,194.34 L660.00,194.24 L660.50,194.14 L661.00,194.03 L661.50,193.92 L662.00,193.81 L662.50,193.70 L663.00,193.59 L663.50,193.47 L664.00,193.36 L664.50,193.24 L665.00,193.12 L665.50,193.00 L666.00,192.88 L666.50,192.76 L667.00,192.64 L667.50,192.51 L668.00,192.39 L668.50,192.26 L669.00,192.13 L669.50,192.00 L670.00,191.87 L670.50,191.73 L671.00,191.60 L671.50,191.47 L672.00,191.33 L672.50,191.19 L673.00,191.05 L673.50,190.91 L674.00,190.77 L674.50,190.63 L675.00,190.49 L675.50,190.35 L676.00,190.20 L676.50,190.06 L677.00,189.91 L677.50,189.76 L678.00,189.61 L678.50,189.46 L679.00,189.31 L679.50,189.16 L680.00,189.01 L680.50,188.86 L681.00,188.70 L681.50,188.55 L682.00,188.39 L682.50,188.24 L683.00,188.08 L683.50,187.92 L684.00,187.77 L684.50,187.61 L685.00,187.45 L685.50,187.29 L686.00,187.13 L686.50,186.97 L687.00,186.80 L687.50,186.64 L688.00,186.48 L688.50,186.31 L689.00,186.15 L689.50,185.99 L690.00,185.82 L690.50,185.66 L691.00,185.49 L691.50,185.32 L692.00,185.16 L692.50,184.99 L693.00,184.82 L693.50,184.66 L694.00,184.49 L694.50,184.32 L695.00,184.15 L695.50,183.98 L696.00,183.81 L696.50,183.64 L697.00,183.47 L697.50,183.30 L698.00,183.13 L698.50,182.96 L699.00,182.79 L699.50,182.62 L700.00,182.45 L700.50,182.28 L701.00,182.11 L701.50,181.94 L702.00,181.77 L702.50,181.60 L703.00,181.43 L703.50,181.26 L704.00,181.09 L704.50,180.92 L705.00,180.75 L705.50,180.58 L706.00,180.41 L706.50,180.24 L707.00,180.07 L707.50,179.90 L708.00,179.73 L708.50,179.56 L709.00,179.40 L709.50,179.23 L710.00,179.06 L710.50,178.89 L711.00,178.72 L711.50,178.56 L712.00,178.39 L712.50,178.22 L713.00,178.06 L713.50,177.89 L714.00,177.73 L714.50,177.56 L715.00,177.40 L715.50,177.24 L716.00,177.07 L716.50,176.91 L717.00,176.75 L717.50,176.59 L718.00,176.43 L718.50,176.27 L719.00,176.11 L719.50,175.95 L720.00,175.79 L720.50,175.63 L721.00,175.48 L721.50,175.32 L722.00,175.16 L722.50,175.01 L723.00,174.85 L723.50,174.70 L724.00,174.55 L724.50,174.39 L725.00,174.24 L725.50,174.09 L726.00,173.94 L726.50,173.79 L727.00,173.64 L727.50,173.49 L728.00,173.34 L728.50,173.19 L729.00,173.05 L729.50,172.90 L730.00,172.75 L730.50,172.61 L731.00,172.46 L731.50,172.31 L732.00,172.17 L732.50,172.03 L733.00,171.88 L733.50,171.74 L734.00,171.60 L734.50,171.46 L735.00,171.32 L735.50,171.17 L736.00,171.03 L736.50,170.89 L737.00,170.76 L737.50,170.62 L738.00,170.48 L738.50,170.34 L739.00,170.20 L739.50,170.07 L740.00,169.93 L740.50,169.79 L741.00,169.66 L741.50,169.52 L742.00,169.39 L742.50,169.26 L743.00,169.12 L743.50,168.99 L744.00,168.86 L744.50,168.73 L745.00,168.59 L745.50,168.46 L746.00,168.33 L746.50,168.20 L747.00,168.07 L747.50,167.94 L748.00,167.82 L748.50,167.69 L749.00,167.56 L749.50,167.43 L750.00,167.30 L750.50,167.18 L751.00,167.05 L751.50,166.93 L752.00,166.80 L752.50,166.68 L753.00,166.55 L753.50,166.43 L754.00,166.30 L754.50,166.18 L755.00,166.06 L755.50,165.93 L756.00,165.81 L756.50,165.69 L757.00,165.57 L757.50,165.45 L758.00,165.33 L758.50,165.21 L759.00,165.09 L759.50,164.97 L760.00,164.85 L760.50,164.73 L761.00,164.61 L761.50,164.49 L762.00,164.38 L762.50,164.26 L763.00,164.14 L763.50,164.02 L764.00,163.91 L764.50,163.79 L765.00,163.68 L765.50,163.56 L766.00,163.45 L766.50,163.33 L767.00,163.22 L767.50,163.10 L768.00,162.99 L768.50,162.88 L769.00,162.76 L769.50,162.65 L770.00,162.54 L770.50,162.43 L771.00,162.31 L771.50,162.20 L772.00,162.09 L772.50,161.98 L773.00,161.87 L773.50,161.76 L774.00,161.65 L774.50,161.54 L775.00,161.43 L775.50,161.32 L776.00,161.21 L776.50,161.10 L777.00,161.00 L777.50,160.89 L778.00,160.78 L778.50,160.67 L779.00,160.56 L779.50,160.46 L780.00,160.35 L780.50,160.24 L781.00,160.13 L781.50,160.02 L782.00,159.91 L782.50,159.80 L783.00,159.69 L783.50,159.58 L784.00,159.46 L784.50,159.35 L785.00,159.24 L785.50,159.12 L786.00,159.00 L786.50,158.88 L787.00,158.76 L787.50,158.64 L788.00,158.52 L788.50,158.39 L789.00,158.27 L789.50,158.14 L790.00,158.01 L790.50,157.87 L791.00,157.74 L791.50,157.60 L792.00,157.46 L792.50,157.32 L793.00,157.18 L793.50,157.03 L794.00,156.88 L794.50,156.73 L795.00,156.57 L795.50,156.41 L796.00,156.25 L796.50,156.09 L797.00,155.92 L797.50,155.75 L798.00,155.57 L798.50,155.40 L799.00,155.21 L799.50,155.03 L800.00,154.84 L800.50,154.65 L801.00,154.45 L801.50,154.25 L802.00,154.05 L802.50,153.84 L803.00,153.62 L803.50,153.41 L804.00,153.18 L804.50,152.96 L805.00,152.72 L805.50,152.49 L806.00,152.25 L806.50,152.00 L807.00,151.75 L807.50,151.49 L808.00,151.23 L808.50,150.97 L809.00,150.69 L809.50,150.42 L810.00,150.13 L810.50,149.85 L811.00,149.55 L811.50,149.25 L812.00,148.95 L812.50,148.63 L813.00,148.32 L813.50,147.99 L814.00,147.66 L814.50,147.32 L815.00,146.98 L815.50,146.63 L816.00,146.27 L816.50,145.91 L817.00,145.54 L817.50,145.16 L818.00,144.78 L818.50,144.39 L819.00,143.99 L819.50,143.59 L820.00,143.17 L820.50,142.75 L821.00,142.33 L821.50,141.89 L822.00,141.45 L822.50,141.00 L823.00,140.54 L823.50,140.07 L824.00,139.60 L824.50,139.11 L825.00,138.62 L825.50,138.12 L826.00,137.62 L826.50,137.10 L827.00,136.58 L827.50,136.04 L828.00,135.50 L828.50,134.95 L829.00,134.39 L829.50,133.82 L830.00,133.24 L830.50,132.66 L831.00,132.06 L831.50,131.45 L832.00,130.84 L832.50,130.21 L833.00,129.58 L833.50,128.93 L834.00,128.28 L834.50,127.61 L835.00,126.94 L835.50,126.26 L836.00,125.56 L836.50,124.86 L837.00,124.14 L837.50,123.42 L838.00,122.69 L838.50,121.95 L839.00,121.21 L839.50,120.46 L840.00,119.70 L840.50,118.94 L841.00,118.18 L841.50,117.41 L842.00,116.65 L842.50,115.88 L843.00,115.11 L843.50,114.35 L844.00,113.58 L844.50,112.82 L845.00,112.06 L845.50,111.30 L846.00,110.55 L846.50,109.80 L847.00,109.06 L847.50,108.33 L848.00,107.60 L848.50,106.88 L849.00,106.17 L849.50,105.48 L850.00,104.79 L850.50,104.11 L851.00,103.45 L851.50,102.80 L852.00,102.16 L852.50,101.53 L853.00,100.91 L853.50,100.30 L854.00,99.70 L854.50,99.10 L855.00,98.51 L855.50,97.93 L856.00,97.34 L856.50,96.76 L857.00,96.18 L857.50,95.60 L858.00,95.02 L858.50,94.44 L859.00,93.85 L859.50,93.26 L860.00,92.66 L860.50,92.06 L861.00,91.45 L861.50,90.84 L862.00,90.22 L862.50,89.59 L863.00,88.96 L863.50,88.32 L864.00,87.68 L864.50,87.02 L865.00,86.37 L865.50,85.70 L866.00,85.02 L866.50,84.34 L867.00,83.65 L867.50,82.95 L868.00,82.25 L868.50,81.55 L869.00,80.84 L869.50,80.13 L870.00,79.42 L870.50,78.71 L871.00,78.01 L871.50,77.31 L872.00,76.61 L872.50,75.92 L873.00,75.23 L873.50,74.56 L874.00,73.89 L874.50,73.23 L875.00,72.59 L875.50,71.96 L876.00,71.34 L876.50,70.74 L877.00,70.15 L877.50,69.58 L878.00,69.03 L878.50,68.50 L879.00,67.99 L879.50,67.50 L880.00,67.04 L880.50,66.60 L881.00,66.18 L881.50,65.79 L882.00,65.43 L882.50,65.09 L883.00,64.78 L883.50,64.49 L884.00,64.23 L884.50,63.99 L885.00,63.76 L885.50,63.56 L886.00,63.38 L886.50,63.22 L887.00,63.08 L887.50,62.96 L888.00,62.85 L888.50,62.76 L889.00,62.69 L889.50,62.63 L890.00,62.59 L890.50,62.55 L891.00,62.54 L891.50,62.53 L892.00,62.54 L892.50,62.55 L893.00,62.58 L893.50,62.62 L894.00,62.66 L894.50,62.71 L895.00,62.77 L895.50,62.84 L896.00,62.91 L896.50,62.99 L897.00,63.07 L897.50,63.17 L898.00,63.27 L898.50,63.37 L899.00,63.48 L899.50,63.60 L900.00,63.73 L900.50,63.86 L901.00,64.00 L901.50,64.15 L902.00,64.30 L902.50,64.46 L903.00,64.63 L903.50,64.80 L904.00,64.98 L904.50,65.17 L905.00,65.37 L905.50,65.57 L906.00,65.78 L906.50,66.00 L907.00,66.23 L907.50,66.46 L908.00,66.70 L908.50,66.95 L909.00,67.21 L909.50,67.47 L910.00,67.75 L910.50,68.03 L911.00,68.31 L911.50,68.61 L912.00,68.91 L912.50,69.23 L913.00,69.55 L913.50,69.87 L914.00,70.21 L914.50,70.55 L915.00,70.91 L915.50,71.27 L916.00,71.64 L916.50,72.02 L917.00,72.40 L917.50,72.80 L918.00,73.20 L918.50,73.61 L919.00,74.03 L919.50,74.46 L920.00,74.90 L920.50,75.35 L921.00,75.80 L921.50,76.27 L922.00,76.74 L922.50,77.23 L923.00,77.72 L923.50,78.22 L924.00,78.73 L924.50,79.25 L925.00,79.78 L925.50,80.31 L926.00,80.86 L926.50,81.42 L927.00,81.98 L927.50,82.56 L928.00,83.14 L928.50,83.74 L929.00,84.34 L929.50,84.96 L930.00,85.58 L930.50,86.22 L931.00,86.86 L931.50,87.51 L932.00,88.17 L932.50,88.85 L933.00,89.53 L933.50,90.22 L934.00,90.93 L934.50,91.64 L935.00,92.36 L935.50,93.10 L936.00,93.84 L936.50,94.60 L937.00,95.36 L937.50,96.14 L938.00,96.92 L938.50,97.72 L939.00,98.53 L939.50,99.35 L940.00,100.17 L940.50,101.01 L941.00,101.86 L941.50,102.73 L942.00,103.60 L942.50,104.48 L943.00,105.37 L943.50,106.28 L944.00,107.19 L944.50,108.12 L945.00,109.06 L945.50,110.01 L946.00,110.97 L946.50,111.94 L947.00,112.93 L947.50,113.92 L948.00,114.93 L948.50,115.94 L949.00,116.97 L949.50,118.02 L950.00,119.07 L950.50,120.13 L951.00,121.21 L951.50,122.30 L952.00,123.40 L952.50,124.51 L953.00,125.63 L953.50,126.77 L954.00,127.92 L954.50,129.08 L955.00,130.25 L955.50,131.43 L956.00,132.62 L956.50,133.82 L957.00,135.04 L957.50,136.26 L958.00,137.49 L958.50,138.72 L959.00,139.97 L959.50,141.21 L960.00,142.47 L960.50,143.73 L961.00,145.00 L961.50,146.27 L962.00,147.54 L962.50,148.81 L963.00,150.09 L963.50,151.37 L964.00,152.65 L964.50,153.94 L965.00,155.22 L965.50,156.50 L966.00,157.78 L966.50,159.06 L967.00,160.34 L967.50,161.61 L968.00,162.88 L968.50,164.15 L969.00,165.41 L969.50,166.67 L970.00,167.92 L970.50,169.17 L971.00,170.41 L971.50,171.64 L972.00,172.86 L972.50,174.08 L973.00,175.28 L973.50,176.48 L974.00,177.67 L974.50,178.84 L975.00,180.01 L975.50,181.16 L976.00,182.30 L976.50,183.43 L977.00,184.54 L977.50,185.64 L978.00,186.73 L978.50,187.80 L979.00,188.85 L979.50,189.89 L980.00,190.91 L980.50,191.91 L981.00,192.90 L981.50,193.86 L982.00,194.81 L982.50,195.74 L983.00,196.64 L983.50,197.53 L984.00,198.39 L984.50,199.24 L985.00,200.06 L985.50,200.86 L986.00,201.64 L986.50,202.40 L987.00,203.15 L987.50,203.87 L988.00,204.57 L988.50,205.25 L989.00,205.91 L989.50,206.55 L990.00,207.17 L990.50,207.77 L991.00,208.36 L991.50,208.92 L992.00,209.46 L992.50,209.99 L993.00,210.50 L993.50,210.98 L994.00,211.45 L994.50,211.90 L995.00,212.33 L995.50,212.74 L996.00,213.13 L996.50,213.51 L997.00,213.87 L997.50,214.20 L998.00,214.53 L998.50,214.83 L999.00,215.11 L999.50,215.38 L1000.00,215.63 L1000.50,215.86 L1001.00,216.08 L1001.50,216.27 L1002.00,216.45 L1002.50,216.61 L1003.00,216.76 L1003.50,216.89 L1004.00,217.00 L1004.50,217.10 L1005.00,217.17 L1005.50,217.24 L1006.00,217.28 L1006.50,217.31 L1007.00,217.32 L1007.50,217.32 L1008.00,217.30 L1008.50,217.27 L1009.00,217.21 L1009.50,217.15 L1010.00,217.07 L1010.50,216.97 L1011.00,216.85 L1011.50,216.73"/>
</g>
<g stroke="#8c8c8c" stroke-width="1.8" stroke-dasharray="1.8 4.45" fill="none">
<line x1="500.5" y1="249" x2="570" y2="359.5"/>
<line x1="523.5" y1="369" x2="509.3" y2="564.5"/>
<line x1="783.25" y1="228" x2="709" y2="385.5"/>
<line x1="644.5" y1="481" x2="642" y2="695"/>
<line x1="900" y1="48.75" x2="868" y2="353.75"/>
<line x1="848.5" y1="483.75" x2="848.5" y2="660"/>
</g>
<g stroke="#111" fill="none">
<path stroke-width="3" d="M61,14 H1012.5 V775.5 H61"/>
<path stroke-width="2.6" d="M68,14 V775.5"/>
<path stroke-width="2.4" d="M61,14.00 H68 M64,90.15 H68 M61,166.30 H68 M64,242.45 H68 M61,318.60 H68 M64,394.75 H68 M61,470.90 H68 M64,547.05 H68 M61,623.20 H68 M64,699.35 H68 M61,775.50 H68 M110.44,775.5 V783 M189.15,775.5 V790 M267.87,775.5 V783 M346.58,775.5 V790 M425.29,775.5 V783 M504.00,775.5 V790 M582.72,775.5 V783 M661.43,775.5 V790 M740.14,775.5 V783 M818.85,775.5 V790 M897.57,775.5 V783 M976.28,775.5 V790"/>
<path stroke-width="1.7" stroke="#222" d="M75.8,742.3 V748.6"/>
</g>
<g font-family="Liberation Serif" font-weight="bold" font-size="33.4" text-anchor="middle" fill="#111">
<text transform="translate(188.85,824.4) scale(0.955,1)">400</text>
<text transform="translate(346.28,824.4) scale(0.955,1)">500</text>
<text transform="translate(503.70,824.4) scale(0.955,1)">600</text>
<text transform="translate(661.13,824.4) scale(0.955,1)">700</text>
<text transform="translate(818.55,824.4) scale(0.955,1)">800</text>
<text transform="translate(975.98,824.4) scale(0.955,1)">900</text>
</g>
<text x="540.4" y="873.3" font-family="Liberation Serif" font-weight="bold" font-size="35.5" text-anchor="middle" fill="#111">Temperature (K)</text>
<g font-family="Liberation Serif" font-weight="bold" fill="#111">
<text transform="translate(37.5,589) rotate(-90) scale(0.925,1)" font-size="35.3">H</text>
<text transform="translate(51.7,562.8) rotate(-90)" font-size="22">2</text>
<text transform="translate(37,543) rotate(-90)" font-size="35.3">comsumption (a.u.)</text>
</g>
<g font-family="Liberation Serif" font-weight="bold" font-size="30.5" fill="#111" letter-spacing="1.1">
<text x="94" y="216.5">(e)</text>
<text x="94" y="317.5">(d)</text>
<text x="94" y="416.5">(c)</text>
<text x="94" y="595.5">(b)</text>
<text x="94" y="735.5">(a)</text>
</g>
<g font-family="Liberation Serif" fill="#1a1a1a">
<text x="513.7" y="264.5" font-size="29" stroke="#1a1a1a" stroke-width="0.15">T</text><text x="530.90" y="275.60" font-size="16.7" fill="#4a4a4a">1</text>
<text x="551.4" y="316.7" font-size="29" stroke="#1a1a1a" stroke-width="0.15">T</text><text x="568.60" y="327.80" font-size="16.7" fill="#4a4a4a">1</text>
<text x="531.2" y="385" font-size="29" stroke="#1a1a1a" stroke-width="0.15">T</text><text x="548.40" y="396.10" font-size="16.7" fill="#4a4a4a">1</text>
<text x="520" y="520" font-size="29" stroke="#1a1a1a" stroke-width="0.15">T</text><text x="537.20" y="531.10" font-size="16.7" fill="#4a4a4a">1</text>
<text x="744" y="229.5" font-size="29" stroke="#1a1a1a" stroke-width="0.15">T</text><text x="761.20" y="240.60" font-size="16.7" fill="#4a4a4a">2</text>
<text x="689" y="328.75" font-size="29" stroke="#1a1a1a" stroke-width="0.15">T</text><text x="706.20" y="339.85" font-size="16.7" fill="#4a4a4a">2</text>
<text x="614.1" y="492.2" font-size="29" stroke="#1a1a1a" stroke-width="0.15">T</text><text x="631.30" y="503.30" font-size="16.7" fill="#4a4a4a">2</text>
<text x="612.75" y="645" font-size="29" stroke="#1a1a1a" stroke-width="0.15">T</text><text x="629.95" y="656.10" font-size="16.7" fill="#4a4a4a">2</text>
<text x="895.5" y="46.25" font-size="29" stroke="#1a1a1a" stroke-width="0.15">T</text><text x="912.70" y="57.35" font-size="16.7" fill="#4a4a4a">3</text>
<text x="851.5" y="166.4" font-size="29" stroke="#1a1a1a" stroke-width="0.15">T</text><text x="868.70" y="177.50" font-size="16.7" fill="#4a4a4a">3</text>
<text x="865" y="278.75" font-size="29" stroke="#1a1a1a" stroke-width="0.15">T</text><text x="882.20" y="289.85" font-size="16.7" fill="#4a4a4a">3</text>
<text x="840" y="472.5" font-size="29" stroke="#1a1a1a" stroke-width="0.15">T</text><text x="857.20" y="483.60" font-size="16.7" fill="#4a4a4a">3</text>
<text x="851.25" y="634.5" font-size="29" stroke="#1a1a1a" stroke-width="0.15">T</text><text x="868.45" y="645.60" font-size="16.7" fill="#4a4a4a">3</text>
</g>
</svg>
</body></html>
